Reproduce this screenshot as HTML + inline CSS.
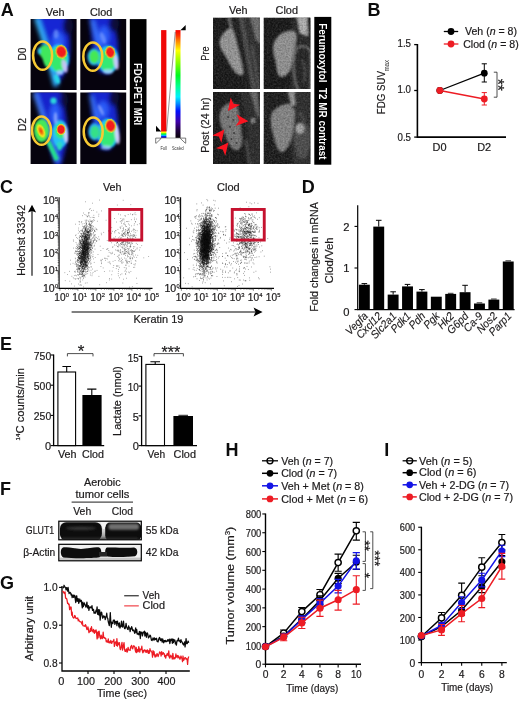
<!DOCTYPE html>
<html><head><meta charset="utf-8"><title>Figure</title>
<style>
html,body{margin:0;padding:0;background:#fff;}
body{width:520px;height:701px;overflow:hidden;font-family:"Liberation Sans",sans-serif;}
svg{display:block;}
svg text{font-family:"Liberation Sans",sans-serif;}
svg text:not([fill]){fill:#1c1a1b;stroke:#1c1a1b;stroke-width:.2px;}
</style></head><body>
<svg width="520" height="701" viewBox="0 0 520 701">
<rect width="520" height="701" fill="#fff"/>
<defs>
<filter id="b05" x="-20%" y="-20%" width="140%" height="140%"><feGaussianBlur stdDeviation=".5"/></filter>
<filter id="b1" x="-30%" y="-30%" width="160%" height="160%"><feGaussianBlur stdDeviation="1"/></filter>
<filter id="b2" x="-40%" y="-40%" width="180%" height="180%"><feGaussianBlur stdDeviation="2"/></filter>
<filter id="b3" x="-50%" y="-50%" width="200%" height="200%"><feGaussianBlur stdDeviation="3.2"/></filter>
<filter id="nz" x="0" y="0" width="100%" height="100%"><feTurbulence type="fractalNoise" baseFrequency=".55" numOctaves="2" seed="7" result="t"/><feColorMatrix in="t" type="matrix" values="0 0 0 0 1  0 0 0 0 1  0 0 0 0 1  .9 .9 0 0 -.62"/></filter>
<filter id="nzd" x="0" y="0" width="100%" height="100%"><feTurbulence type="fractalNoise" baseFrequency=".6" numOctaves="2" seed="3" result="t"/><feColorMatrix in="t" type="matrix" values="0 0 0 0 0  0 0 0 0 0  0 0 0 0 0  .9 .9 0 0 -.62"/></filter>
<linearGradient id="gsc" x1="0" y1="0" x2="0" y2="1">
<stop offset="0" stop-color="#f80000"/><stop offset=".05" stop-color="#ff3000"/><stop offset=".11" stop-color="#ff9000"/><stop offset=".19" stop-color="#ffff00"/><stop offset=".3" stop-color="#88ff00"/><stop offset=".42" stop-color="#00f820"/><stop offset=".52" stop-color="#00ff90"/><stop offset=".62" stop-color="#00f0ff"/><stop offset=".68" stop-color="#0090ff"/><stop offset=".75" stop-color="#0010ff"/><stop offset=".85" stop-color="#4000a8"/><stop offset=".93" stop-color="#200040"/><stop offset="1" stop-color="#080008"/></linearGradient>
<linearGradient id="gfu" x1="0" y1="0" x2="0" y2="1">
<stop offset="0" stop-color="#ff6000"/><stop offset=".18" stop-color="#ffff00"/><stop offset=".42" stop-color="#00f030"/><stop offset=".62" stop-color="#00d0ff"/><stop offset=".8" stop-color="#0020f0"/><stop offset="1" stop-color="#2000a0"/></linearGradient>
<radialGradient id="rsp"><stop offset="0" stop-color="#f81818"/><stop offset=".62" stop-color="#f02020"/><stop offset=".8" stop-color="#f0a020"/><stop offset=".92" stop-color="#c0f040"/><stop offset="1" stop-color="#40e060" stop-opacity="0"/></radialGradient>
<radialGradient id="hot"><stop offset="0" stop-color="#f03010"/><stop offset=".35" stop-color="#f09010"/><stop offset=".6" stop-color="#f0e820"/><stop offset=".85" stop-color="#60e840"/><stop offset="1" stop-color="#30e060" stop-opacity="0"/></radialGradient>
<clipPath id="cp1"><rect x="30.6" y="19.1" width="46" height="70.8"/></clipPath>
<clipPath id="cp2"><rect x="80.3" y="19.1" width="45.9" height="70.8"/></clipPath>
<clipPath id="cp3"><rect x="30.6" y="92.6" width="46" height="71.5"/></clipPath>
<clipPath id="cp4"><rect x="80.3" y="92.6" width="45.9" height="71.5"/></clipPath>
<clipPath id="cm1"><rect x="213" y="17.5" width="47" height="71.5"/></clipPath>
<clipPath id="cm2"><rect x="263.5" y="17.5" width="47" height="71.5"/></clipPath>
<clipPath id="cm3"><rect x="213" y="92" width="47" height="72"/></clipPath>
<clipPath id="cm4"><rect x="263.5" y="92" width="47" height="72"/></clipPath>
</defs>
<g opacity=".999">
<text x=".8" y="16.2" font-size="18" font-weight="bold" fill="#0c0c0c">A</text>
<text x="55.2" y="16.2" font-size="10.6" text-anchor="middle" textLength="18.8" lengthAdjust="spacingAndGlyphs">Veh</text>
<text x="101.2" y="16.2" font-size="10.6" text-anchor="middle" textLength="22.3" lengthAdjust="spacingAndGlyphs">Clod</text>
<text transform="translate(26.4 54.1) rotate(-90)" font-size="11" text-anchor="middle" textLength="13" lengthAdjust="spacingAndGlyphs">D0</text>
<text transform="translate(26.4 124.6) rotate(-90)" font-size="11" text-anchor="middle" textLength="13" lengthAdjust="spacingAndGlyphs">D2</text>
<g clip-path="url(#cp1)">
<rect x="30" y="19" width="47" height="71" fill="#06030e" />
<g filter="url(#b2)"><path d="M35 16L65 16C71 34 72 54 66 70L57 87L54 87Z" fill="#1626d4"/><path d="M36.5 18L46 46L56 86" stroke="#34b4ff" stroke-width="5" fill="none"/><ellipse cx="58" cy="42" rx="6" ry="10" fill="#2c5cf8" /><ellipse cx="68" cy="26" rx="5" ry="9" fill="#070a3c" /></g>
<g filter="url(#b1)"><ellipse cx="58.5" cy="59" rx="10.5" ry="14.5" fill="#24ccf0" /><path d="M39 50C40 45 46 44 50 47C53 52 53 62 50 67C46 69 44 64 43 60C42 56 38 55 39 50Z" fill="#3fe85c"/><ellipse cx="39.2" cy="51" rx="1.6" ry="3.2" fill="#30c0f0" /><ellipse cx="58.5" cy="59.5" rx="8.2" ry="12" fill="#36ea6c" /><ellipse cx="57" cy="79" rx="2.5" ry="5" fill="#28d8e8" transform="rotate(-20 57 79)"/><ellipse cx="64.6" cy="66" rx="2.6" ry="7" fill="#d2c2ff" opacity=".9" transform="rotate(-14 64.6 66)"/><ellipse cx="60" cy="72.5" rx="3.6" ry="2.6" fill="#a8ccff" opacity=".85"/><ellipse cx="56" cy="34" rx="2.5" ry="4.5" fill="#7aa0ff" opacity=".6"/></g>
<ellipse cx="61.3" cy="51.8" rx="6.2" ry="7.4" fill="url(#rsp)" filter="url(#b05)" transform="rotate(-15 61.3 51.8)"/>
<ellipse cx="42.6" cy="55.6" rx="9.5" ry="14.2" fill="none" stroke="#f7c934" stroke-width="2.5" />
</g>
<g clip-path="url(#cp2)">
<rect x="80" y="19" width="47" height="71" fill="#06030e" />
<g filter="url(#b2)"><path d="M89 16L111 16C117 30 120 48 117 62L109 74L99 72L93 50Z" fill="#1626d0"/><path d="M92 20L100 48" stroke="#3a78ff" stroke-width="4" fill="none"/><ellipse cx="104" cy="36" rx="5.5" ry="10" fill="#2c5cf8" /><ellipse cx="114" cy="24" rx="5" ry="8" fill="#070a3c" /></g>
<g filter="url(#b1)"><ellipse cx="108" cy="59.5" rx="10.5" ry="14" fill="#24c8f0" /><ellipse cx="94" cy="56.8" rx="6.6" ry="8.6" fill="#28a8f0" /><ellipse cx="94.2" cy="56.8" rx="5" ry="6.8" fill="#44e854" /><ellipse cx="107.5" cy="60.5" rx="8" ry="11" fill="#36ea74" /><ellipse cx="116" cy="62" rx="2.4" ry="8" fill="#d6c8ff" opacity=".9" transform="rotate(-10 116 62)"/><ellipse cx="108" cy="71.5" rx="5" ry="2.4" fill="#a8d4ff" opacity=".8"/><ellipse cx="103" cy="38" rx="2.5" ry="6" fill="#88a8ff" opacity=".55" transform="rotate(-20 103 38)"/></g>
<ellipse cx="110.2" cy="52.3" rx="5.3" ry="6.6" fill="url(#rsp)" filter="url(#b05)" transform="rotate(-12 110.2 52.3)"/>
<ellipse cx="92.8" cy="56.6" rx="9.5" ry="14.2" fill="none" stroke="#f7c934" stroke-width="2.5" />
</g>
<g clip-path="url(#cp3)">
<rect x="30" y="92" width="47" height="73" fill="#06030e" />
<g filter="url(#b2)"><path d="M34 90L60 90C66 108 69 128 66 146L61 166L55 166Z" fill="#1524cc"/><path d="M35 93L58 162" stroke="#3f7cff" stroke-width="4.5" fill="none"/><ellipse cx="55" cy="114" rx="5" ry="11" fill="#2c5cf8" /><ellipse cx="64" cy="100" rx="4" ry="8" fill="#070a3c" /></g>
<g filter="url(#b1)"><ellipse cx="53.5" cy="100.8" rx="3.2" ry="3.2" fill="#2cd4dc" /><ellipse cx="60" cy="134" rx="8.2" ry="14" fill="#26c0f4" /><path d="M48 141L57 160" stroke="#24e08c" stroke-width="4.4" fill="none"/><ellipse cx="41.5" cy="130.6" rx="7.6" ry="11.6" fill="#46e85a" /><ellipse cx="60.5" cy="131" rx="5.5" ry="7.5" fill="#36ea74" /><ellipse cx="59.5" cy="146" rx="2.6" ry="4.6" fill="#2cdcc0" /><ellipse cx="65.6" cy="134" rx="2.2" ry="9" fill="#dcd0ff" opacity=".9" transform="rotate(-8 65.6 134)"/><ellipse cx="55.5" cy="118" rx="1.8" ry="6" fill="#a4b8ff" opacity=".7"/></g>
<ellipse cx="41" cy="131" rx="4.8" ry="9.2" fill="url(#hot)" filter="url(#b05)" transform="rotate(-22 41 131)"/>
<ellipse cx="61" cy="129.5" rx="4.8" ry="5.8" fill="url(#rsp)" filter="url(#b05)" transform="rotate(0 61 129.5)"/>
<ellipse cx="41.5" cy="130.6" rx="9.5" ry="14.2" fill="none" stroke="#f7c934" stroke-width="2.5" />
</g>
<g clip-path="url(#cp4)">
<rect x="80" y="92" width="47" height="73" fill="#06030e" />
<g filter="url(#b2)"><path d="M89 90L111 90C117 104 120 124 117 140L109 150L99 148L93 124Z" fill="#1626d0"/><path d="M91 96L98 122" stroke="#3a78ff" stroke-width="3.6" fill="none"/><ellipse cx="103" cy="110" rx="5.5" ry="9" fill="#2c5cf8" /><ellipse cx="114" cy="98" rx="5" ry="8" fill="#070a3c" /></g>
<g filter="url(#b1)"><ellipse cx="108" cy="133.5" rx="10.5" ry="15" fill="#24c8f0" /><ellipse cx="94.6" cy="131.6" rx="6.4" ry="8.8" fill="#2c9cf4" /><ellipse cx="94.8" cy="132" rx="4.6" ry="6.6" fill="#34e088" /><ellipse cx="107.5" cy="135.5" rx="8" ry="12" fill="#36ea74" /><ellipse cx="117" cy="134" rx="2.4" ry="10.5" fill="#e0d4ff" opacity=".9" transform="rotate(-8 117 134)"/><ellipse cx="106" cy="147.5" rx="5" ry="2.2" fill="#a4d0ff" opacity=".75"/><ellipse cx="101" cy="110" rx="1.6" ry="6" fill="#a4b8ff" opacity=".6" transform="rotate(-25 101 110)"/></g>
<ellipse cx="110.5" cy="125.8" rx="5.8" ry="7.3" fill="url(#rsp)" filter="url(#b05)" transform="rotate(-8 110.5 125.8)"/>
<ellipse cx="93.2" cy="131.7" rx="9.5" ry="14.2" fill="none" stroke="#f7c934" stroke-width="2.5" />
</g>
<rect x="129.8" y="19.1" width="16.7" height="145" fill="#000" />
<text transform="translate(134.4 94.1) rotate(90)" font-size="11.3" text-anchor="middle" textLength="62.2" lengthAdjust="spacingAndGlyphs" font-weight="bold" fill="#fff">FDG-PET MRI</text>
<rect x="161.1" y="30.1" width="5.3" height="101.5" fill="#f00808" />
<rect x="161.1" y="131.2" width="5.3" height="6.7" fill="url(#gfu)" />
<rect x="175.5" y="30.1" width="5" height="107.8" fill="url(#gsc)" />
<line x1="175.2" y1="32" x2="166.6" y2="131" stroke="#333" stroke-width=".5" />
<line x1="161" y1="138" x2="180.6" y2="138" stroke="#444" stroke-width=".5" />
<path d="M180.4 30.2H185.7V25Z" fill="#000"/>
<path d="M156 125.8V131.4H161.2Z" fill="#000"/>
<path d="M155.7 138.1H161V138.6L156.2 143.2H155.7Z" fill="#fff" stroke="#222" stroke-width=".6"/>
<path d="M180.5 138.1H185.7V143.2H185.3L180.5 138.6Z" fill="#fff" stroke="#222" stroke-width=".6"/>
<text x="163.6" y="149.5" font-size="4.8" text-anchor="middle" textLength="6.4" lengthAdjust="spacingAndGlyphs" fill="#333">Full</text>
<text x="177.9" y="149.5" font-size="4.8" text-anchor="middle" textLength="11.6" lengthAdjust="spacingAndGlyphs" fill="#333">Scaled</text>
<text x="238.3" y="14" font-size="10.6" text-anchor="middle" textLength="18.6" lengthAdjust="spacingAndGlyphs">Veh</text>
<text x="286.8" y="14" font-size="10.6" text-anchor="middle" textLength="22.4" lengthAdjust="spacingAndGlyphs">Clod</text>
<text transform="translate(209.3 53.6) rotate(-90)" font-size="11" text-anchor="middle" textLength="14.2" lengthAdjust="spacingAndGlyphs">Pre</text>
<text transform="translate(209.3 125.2) rotate(-90)" font-size="11" text-anchor="middle" textLength="55.3" lengthAdjust="spacingAndGlyphs">Post (24 hr)</text>
<g clip-path="url(#cm1)">
<rect x="213" y="17.5" width="47" height="71.5" fill="#161616" />
<g filter="url(#b1)">
<path d="M238 17L261 17L261 90L250 90Z" fill="#2e2e2e"/>
<path d="M231 17L238 17L252 90L245 90Z" fill="#1e1e1e"/>
<path d="M239 17L243 17L256 90L252 90Z" fill="#4e4e4e"/>
<path d="M250 17L261 17L261 44L256 40Z" fill="#707070"/>
<path d="M252 46L256 70L258 90" stroke="#5c5c5c" stroke-width="1.6" fill="none"/>
<path d="M228.5 17L231 28" stroke="#8a8a8a" stroke-width="2.2" fill="none"/>
<path d="M230 28C233 27 234 33 236 40C238 50 242 62 243 72C243 76 239 76 236 73C231 68 228 60 224 54C220 48 218 42 221 37C223 33 227 29 230 28Z" fill="#9c9c9c"/>
</g>
<rect x="213" y="17.5" width="47" height="71.5" fill="#fff" filter="url(#nz)" opacity=".2"/>
<rect x="213" y="17.5" width="47" height="71.5" fill="#000" filter="url(#nzd)" opacity=".34"/>
</g>
<g clip-path="url(#cm2)">
<rect x="263.5" y="17.5" width="47" height="71.5" fill="#151515" />
<g filter="url(#b1)">
<path d="M292 17L311 17L311 90L290 90Z" fill="#282828"/>
<path d="M297 17L307 17L308 36L300 33Z" fill="#b8b8b8"/>
<path d="M308 17L311 17L311 40L308 38Z" fill="#141414"/>
<path d="M296 50C300 44 308 46 311 52L311 92L299 92C293 80 292 60 296 50Z" fill="#242424" stroke="#7e7e7e" stroke-width="1.5"/>
<path d="M302 60C305 64 306 74 304 82" stroke="#4a4a4a" stroke-width="2" fill="none"/>
<path d="M273 48C273 40 280 32 288 31C294 30 297 32 296 40C295 48 293 56 292 62C291 70 288 76 282 77C277 77 277 70 276 64C275 58 273 54 273 48Z" fill="#989898"/>
</g>
<rect x="263.5" y="17.5" width="47" height="71.5" fill="#fff" filter="url(#nz)" opacity=".2"/>
<rect x="263.5" y="17.5" width="47" height="71.5" fill="#000" filter="url(#nzd)" opacity=".34"/>
</g>
<g clip-path="url(#cm3)">
<rect x="213" y="92" width="47" height="72" fill="#171717" />
<g filter="url(#b1)">
<path d="M240 91L261 91L261 165L250 165Z" fill="#2a2a2a"/>
<path d="M236 91L241 91L252 165L246 165Z" fill="#1a1a1a"/>
<path d="M250 91L257 91L260 120L256 112Z" fill="#6a6a6a"/>
<path d="M246 140L250 165" stroke="#585858" stroke-width="1.6" fill="none"/>
<path d="M227 104C231 102 235 103 237 106C239 114 241 128 242 140C242 148 239 151 235 150C230 148 228 142 225 135C222 128 219 122 219.5 116C220 110 223 106 227 104Z" fill="#7c7c7c"/>
<ellipse cx="253" cy="120.6" rx="1.8" ry="2.6" fill="#9a9a9a" />
</g>
<ellipse cx="228" cy="117" rx="1.1" ry="1" fill="#3e3e3e" filter="url(#b05)"/>
<ellipse cx="233.5" cy="120" rx="1.1" ry="1" fill="#3e3e3e" filter="url(#b05)"/>
<ellipse cx="230" cy="127" rx="1.1" ry="1" fill="#3e3e3e" filter="url(#b05)"/>
<ellipse cx="234" cy="133" rx="1.1" ry="1" fill="#3e3e3e" filter="url(#b05)"/>
<ellipse cx="231.5" cy="139" rx="1.1" ry="1" fill="#3e3e3e" filter="url(#b05)"/>
<ellipse cx="236.5" cy="143" rx="1.1" ry="1" fill="#3e3e3e" filter="url(#b05)"/>
<rect x="213" y="92" width="47" height="72" fill="#fff" filter="url(#nz)" opacity=".2"/>
<rect x="213" y="92" width="47" height="72" fill="#000" filter="url(#nzd)" opacity=".34"/>
<path d="M0 0L-12.4 -6L-9 0L-12.4 6Z" fill="#fa1420" transform="translate(228 111) rotate(127)"/>
<path d="M0 0L-12.4 -6L-9 0L-12.4 6Z" fill="#fa1420" transform="translate(248.4 121.2) rotate(5)"/>
<path d="M0 0L-12.4 -6L-9 0L-12.4 6Z" fill="#fa1420" transform="translate(224.3 129.4) rotate(-52)"/>
<path d="M0 0L-12.4 -6L-9 0L-12.4 6Z" fill="#fa1420" transform="translate(228.4 142.4) rotate(-51)"/>
</g>
<g clip-path="url(#cm4)">
<rect x="263.5" y="92" width="47" height="72" fill="#171717" />
<g filter="url(#b1)">
<path d="M290 91L311 91L311 165L292 165Z" fill="#2a2a2a"/>
<path d="M287.5 91L294 91L295.5 106L291 105Z" fill="#9a9a9a"/>
<path d="M295 128C298 121 306 122 309 128C311 136 310 150 306 158L298 158C294 148 293 136 295 128Z" fill="#4c4c4c"/>
<ellipse cx="300" cy="128.5" rx="4.2" ry="5.2" fill="#aaaaaa" />
<path d="M300 112L304 122" stroke="#5a5a5a" stroke-width="1.6" fill="none"/>
<path d="M287 104C291 103 295 106 294.8 112C294.5 120 294 128 292 136C290 144 287 151 282.5 152C278 152 276 146 274 138C272 131 270.5 124 270.7 118C271 110 279 105 287 104Z" fill="#888"/>
<ellipse cx="293.6" cy="107.4" rx="1.6" ry="1.9" fill="#141414" />
</g>
<rect x="263.5" y="92" width="47" height="72" fill="#fff" filter="url(#nz)" opacity=".24"/>
<rect x="263.5" y="92" width="47" height="72" fill="#000" filter="url(#nzd)" opacity=".34"/>
</g>
<rect x="314.3" y="16.9" width="17" height="147.8" fill="#000" />
<text transform="translate(319 91.3) rotate(90)" font-size="11.3" text-anchor="middle" textLength="136.3" lengthAdjust="spacingAndGlyphs" font-weight="bold" fill="#fff" xml:space="preserve">Ferumoxytol  T2 MR contrast</text>
<text x="367.5" y="16.2" font-size="18" font-weight="bold" fill="#0c0c0c">B</text>
<path d="M417.4 44V137.1H506" stroke="#000" stroke-width="1.6" fill="none" />
<line x1="414.2" y1="44.6" x2="417.4" y2="44.6" stroke="#000" stroke-width="1.3" />
<line x1="414.2" y1="90.5" x2="417.4" y2="90.5" stroke="#000" stroke-width="1.3" />
<line x1="414.2" y1="137.1" x2="417.4" y2="137.1" stroke="#000" stroke-width="1.3" />
<text x="411" y="46.5" font-size="10.3" text-anchor="end" textLength="13.5" lengthAdjust="spacingAndGlyphs">1.5</text>
<text x="411" y="93.4" font-size="10.3" text-anchor="end" textLength="13.5" lengthAdjust="spacingAndGlyphs">1.0</text>
<text x="411" y="140.8" font-size="10.3" text-anchor="end" textLength="13.5" lengthAdjust="spacingAndGlyphs">0.5</text>
<text x="432.6" y="150.6" font-size="10.5" textLength="14" lengthAdjust="spacingAndGlyphs">D0</text>
<text x="477.2" y="150.6" font-size="10.5" textLength="14" lengthAdjust="spacingAndGlyphs">D2</text>
<text transform="translate(385 114.2) rotate(-90)" font-size="11.2" textLength="43.1" lengthAdjust="spacingAndGlyphs">FDG SUV</text>
<text transform="translate(389.1 71.6) rotate(-90)" font-size="6.8" textLength="11.8" lengthAdjust="spacingAndGlyphs" fill="#333">max</text>
<line x1="439.8" y1="90.5" x2="484.3" y2="73.2" stroke="#000" stroke-width="1.3" />
<line x1="439.8" y1="90.5" x2="484.3" y2="99" stroke="#ed1c24" stroke-width="1.3" />
<path d="M484.3 63.8V82M481.7 63.8h5.2M481.7 82h5.2" stroke="#000" stroke-width="1" fill="none" />
<path d="M484.3 92.6V105M481.7 92.6h5.2M481.7 105h5.2" stroke="#ed1c24" stroke-width="1" fill="none" />
<circle cx="484.3" cy="73.2" r="3.4" fill="#000" />
<circle cx="439.8" cy="90.5" r="3.4" fill="#000" />
<circle cx="484.3" cy="99" r="3.4" fill="#ed1c24" />
<circle cx="439.8" cy="90.5" r="3.4" fill="#ed1c24" />
<path d="M493.8 72.2H497V97.2H493.8" stroke="#222" stroke-width=".8" fill="none" />
<text transform="translate(491.7 84.8) rotate(90)" font-size="16.5" text-anchor="middle" textLength="12.32" lengthAdjust="spacingAndGlyphs">**</text>
<line x1="443.8" y1="31.5" x2="458.2" y2="31.5" stroke="#000" stroke-width="1.3" />
<circle cx="451" cy="31.5" r="3.4" fill="#000" />
<line x1="443.8" y1="44" x2="458.4" y2="44" stroke="#ed1c24" stroke-width="1.3" />
<circle cx="451" cy="44" r="3.4" fill="#ed1c24" />
<text x="465" y="35.2" font-size="10.5" textLength="52" lengthAdjust="spacingAndGlyphs">Veh (<tspan font-style="italic">n</tspan> = 8)</text>
<text x="463.2" y="48.2" font-size="10.5" textLength="55.5" lengthAdjust="spacingAndGlyphs">Clod (<tspan font-style="italic">n</tspan> = 8)</text>
<text x=".05" y="193.2" font-size="18" font-weight="bold" fill="#0c0c0c">C</text>
<text x="112.3" y="190.5" font-size="10.4" text-anchor="middle" textLength="18.6" lengthAdjust="spacingAndGlyphs">Veh</text>
<text x="228.4" y="190.5" font-size="10.4" text-anchor="middle" textLength="22.6" lengthAdjust="spacingAndGlyphs">Clod</text>
<path d="M59.1 197.2V288.4H152.5" stroke="#000" stroke-width="1.1" fill="none" />
<path d="M59.1 288.4h-2.6M59.9 288.4v2.4M59.1 283.13h-1.4M65.32 288.4v1.3M59.1 280.05h-1.4M68.49 288.4v1.3M59.1 277.86h-1.4M70.74 288.4v1.3M59.1 276.17h-1.4M72.48 288.4v1.3M59.1 274.78h-1.4M73.91 288.4v1.3M59.1 273.61h-1.4M75.11 288.4v1.3M59.1 272.6h-1.4M76.16 288.4v1.3M59.1 271.7h-1.4M77.08 288.4v1.3M59.1 270.9h-2.6M77.9 288.4v2.4M59.1 265.63h-1.4M83.32 288.4v1.3M59.1 262.55h-1.4M86.49 288.4v1.3M59.1 260.36h-1.4M88.74 288.4v1.3M59.1 258.67h-1.4M90.48 288.4v1.3M59.1 257.28h-1.4M91.91 288.4v1.3M59.1 256.11h-1.4M93.11 288.4v1.3M59.1 255.1h-1.4M94.16 288.4v1.3M59.1 254.2h-1.4M95.08 288.4v1.3M59.1 253.4h-2.6M95.9 288.4v2.4M59.1 248.13h-1.4M101.32 288.4v1.3M59.1 245.05h-1.4M104.49 288.4v1.3M59.1 242.86h-1.4M106.74 288.4v1.3M59.1 241.17h-1.4M108.48 288.4v1.3M59.1 239.78h-1.4M109.91 288.4v1.3M59.1 238.61h-1.4M111.11 288.4v1.3M59.1 237.6h-1.4M112.16 288.4v1.3M59.1 236.7h-1.4M113.08 288.4v1.3M59.1 235.9h-2.6M113.9 288.4v2.4M59.1 230.63h-1.4M119.32 288.4v1.3M59.1 227.55h-1.4M122.49 288.4v1.3M59.1 225.36h-1.4M124.74 288.4v1.3M59.1 223.67h-1.4M126.48 288.4v1.3M59.1 222.28h-1.4M127.91 288.4v1.3M59.1 221.11h-1.4M129.11 288.4v1.3M59.1 220.1h-1.4M130.16 288.4v1.3M59.1 219.2h-1.4M131.08 288.4v1.3M59.1 218.4h-2.6M131.9 288.4v2.4M59.1 213.13h-1.4M137.32 288.4v1.3M59.1 210.05h-1.4M140.49 288.4v1.3M59.1 207.86h-1.4M142.74 288.4v1.3M59.1 206.17h-1.4M144.48 288.4v1.3M59.1 204.78h-1.4M145.91 288.4v1.3M59.1 203.61h-1.4M147.11 288.4v1.3M59.1 202.6h-1.4M148.16 288.4v1.3M59.1 201.7h-1.4M149.08 288.4v1.3M59.1 200.9h-2.6M149.9 288.4v2.4" stroke="#222" stroke-width=".55" fill="none" />
<text x="54.7" y="291.9" font-size="10" text-anchor="end" textLength="11.8" lengthAdjust="spacingAndGlyphs">10</text><text x="54.9" y="288" font-size="5.8">0</text>
<text x="54.3" y="301.1" font-size="10" textLength="11.2" lengthAdjust="spacingAndGlyphs">10</text><text x="65.7" y="297.2" font-size="5.8">0</text>
<text x="54.7" y="274.4" font-size="10" text-anchor="end" textLength="11.8" lengthAdjust="spacingAndGlyphs">10</text><text x="54.9" y="270.5" font-size="5.8">1</text>
<text x="72.3" y="301.1" font-size="10" textLength="11.2" lengthAdjust="spacingAndGlyphs">10</text><text x="83.7" y="297.2" font-size="5.8">1</text>
<text x="54.7" y="256.9" font-size="10" text-anchor="end" textLength="11.8" lengthAdjust="spacingAndGlyphs">10</text><text x="54.9" y="253" font-size="5.8">2</text>
<text x="90.3" y="301.1" font-size="10" textLength="11.2" lengthAdjust="spacingAndGlyphs">10</text><text x="101.7" y="297.2" font-size="5.8">2</text>
<text x="54.7" y="239.4" font-size="10" text-anchor="end" textLength="11.8" lengthAdjust="spacingAndGlyphs">10</text><text x="54.9" y="235.5" font-size="5.8">3</text>
<text x="108.3" y="301.1" font-size="10" textLength="11.2" lengthAdjust="spacingAndGlyphs">10</text><text x="119.7" y="297.2" font-size="5.8">3</text>
<text x="54.7" y="221.9" font-size="10" text-anchor="end" textLength="11.8" lengthAdjust="spacingAndGlyphs">10</text><text x="54.9" y="218" font-size="5.8">4</text>
<text x="126.3" y="301.1" font-size="10" textLength="11.2" lengthAdjust="spacingAndGlyphs">10</text><text x="137.7" y="297.2" font-size="5.8">4</text>
<text x="54.7" y="204.4" font-size="10" text-anchor="end" textLength="11.8" lengthAdjust="spacingAndGlyphs">10</text><text x="54.9" y="200.5" font-size="5.8">5</text>
<text x="144.3" y="301.1" font-size="10" textLength="11.2" lengthAdjust="spacingAndGlyphs">10</text><text x="155.7" y="297.2" font-size="5.8">5</text>
<path d="M89.64 243.83h.68M82.61 259.18h.68M82.73 252.64h.68M76.8 253.37h.68M83.44 258.36h.68M83.82 246.13h.68M82.47 253.83h.68M84.64 255.07h.68M85.93 245.03h.68M81.81 246.11h.68M80.77 261.36h.68M82.8 252.12h.68M83.36 278.01h.68M83.27 275.46h.68M81.42 243.58h.68M80.77 255.06h.68M88.38 229.08h.68M89.14 244.14h.68M85.08 241.35h.68M83.19 242.67h.68M89.52 227.34h.68M83.06 254.08h.68M85.99 252.69h.68M89.28 242.06h.68M85.99 250.16h.68M83.37 261.28h.68M84.39 268.85h.68M83.94 236.22h.68M81.95 268.65h.68M84.56 231.88h.68M84.57 241.8h.68M83.33 246.58h.68M81.99 268.12h.68M82.51 257.66h.68M83.8 257.45h.68M82.64 268.27h.68M84.76 253.45h.68M88.49 245.95h.68M78.4 267.24h.68M87.95 248.51h.68M84.98 236.83h.68M82.8 231.69h.68M83.56 252.7h.68M82.38 271.71h.68M86.26 259.21h.68M81.29 251.47h.68M83.44 264.42h.68M86.18 234.37h.68M79.18 255.73h.68M81.6 244.97h.68M84.3 266.25h.68M87.02 241.62h.68M86.25 259.86h.68M85.42 253.17h.68M85.25 251.13h.68M83.77 258.66h.68M87.61 249.5h.68M80.33 266.91h.68M84.05 248.64h.68M87.66 226.78h.68M78.34 267.01h.68M86.26 265.76h.68M81.5 256.58h.68M82.46 266.42h.68M89.26 258.63h.68M82.89 241.71h.68M85.05 228.19h.68M89.58 239.35h.68M81.61 247.76h.68M82.46 256.73h.68M87.18 235.14h.68M86.44 240.88h.68M84.13 267.77h.68M85.98 243.16h.68M88.65 242.78h.68M88.01 240.34h.68M84.01 268.95h.68M81.49 259.68h.68M81.29 260.82h.68M77.22 269.27h.68M84.99 261.61h.68M77.8 265.81h.68M86.17 255h.68M88.22 260.6h.68M80.64 257.91h.68M81.58 258.7h.68M84.22 237.95h.68M86.69 248.53h.68M82.28 246.87h.68M84.58 243.7h.68M82.84 250.43h.68M81.52 270.97h.68M86.65 261.36h.68M81.5 251.95h.68M84.03 254.61h.68M83.39 266.47h.68M87.88 237.41h.68M80.37 255.17h.68M85.39 269.24h.68M83.4 270.77h.68M85.58 260.81h.68M83.8 256.95h.68M81.8 230.77h.68M83.26 242.92h.68M86.48 250.32h.68M83.9 254.97h.68M83.64 255.33h.68M91.6 225.4h.68M90.76 244.81h.68M83.82 253.81h.68M90.29 242.24h.68M79.09 248.24h.68M78.13 256.38h.68M86.23 254.11h.68M83.33 252.66h.68M84.98 258.86h.68M84.38 263.19h.68M84.31 247.5h.68M87.23 239.09h.68M85.4 243.02h.68M80.63 245.28h.68M84.87 250.25h.68M86.39 234.08h.68M90.02 242.32h.68M81.46 247.96h.68M82.77 265.75h.68M82.5 256.54h.68M84.03 249.12h.68M87.73 260.54h.68M85.04 252.8h.68M82.71 253.4h.68M83.46 262.6h.68M85.91 254.56h.68M81.36 252.54h.68M82.7 258.81h.68M88.98 244.84h.68M86.47 251.39h.68M86.41 227.72h.68M83.38 246.29h.68M82.09 267.9h.68M80.42 246.96h.68M86.75 250.92h.68M85.59 246.28h.68M85.71 239.62h.68M80.16 256.33h.68M82.3 250.71h.68M84.39 262.99h.68M85.88 241.18h.68M82.82 251.39h.68M85.94 247.23h.68M87.39 244.49h.68M81.19 262.9h.68M83.57 242.92h.68M82.65 243.04h.68M78.3 278.85h.68M86.43 250.21h.68M85.8 248.74h.68M84.6 256.11h.68M82.14 239.94h.68M80.99 254.9h.68M85.31 238.04h.68M83.6 245.8h.68M85.15 244.72h.68M80.82 265.88h.68M85.27 258.01h.68M87.02 271.37h.68M86.53 269.5h.68M89.3 243.5h.68M83.81 256.86h.68M87.16 246.28h.68M83.87 244.08h.68M85.36 264.25h.68M81.59 266.87h.68M82.73 252.47h.68M82.08 254.77h.68M85.76 254.28h.68M84.58 254.62h.68M84.31 254.94h.68M82.23 239.93h.68M83.9 257.82h.68M81.06 243.49h.68M89.49 237.95h.68M83.99 249.5h.68M84.42 254.02h.68M82.98 260.31h.68M79.5 255.23h.68M80.17 254.28h.68M84.85 243.71h.68M87.79 255.42h.68M80.95 253.36h.68M81.97 254.23h.68M84.89 242.81h.68M77.77 269.74h.68M78.78 259.34h.68M82.34 258.5h.68M83.97 252.05h.68M83.46 247.88h.68M87.32 261.25h.68M85.22 236.41h.68M85.68 245.91h.68M88.84 247.76h.68M88.17 257.26h.68M80.25 247.55h.68M81.62 266.61h.68M89.28 231.59h.68M78.76 268.2h.68M81.36 254.44h.68M79.67 261.3h.68M81.09 245.28h.68M80 262.35h.68M85.04 247.33h.68M87.35 253.75h.68M89.97 234.59h.68M83.64 256.93h.68M78.75 252.28h.68M86.13 230.14h.68M83.4 249.8h.68M85.51 247.4h.68M82.96 259.96h.68M80.11 243.44h.68M85.11 253.03h.68M77.2 265.12h.68M83.31 241.27h.68M82.98 271.62h.68M84.89 253.6h.68M88.7 248.38h.68M79.34 235.82h.68M87.09 231.28h.68M85.02 261.44h.68M83.84 245.78h.68M86.62 244.01h.68M80.06 262.63h.68M85.24 258.36h.68M85.53 252.24h.68M83.18 234.67h.68M84.57 229.32h.68M82.66 261.32h.68M82.49 250.39h.68M87.32 248h.68M82.57 272.05h.68M88.22 246.27h.68M86.98 254.9h.68M81.99 274.71h.68M83.01 257.71h.68M82.26 244.86h.68M82.96 241.64h.68M80.7 264.4h.68M86.51 237.31h.68M80.89 260.21h.68M82.62 268.89h.68M84.83 249.94h.68M81.94 260.16h.68M83.61 251.84h.68M86.53 266.73h.68M88.24 254.12h.68M82.85 243.35h.68M83.27 255.06h.68M83.02 252.74h.68M84.12 244.31h.68M88.6 248.49h.68M87.38 237.78h.68M88.52 241.83h.68M88.28 258.21h.68M85.04 230.69h.68M83.38 254.17h.68M84.28 251.25h.68M87.61 244.59h.68M82.39 266.65h.68M85.17 258.75h.68M88 244.54h.68M87.11 253.35h.68M84.38 261.24h.68M83.8 233.71h.68M79.76 253.49h.68M87.49 248.37h.68M84.99 255.47h.68M79.33 274.41h.68M83.55 243.91h.68M83.36 247.33h.68M80.99 237.85h.68M84.63 253.52h.68M81.38 257.96h.68M86.12 223.9h.68M84.56 267.35h.68M82.17 268.76h.68M88.61 221.58h.68M87 234.37h.68M83.75 256.36h.68M84.21 252.18h.68M87.91 264.14h.68M84.03 248.06h.68M87.14 265.51h.68M83.22 236.13h.68M85.69 255.84h.68M85.11 246.49h.68M82.72 246.11h.68M78.98 231.73h.68M88.92 246.82h.68M79.53 266.53h.68M82.28 244.18h.68M84.77 248.81h.68M84.17 252.84h.68M85.98 240.68h.68M83.18 254.34h.68M79.49 257.62h.68M86.76 248.78h.68M83.77 230.87h.68M83.06 268.38h.68M85.65 252.03h.68M87.37 251.24h.68M83.8 249.15h.68M83.98 244.95h.68M85.36 233.09h.68M79.21 250.96h.68M81.95 253.16h.68M80.34 262.43h.68M79.24 269.59h.68M85.41 243.47h.68M81.53 269.33h.68M88.36 252.49h.68M87.52 258.01h.68M80.19 240.29h.68M84.09 255.37h.68M82.48 241.15h.68M84.9 259.02h.68M85.95 237.72h.68M86.61 252.01h.68M85.45 246.93h.68M85.8 255.52h.68M83.05 254.39h.68M77.19 253.38h.68M81.5 246.05h.68M80.87 261.2h.68M82.18 257.98h.68M82.26 243.03h.68M87.71 259.95h.68M84.39 244.58h.68M87.53 252.69h.68M83.32 250.66h.68M88.69 250.72h.68M80 260.56h.68M87.74 231.84h.68M79.12 265.88h.68M87.27 232.23h.68M87.03 265.58h.68M79.08 258.11h.68M83.4 235.43h.68M84.37 255.89h.68M83.95 248.45h.68M81.71 238.9h.68M85.88 265.42h.68M83 264.44h.68M87.16 256.31h.68M83.09 270.73h.68M80.8 253.82h.68M83.09 249.12h.68M86.35 266.78h.68M81.16 244.02h.68M81.93 261.12h.68M84.46 264.65h.68M86.56 254.77h.68M86.18 253.5h.68M79.55 257.72h.68M89.42 255.09h.68M84.39 244.64h.68M88.07 212.64h.68M84.62 246.69h.68M85.06 236.11h.68M80.36 263.25h.68M83.68 247.34h.68M87.36 255.07h.68M79.54 260.79h.68M76.35 263.83h.68M86.54 242.09h.68M82.56 276.48h.68M85 262.68h.68M88 259.61h.68M83.11 242.31h.68M82.29 274.92h.68M84.68 259.8h.68M86.13 264.92h.68M87.16 249.15h.68M79.66 273.64h.68M78.69 268.9h.68M83.43 251.33h.68M77.48 274.68h.68M88.23 240.67h.68M82.02 262.15h.68M82.38 259.62h.68M80.89 260.06h.68M88.97 244.46h.68M85.26 248.19h.68M81.9 262.89h.68M84.55 264h.68M83.92 251.46h.68M85.99 249.09h.68M88.24 246.16h.68M81.91 266.78h.68M85.67 250.16h.68M86.02 245.66h.68M89.31 230.51h.68M87.73 231.73h.68M85.49 238.99h.68M84.69 228.73h.68M85.42 246.77h.68M81.69 247.87h.68M87.06 240.04h.68M84.82 246.41h.68M85.78 250.07h.68M84.76 231.39h.68M81.24 258.92h.68M84.81 220.26h.68M85.01 272.75h.68M85.25 234.56h.68M83.55 251.31h.68M79.77 246.97h.68M83.63 255.16h.68M75.7 242.56h.68M87.28 256.95h.68M85.3 233.46h.68M83.41 259.43h.68M80.67 247.78h.68M80.83 255.15h.68M84.7 262.34h.68M84.97 237.67h.68M86.03 244.32h.68M88.48 242.55h.68M86.11 249.84h.68M78.9 252.78h.68M80.74 259.01h.68M80.9 253.36h.68M81.93 249.18h.68M77.98 257h.68M77.52 262.42h.68M81.12 261.73h.68M80.25 274.32h.68M86.3 243.94h.68M83.07 253.56h.68M89.54 236.02h.68M80.04 243.29h.68M79.75 257.88h.68M83.47 264.98h.68M84.01 245.5h.68M81.01 256.2h.68M86.18 251.9h.68M86.57 256.68h.68M87.49 253.46h.68M83.65 245.72h.68M86.67 226.04h.68M86.47 234.35h.68M83.92 255.29h.68M87.04 250.06h.68M80.55 274.17h.68M85.14 251.55h.68M77.21 261.19h.68M87.54 237.9h.68M90.17 235.53h.68M83.9 253.27h.68M85.13 269.61h.68M79.25 255.54h.68M83.64 247.52h.68M79.58 255.54h.68M84.37 257.9h.68M85.1 256.04h.68M80.46 251.3h.68M83.08 239.33h.68M83.87 238.39h.68M91.3 245.32h.68M84.14 249.59h.68M85.97 236.46h.68M83.4 268.72h.68M84.33 257.66h.68M84.13 245.19h.68M79.75 259.51h.68M79.66 278h.68M88.33 253.76h.68M84.63 253.53h.68M82.04 262.46h.68M82.04 236.03h.68M84.66 244.8h.68M85.13 242.56h.68M81.58 259.58h.68M88.46 232.43h.68M82.24 254.65h.68M84.27 245.73h.68M86.78 247.91h.68M85.41 244.9h.68M85.6 267.32h.68M84.52 241.53h.68M84.34 237.86h.68M85.11 254.48h.68M85.41 244.65h.68M86.83 256.69h.68M85.35 250.4h.68M84.08 251.43h.68M85.35 251.63h.68M87.84 232.3h.68M83.4 228.7h.68M81.59 273.24h.68M84.59 238.03h.68M86.87 256.73h.68M84.13 238.57h.68M87.17 249.98h.68M81.08 248.04h.68M82.45 267h.68M87.31 248.69h.68M85.2 233.99h.68M88.89 235.25h.68M78.4 254.29h.68M83.32 260.58h.68M82.42 273.16h.68M81.52 274.46h.68M81.7 235.28h.68M86.13 249.66h.68M79.26 237.48h.68M86.46 254.04h.68M84.1 259.83h.68M88.89 230.75h.68M82.57 260.41h.68M80.41 258.93h.68M83.09 248.15h.68M83.61 244.33h.68M83.99 269.3h.68M83.53 249.31h.68M86.53 238.93h.68M85.39 252.19h.68M86.9 262.42h.68M78.08 258.57h.68M85.28 229.34h.68M87.58 235.94h.68M86.54 246.41h.68M82.55 252.59h.68M83.35 252.57h.68M85.37 237.06h.68M83.58 261.07h.68M82.2 256.15h.68M84.25 233.55h.68M82.29 240.33h.68M83.34 249.7h.68M89.67 234.14h.68M81.66 251.26h.68M86.66 252.83h.68M89.97 246.12h.68M84.17 257.33h.68M88.63 270.95h.68M84.62 243.7h.68M88.25 256.23h.68M84.65 246.01h.68M79.31 267.94h.68M83.84 264.83h.68M89.38 251h.68M83.38 244.21h.68M84.73 259.65h.68M81.68 250.32h.68M83.27 237.47h.68M86.64 239.93h.68M83.99 249.22h.68M83.44 274.99h.68M86.54 263.08h.68M79.6 266.31h.68M81.42 261.44h.68M82.91 266.28h.68M88.91 267.65h.68M84.67 238.82h.68M82.36 257.77h.68M84.82 257.98h.68M89.48 256.51h.68M82.32 255.66h.68M86.31 223.22h.68M84.27 253.05h.68M87.9 236.06h.68M89.2 261.58h.68M81.58 245.31h.68M80.2 247.98h.68M84.88 250.39h.68M88.1 228.44h.68M78.57 249.08h.68M84.15 236.99h.68M85.95 261.52h.68M83.59 245.11h.68M86.99 238.42h.68M83.53 264.63h.68M86.52 247.67h.68M86.68 240.23h.68M85.27 249.78h.68M88.03 248.78h.68M82.68 253.52h.68M85.9 239.87h.68M86.33 262.73h.68M82.6 254.5h.68M81.68 268.87h.68M81.82 257.15h.68M83.02 240.17h.68M88.77 262.66h.68M86.03 248.14h.68M89.43 252.13h.68M89.17 223.89h.68M86.07 237.19h.68M82.21 266.12h.68M83.98 263.16h.68M86.3 231.64h.68M86.58 254.69h.68M81.75 254.83h.68M83.56 264.79h.68M86.93 239.03h.68M85.78 231.87h.68M83.51 254.47h.68M86.69 243.76h.68M86.64 244.56h.68M85.19 241.18h.68M83.07 264.76h.68M83.92 241.57h.68M84.91 261.73h.68M83.46 257.91h.68M80.96 243.88h.68M82.54 261.9h.68M84.71 265.1h.68M84.81 255.1h.68M82.3 248.61h.68M85.57 259.52h.68M86.88 242.95h.68M85.51 256.63h.68M86.83 268.09h.68M84.99 236.36h.68M88.01 231.28h.68M82.89 259.21h.68M88.02 241.44h.68M88.01 246.14h.68M85.53 252.82h.68M87.06 244.34h.68M82.04 252.53h.68M87.12 240.32h.68M81.73 245.29h.68M90.27 250.19h.68M86.84 257.24h.68M80.66 246.55h.68M76.76 254.9h.68M87.15 257.83h.68M81.43 256.72h.68M85.88 249.91h.68M79.34 265.55h.68M85.31 242.64h.68M81.36 262.73h.68M84.77 262.14h.68M82.36 261.01h.68M88.82 245.55h.68M81.13 261.82h.68M87.16 256.5h.68M85.42 238.88h.68M85.97 247.83h.68M81.37 236.77h.68M79.07 255.42h.68M85.52 266.62h.68M79.88 261.44h.68M84.39 240.28h.68M84.45 240.22h.68M81.98 249.18h.68M84.91 249.6h.68M79.58 259.44h.68M81.34 247.74h.68M85.45 263.66h.68M82.61 245.48h.68M85.05 262.71h.68M87.57 235.38h.68M88.89 245.26h.68M85.37 251.77h.68M78.32 260.46h.68M81.85 257.14h.68M84.02 241.84h.68M88.92 237.05h.68M85.13 251.12h.68M82.95 250.42h.68M85.77 247.08h.68M83.23 251.14h.68M87.11 236.78h.68M84.02 257h.68M86.06 262.3h.68M86.04 241.62h.68M87.79 242.01h.68M82.78 264.9h.68M84.91 263.16h.68M84.62 242.66h.68M86.65 243.91h.68M86.69 232.18h.68M83.29 256.79h.68M82.81 253.58h.68M83.39 251.7h.68M82.96 276.17h.68M78.17 249.4h.68M87.64 250.1h.68M77.49 254.2h.68M83.86 249.32h.68M82.05 263.57h.68M86.34 249.59h.68M84.65 252.82h.68M81.57 276.17h.68M85.02 245.1h.68M88.02 238.31h.68M90.3 253.21h.68M85.85 244.7h.68M79.29 244.5h.68M82.78 253.89h.68M84.35 260.81h.68M94.79 234.61h.68M82.31 249.25h.68M85.45 228.44h.68M84.66 261.48h.68M86.17 239.98h.68M79.89 258.39h.68M84.75 271.03h.68M79.15 266.02h.68M83 255.83h.68M89.94 229.34h.68M78.54 271.95h.68M83.71 246.58h.68M87.82 259.9h.68M84.04 245.58h.68M81.62 248.47h.68M80.84 268.84h.68M88.27 232.85h.68M81.31 237.51h.68M82.8 247.85h.68M79.09 262.7h.68M83.82 223.55h.68M86.28 264.91h.68M84.42 246.51h.68M82.24 258.71h.68M82.45 279.97h.68M81.7 256.69h.68M79.73 263.16h.68M85.77 266.24h.68M86.89 247.8h.68M81.74 252.67h.68M86.28 249.24h.68M87.89 253.48h.68M85.85 247.79h.68M86.11 245.37h.68M81.5 244.44h.68M82.99 259.5h.68M80.6 236.42h.68M87.09 252.23h.68M82.21 266.18h.68M89.3 235.78h.68M84.03 231.71h.68M85.82 258.5h.68M80.77 242.24h.68M83.9 242.99h.68M84.97 258.07h.68M84.82 254.44h.68M84.78 243.54h.68M80.08 247.39h.68M89.41 234.73h.68M86.63 244.58h.68M87.38 250.15h.68M86.65 257.08h.68M82.52 257.52h.68M83.34 270.18h.68M91.46 250.26h.68M80.81 262.02h.68M85 254.03h.68M83.75 240.21h.68M88.6 254.56h.68M84.28 254.91h.68M80.61 258.49h.68M82 256.51h.68M80.21 252.52h.68M78.96 241.22h.68M77.13 247.68h.68M81.89 254.22h.68M80.39 258.2h.68M83.7 260.01h.68M81.53 255.03h.68M84.1 258.06h.68M87.45 266.82h.68M80.75 253.31h.68M81.47 245.14h.68M88.43 235.41h.68M90.56 251.41h.68M81.12 257.85h.68M79.98 246.89h.68M81.77 267.28h.68M84.04 241.45h.68M86.54 246.88h.68M81.34 250.51h.68M84.84 237.29h.68M82.24 262.01h.68M80.71 242.62h.68M81.21 237.84h.68M87.44 230.69h.68M84.69 260.92h.68M80.63 264.82h.68M89.61 239.58h.68M88.34 235.02h.68M85.99 245.71h.68M85.91 250.52h.68M85.77 244.73h.68M85.67 255.93h.68M87.76 238.94h.68M82.14 273.36h.68M78.2 254.62h.68M82.66 261.84h.68M82.37 246.26h.68M79.89 261.32h.68M84.01 269.06h.68M80.11 242.83h.68M86.33 252.28h.68M81.34 261.86h.68M80.36 255.43h.68M82.73 241.6h.68M91.12 245.75h.68M87.59 257.33h.68M83.04 254.56h.68M87.84 243.65h.68M88.71 254.57h.68M84.23 226.47h.68M83.31 251.74h.68M85.66 261.48h.68M84.26 261.2h.68M83.63 246.19h.68M88.38 253.69h.68M85.34 253.41h.68M86.5 249.58h.68M91.68 241.89h.68M87.13 234.93h.68M92.18 243.86h.68M86.44 236.78h.68M86.15 226.83h.68M83.33 263.09h.68M88.34 233.47h.68M86.88 242.1h.68M86.11 241.92h.68M82.23 229.55h.68M81.06 252.19h.68M85.59 229.53h.68M84.51 267.7h.68M89.99 232.69h.68M78.73 239.21h.68M84.25 246.07h.68M83.36 246.41h.68M84.17 247.88h.68M83.81 260.36h.68M80.57 263.37h.68M78.09 275.17h.68M88.31 237.46h.68M85.06 262.75h.68M82.22 258.85h.68M84.1 248.17h.68M83.64 237.06h.68M77.53 278.37h.68M84.53 265.16h.68M84.21 232.03h.68M79.29 268.68h.68M81.88 257.06h.68M88.32 254.52h.68M84.4 260.7h.68M85.39 245.13h.68M84.47 250.36h.68M85.39 262.44h.68M87.38 238.94h.68M81.99 236.55h.68M85.29 232.97h.68M81.44 260.08h.68M85.85 239.88h.68M84.3 247.66h.68M79.13 245.95h.68M86.6 258.04h.68M84.41 255.43h.68M80.2 242.39h.68M85.68 267.01h.68M83.95 256.17h.68M85 255.24h.68M84.64 246.55h.68M84.9 247.59h.68M82.96 248.5h.68M79.46 251.54h.68M81.88 256.05h.68M84.08 256.09h.68M84.45 248.45h.68M85.98 249.89h.68M83 259.09h.68M76.53 264.56h.68M84.67 265.15h.68M81.83 250.99h.68M81.73 237.2h.68M82.96 253.05h.68M80.07 253.11h.68M84.91 252.17h.68M80.89 256.97h.68M89.89 245.72h.68M83.18 252.54h.68M85.03 225.57h.68M80.22 270.95h.68M78.01 251.58h.68M81.94 247.68h.68M81.32 256.97h.68M83.35 248.44h.68M78.68 243.09h.68M83.17 260.42h.68M87.46 251.83h.68M83.57 243.61h.68M83.09 258.79h.68M84.69 256.06h.68M81.39 255.33h.68M83.14 247.79h.68M85.45 263.04h.68M85.55 241.12h.68M79.73 260.41h.68M77.46 267.94h.68M91.35 240.98h.68M85.03 253.62h.68M81.7 231.19h.68M84.47 251.41h.68M87.85 232.09h.68M85.9 236.21h.68M78.72 253.21h.68M87.9 262.97h.68M85.21 256.57h.68M83.83 248.55h.68M86.88 242.28h.68M83.5 251.15h.68M80.55 277.71h.68M85.03 266.68h.68M80.19 236.16h.68M87.71 243.04h.68M86.86 235.02h.68M85.64 257.14h.68M87.02 247.7h.68M90.18 233.85h.68M88.36 248.96h.68M87.18 245.51h.68M84.33 239.11h.68M86.51 246.95h.68M81.95 260.53h.68M82.64 240.56h.68M85.9 246.9h.68M86.82 235.07h.68M87.99 246.32h.68M76.86 266.09h.68M85.3 256.98h.68M86.9 243.03h.68M85.25 244.26h.68M86.96 264.89h.68M82.02 249.54h.68M85.78 245.34h.68M81.98 263.78h.68M84.68 246.66h.68M82.41 243.21h.68M83.43 255.82h.68M87.55 236.93h.68M85.07 246.61h.68M86.07 242.8h.68M81.99 253.1h.68M88.73 250.32h.68M80.3 271.93h.68M83.53 259.32h.68M85.82 252.02h.68M83.1 258.11h.68M86.55 249.38h.68M84.47 254.73h.68M88.25 258.38h.68M85.22 257.05h.68M83.75 267.54h.68M81.38 258.14h.68M86.27 244.13h.68M86.67 254.92h.68M86.6 239.46h.68M79.42 274.34h.68M84.79 231.2h.68M83.71 250.51h.68M83.7 257.49h.68M81.45 241.53h.68M89.81 247.11h.68M82.8 263.17h.68M85.87 238.3h.68M81.98 261.96h.68M84.35 249.17h.68M89.85 247.73h.68M79.42 273.61h.68M81.92 260.32h.68M80.94 256.03h.68M82.97 248.91h.68M88.17 253.7h.68M82.66 249.85h.68M80.92 271.94h.68M79.02 253.95h.68M84.01 243.63h.68M85.35 246.18h.68M82.39 256.26h.68M84.31 239.56h.68M87.19 243.38h.68M87.39 233.96h.68M86.45 226.2h.68M79.53 276.92h.68M80.31 249.44h.68M86.78 271.49h.68M79.33 258.17h.68M85.6 255.14h.68M84.85 239.71h.68M82.21 251.5h.68M86.38 253.83h.68M83.14 241.98h.68M86.8 259.88h.68M80 265.65h.68M84.98 257.26h.68M87.39 254.41h.68M83.42 233.1h.68M86.78 282.83h.68M85.65 260.41h.68M79.45 239.01h.68M89.21 239.28h.68M90.09 244.59h.68M84.55 241.01h.68M83.59 252.47h.68M86.13 242.48h.68M78.86 253.42h.68M85.08 247h.68M87 249.03h.68M83.98 238.85h.68M86.99 253.96h.68M89.86 254.92h.68M79.74 242.94h.68M81.09 233.6h.68M82.18 252.57h.68M87.88 231.94h.68M86.09 243.04h.68M81.17 256.95h.68M79.7 265.72h.68M82.5 248.61h.68M88.42 255.44h.68M80.16 266.02h.68M83.78 240.01h.68M87.26 246.86h.68M83.14 254.84h.68M80.02 266.34h.68M89.4 238.45h.68M86.45 238.14h.68M81.26 262.31h.68M81.83 264.93h.68M87.44 244.56h.68M83.16 252.19h.68M83.86 262.21h.68M86.89 249.05h.68M89.07 230.25h.68M79.02 253.73h.68M81.87 261.91h.68M84.76 237.27h.68M83.1 265.79h.68M86.72 247.75h.68M89.45 231.27h.68M82.82 253.59h.68M82.99 234.26h.68M83.3 266.42h.68M82.14 256.6h.68M87.02 271.02h.68M87.15 232.53h.68M84.33 252.61h.68M85.41 267.31h.68M81.21 264.53h.68M82.69 258.27h.68M83.44 255.34h.68M85.38 258.38h.68M86.73 262.47h.68M84.46 271.27h.68M88.35 231.58h.68M84.86 239.86h.68M86 244.7h.68M83.48 253.43h.68M87.04 255.49h.68M83.03 247.21h.68M84.23 250.32h.68M84.14 259.69h.68M85.13 264.52h.68M83.26 242.26h.68M84.01 248.19h.68M82.05 251.77h.68M77.92 278.9h.68M88.03 243.72h.68M85.24 254.54h.68M80.22 251.64h.68M82.17 246.36h.68M84.8 261.5h.68M82.78 250.16h.68M82.03 245.57h.68M87.65 251.77h.68M82.72 253.98h.68M84.04 243.88h.68M86.69 242.72h.68M81.16 263.41h.68M85.05 244.35h.68M83.75 261.09h.68M86.54 248.99h.68M83.28 241.33h.68M88.55 238.05h.68M87.17 231.69h.68M88.46 258.17h.68M84.24 257.69h.68M83.39 245.77h.68M84.12 238.34h.68M81.92 244.18h.68M84.2 251.83h.68M82.8 264.14h.68M87.52 242.85h.68M86.48 231.33h.68M81.85 252.48h.68M87.56 245.93h.68M84.14 240.6h.68M87.18 229.09h.68M87.7 256.2h.68M86.26 265.51h.68M83.54 238.36h.68M85.74 233.03h.68M88.64 243.49h.68M87.4 246.19h.68M85.28 255.35h.68M86.7 250.51h.68M80.44 230.44h.68M83.29 252.39h.68M80.16 252.58h.68M83.25 243.35h.68M83.01 252.55h.68M87.18 234.06h.68M87.94 245.3h.68M88.01 233.99h.68M85.11 249.07h.68M82.53 257.65h.68M89.99 227.3h.68M85.01 249.5h.68M78.7 257.32h.68M83.85 251.95h.68M83.85 267.18h.68M81.73 248.57h.68M82.46 273.42h.68M88.26 250.47h.68M84.9 235.92h.68M84.24 247.89h.68M84.86 241.98h.68M80.22 262.96h.68M81.09 267.73h.68M79.53 268.7h.68M82.5 258.39h.68M82.1 248.38h.68M87.39 243.44h.68M85.07 237.36h.68M85.67 257.47h.68M82.08 235.98h.68M84.34 247.1h.68M85.42 252.49h.68M85.5 254.92h.68M83.96 234.49h.68M85.2 236.11h.68M85.7 236.9h.68M82.21 259.5h.68M84.23 237.33h.68M86.54 239.86h.68M80.19 256.71h.68M78.12 260.42h.68M80.65 271.1h.68M84.87 250.05h.68M76.81 260.64h.68M89.74 230.52h.68M83.63 257.35h.68M84.69 260.03h.68M80.7 261.28h.68M84.47 245.27h.68M87.44 266.48h.68M87.32 268.82h.68M85.74 250.94h.68M83.23 251.48h.68M84.13 247.12h.68M87.98 247.54h.68M82.11 250.84h.68M82.93 236.61h.68M85.19 235.61h.68M86.83 247.72h.68M81.7 244.92h.68M83.94 261.39h.68M85.29 248.32h.68M85.46 240.01h.68M85.59 230.86h.68M86.93 246.94h.68M86.78 238.75h.68M82.03 230.68h.68M86.26 271.94h.68M87.39 229.29h.68M82.99 269.25h.68M79.57 285.11h.68M83.03 252.17h.68M77.55 246.03h.68M82.54 258.53h.68M86.53 241.02h.68M85.36 253.21h.68M81.19 259.6h.68M78.84 237.08h.68M79.07 268.32h.68M82.94 251.98h.68M87.04 254.41h.68M77.98 265.88h.68M85.47 235.56h.68M86.88 237.18h.68M85.24 254.44h.68M83.2 255.38h.68M76.54 248.51h.68M85.64 249.96h.68M84.5 248.41h.68M86.42 240.44h.68M82.76 236.5h.68M83.41 242.84h.68M87.87 252.43h.68M83.18 255.9h.68M85.3 237.06h.68M80.05 270.29h.68M84.77 277.08h.68M79.23 253.3h.68M83.42 242.06h.68M85.34 248.99h.68M82.98 259.78h.68M86.49 249.9h.68M83.05 271.95h.68M88.25 247.8h.68M82.34 261.46h.68M83.13 256.19h.68M82.28 276.01h.68M78.7 255.61h.68M87.37 256.33h.68M82.5 241.57h.68M87.43 248.19h.68M89.47 236.35h.68M83.25 286.9h.68M84.55 251.71h.68M82.57 248.87h.68M78.21 251.49h.68M85.18 255.57h.68M82.81 257.35h.68M90.76 231.41h.68M81.86 265.38h.68M85.73 251.94h.68M83.05 250.58h.68M83.27 271.23h.68M82.84 254.21h.68M84.51 242.42h.68M79.9 241.61h.68M81.27 259.91h.68M83.61 251.9h.68M87.43 252.77h.68M86.27 236.9h.68M80.56 253.06h.68M89.19 243.77h.68M85.96 242.27h.68M85.72 265.54h.68M81.3 254.39h.68M75.42 248.05h.68M80.89 262.26h.68M79.2 272.14h.68M86.51 234.33h.68M78.82 261.7h.68M81.37 254.05h.68M80.44 250.33h.68M82.91 266.88h.68M80.62 260.67h.68M88.39 246.18h.68M84.87 265.29h.68M86.64 249.11h.68M83.55 251.1h.68M86.25 236.55h.68M86.46 251.67h.68M81.15 257.88h.68M87.92 247.56h.68M83.9 251.55h.68M86.19 265.43h.68M90.5 249.55h.68M89.15 244.16h.68M79.3 270.18h.68M88.29 243.25h.68M85.96 224.52h.68M84.44 236.79h.68M83.81 248.25h.68M82.29 237.6h.68M86.11 238.32h.68M82.77 245.57h.68M87.44 249.06h.68M85.34 248.25h.68M77.08 250.97h.68M80.31 263.27h.68M80.94 264.4h.68M81.59 258.63h.68M85.47 243.61h.68M83.6 252.24h.68M82.33 239.4h.68M85.36 250.96h.68M87.85 239.01h.68M82.96 263.25h.68M85.03 274.66h.68M84.25 261.95h.68M79.64 281h.68M84.31 238.78h.68M83.17 261.05h.68M85.72 249.98h.68M84.42 253.21h.68M88.01 239.3h.68M87.36 250.64h.68M81.49 250.15h.68M81.76 243.42h.68M82.59 263.95h.68M84.54 259.68h.68M85.3 264.55h.68M86.5 245.37h.68M86.56 243.91h.68M82.91 238.23h.68M84.24 260.53h.68M81.31 262.07h.68M85.31 250.91h.68M87.4 243.27h.68M82.22 252.27h.68M82.95 256.7h.68M90.26 257.13h.68M82.37 248.41h.68M81.52 263.75h.68M79.73 265.7h.68M81.22 241.36h.68M86.51 254.79h.68M82.21 252.16h.68M83.89 236.89h.68M82.59 245.02h.68M76.19 254.2h.68M84.85 264.59h.68M83.42 243.37h.68M84.42 247.03h.68M88.1 248.95h.68M84.21 246.59h.68M86.09 235.28h.68M83.68 260.62h.68M87.88 248.76h.68M79.96 256.29h.68M81.84 258.89h.68M78.69 246.43h.68M85.31 240.38h.68M86.68 243.5h.68M83.57 245.56h.68M90.54 242h.68M87.2 247.8h.68M91.11 235.35h.68M85.16 246.15h.68M89.82 244.51h.68M82.54 253.96h.68M84.81 256.75h.68M82.58 271.32h.68M81.77 264.54h.68M88 259h.68M87.85 251.51h.68M84.79 251.49h.68M88.84 232.72h.68M84.47 244.36h.68M85.58 245.24h.68M79.56 258.74h.68M88.68 234.44h.68M79.31 258.84h.68M83.46 243.63h.68M82.56 247.67h.68M98.41 236.82h.68M86.02 245.16h.68M89.52 248.35h.68M73.96 286.07h.68M85.75 262.19h.68M82.96 253.37h.68M89.19 249.33h.68M85.03 235.38h.68M77.48 264.34h.68M91.25 229.13h.68M86.96 235.97h.68M77.22 260.66h.68M85.99 238.22h.68M82.85 232.56h.68M87.76 231.64h.68M87.61 241.85h.68M83.7 226.5h.68M91.06 249.65h.68M80.26 263.4h.68M81.24 267.67h.68M84.3 256.31h.68M79.52 247.51h.68M82.95 265.97h.68M87.1 246.9h.68M77.86 257.57h.68M92.92 226.37h.68M79.27 256.91h.68M85.44 227.24h.68M82.89 242.89h.68M94.36 220.32h.68M85.42 228.73h.68M79.83 271.43h.68M85.98 252.57h.68M87.92 232.82h.68M87.77 266.87h.68M87.62 216.13h.68M82.5 246.53h.68M84.21 228.14h.68M80.17 256.89h.68M86.54 261.08h.68M88.14 242.88h.68M84.39 241.62h.68M85.95 237.17h.68M72.69 263.3h.68M88.43 251.39h.68M82.93 278.18h.68M74.6 252.84h.68M82.12 250.49h.68M86.84 232.14h.68M94.02 231.57h.68M84.79 258.52h.68M91.5 243.3h.68M90.13 264.02h.68M87.12 257.46h.68M81.97 238.86h.68M79.82 241.57h.68M81.4 264.69h.68M86.68 262.18h.68M85.16 261.86h.68M80.94 234.76h.68M88 251.27h.68M82.61 236.13h.68M78.27 284.03h.68M90.42 243.58h.68M85.64 248.46h.68M83.2 244.23h.68M83.4 235.04h.68M84.2 256.82h.68M87.57 239.56h.68M84.16 249.93h.68M80.38 256.29h.68M87.17 248.82h.68M89.81 242.43h.68M78.45 258.65h.68M88.05 248.48h.68M84.95 229.14h.68M88.89 212.76h.68M92.35 228.13h.68M79.4 248.33h.68M81.98 266.46h.68M94.61 236.36h.68M91.85 248.32h.68M85.14 229.55h.68M78.7 258.47h.68M87.44 273.65h.68M88.46 232.5h.68M86.62 246.81h.68M73.76 278.69h.68M86.85 239.37h.68M80.12 233.46h.68M84.1 246.8h.68M93.14 251.91h.68M91.61 243.17h.68M92.78 246.09h.68M83.17 264.16h.68M89.12 232.65h.68M81.03 264.79h.68M95.99 237.42h.68M80.89 261.59h.68M76.04 266.44h.68M82.94 248.64h.68M91.21 239.8h.68M85.31 229.52h.68M89.23 225.27h.68M77.14 257.78h.68M85.96 220.16h.68M79.21 246.46h.68M80.91 240.25h.68M81.9 261.86h.68M89.08 238.15h.68M91.27 266.94h.68M88.11 244.45h.68M75.64 278.71h.68M80.82 241.14h.68M78.94 240.45h.68M86.74 231.25h.68M78.01 265.05h.68M84.96 240.01h.68M77.69 261.9h.68M93.22 240.33h.68M86.65 225.38h.68M85.53 268.12h.68M81.17 265.18h.68M96.5 240.64h.68M76.47 261.29h.68M91.82 217.33h.68M90.06 258.51h.68M85.88 241.92h.68M89.3 250.84h.68M85.77 242.9h.68M90.38 249.37h.68M85.88 243.26h.68M94.78 238.99h.68M78.58 244.92h.68M88.79 249.89h.68M81.44 260.21h.68M83.23 250.02h.68M89.67 237.09h.68M83.09 244.03h.68M83.26 241.5h.68M84.28 275.64h.68M83.12 227.4h.68M84.02 249.76h.68M92.88 229.2h.68M80.6 254.99h.68M92.47 238.01h.68M80.49 247.09h.68M87.97 237.63h.68M84.06 259.92h.68M76.31 265.73h.68M87.76 256.32h.68M76.99 259.76h.68M91.06 252.89h.68M99.09 200.07h.68M84.71 230.38h.68M85.11 251.14h.68M85.47 239.89h.68M81.82 223.93h.68M85.81 215.31h.68M86.61 235.35h.68M81.82 271.53h.68M93.13 232.54h.68M80.61 264.68h.68M84.44 234.57h.68M86.78 258.88h.68M87.98 253.76h.68M86.28 232.13h.68M88.03 234.84h.68M84.18 235.85h.68M83.43 255.23h.68M78.91 222.06h.68M77.34 245.1h.68M90.86 236.08h.68M78.76 272.4h.68M83.01 226.84h.68M87.02 251.63h.68M94.67 249.11h.68M87.19 268.27h.68M85.26 261.94h.68M88.89 222.31h.68M90.36 272.86h.68M94.55 240.25h.68M85.73 253.74h.68M89.27 209.34h.68M83.01 269.33h.68M88.02 247.81h.68M84.78 248.04h.68M84.26 239.77h.68M80.23 265.08h.68M85.06 201.77h.68M84.79 243.23h.68M88.97 231.42h.68M79.74 243.58h.68M78.31 268.52h.68M92.15 230.65h.68M82.1 242.6h.68M89.96 226.07h.68M78.62 257.36h.68M76.51 244.14h.68M84.47 263.74h.68M84.18 274.06h.68M91.23 210.55h.68M89.13 216.04h.68M93.45 235h.68M83.54 247.38h.68M83.27 232.82h.68M84.94 255.56h.68M90.14 244.78h.68M89.71 224.15h.68M89.98 245.27h.68M94.42 230.43h.68M84.29 225.81h.68M85 242.3h.68M84.6 240.77h.68M86.3 256.55h.68M80.92 222.35h.68M93.18 219.78h.68M77.27 255.63h.68M87.44 241.35h.68M83.86 243.45h.68M83.47 242.1h.68M91.02 221.23h.68M82.04 226.26h.68M87.06 250.57h.68M83.21 247.73h.68M79.16 242.43h.68M87.79 258.53h.68M76.05 269.27h.68M88.06 243.88h.68M81.62 256.55h.68M80.95 262.35h.68M91.43 244.96h.68M86.64 243.71h.68M86.3 228.9h.68M86.6 263.23h.68M81.83 253.08h.68M91.91 248.43h.68M83.47 236.38h.68M85.04 262.8h.68M85.75 221.57h.68M86.58 257.43h.68M78.36 264.2h.68M84.61 245.26h.68M90.38 230.5h.68M81.14 230.24h.68M82.15 259.29h.68M87.01 244.15h.68M80.91 258.01h.68M84.73 235.27h.68M90.54 227.73h.68M79.56 231.87h.68M78.92 258.71h.68M70.17 264.14h.68M84.31 247.13h.68M86.67 251.72h.68M79.56 253.55h.68M74.96 275.26h.68M86.38 247.57h.68M80.64 256.85h.68M89.95 275.06h.68M93.14 233.19h.68M78.26 230.14h.68M87.01 251.02h.68M87.59 246.17h.68M85.24 264.63h.68M82.06 262.92h.68M77.34 249.74h.68M82.95 261.08h.68M81.99 246.79h.68M84.06 268.69h.68M89.97 248.96h.68M83.46 253.77h.68M80.85 264.72h.68M81.52 238.09h.68M84.03 233.87h.68M72.86 277.71h.68M85.07 244.91h.68M81.54 236.19h.68M85.82 239.25h.68M83.52 263.86h.68M83.4 243.42h.68M82.31 235.97h.68M92.93 210.36h.68M89.01 237.57h.68M80.87 253.43h.68M89.5 242.02h.68M72.94 239.94h.68M79.79 282.38h.68M84.53 259.16h.68M84.65 241.86h.68M74.88 258.11h.68M85.77 234.79h.68M86.74 259.31h.68M81.69 274.21h.68M78.23 246.28h.68M81.3 269.8h.68M92.82 242.89h.68M92.62 229.1h.68M91.51 244.85h.68M84.23 246.15h.68M85.74 262.6h.68M83.8 251.11h.68M85.32 238.37h.68M80.26 242.39h.68M84.44 248.55h.68M87.96 256.54h.68M87.22 232.59h.68M77.35 238.38h.68M87.29 247.05h.68M81.42 233.66h.68M84.5 265.19h.68M80.75 248.49h.68M94.09 230.86h.68M85.38 235.21h.68M86.9 265.35h.68M79.07 240.39h.68M85.8 232.88h.68M83.71 258.13h.68M75.72 264.64h.68M85.48 222.28h.68M81.6 250.95h.68M81.22 274.51h.68M80.13 281.23h.68M74.61 264.12h.68M88.46 257.98h.68M89.99 229.27h.68M80.16 259.02h.68M90.08 239.82h.68M84.18 242.56h.68M80.34 258.59h.68M79.96 236.43h.68M73.37 241.17h.68M81.82 276.63h.68M88.21 258.52h.68M91.01 222.05h.68M89.09 235.74h.68M96.14 228.96h.68M77.27 251.5h.68M90.33 230.31h.68M94.22 245.19h.68M84.07 247.89h.68M92.65 254.76h.68M83.17 249.08h.68M81.8 250.55h.68M76.23 246.45h.68M89.49 233.75h.68M86.86 261.09h.68M87.62 247.88h.68M87.75 235.36h.68M91.33 226.84h.68M84.03 248.87h.68M75.1 262.53h.68M86.03 250.22h.68M90.46 227.41h.68M98.74 239.82h.68M85.43 230.58h.68M86.58 241.3h.68M75.4 258.8h.68M76.68 248.79h.68M80.07 244.93h.68M93.14 237.72h.68M86.75 239.43h.68M85.26 247.93h.68M86.89 216.75h.68M87.26 239.01h.68M93.5 215.31h.68M85.81 261h.68M87.24 228.86h.68M84.19 259.03h.68M90.41 221.46h.68M84.86 271.22h.68M85.35 257.14h.68M83.48 248.95h.68M79.45 240.91h.68M86.36 241.39h.68M85.92 240.85h.68M82.71 259.82h.68M81.89 254.78h.68M77.8 260.13h.68M90.89 238.84h.68M82.53 241.84h.68M88.14 221.05h.68M86.86 216.65h.68M78.67 248.32h.68M89.43 236.05h.68M77.53 247.41h.68M85.15 243.16h.68M83.59 240.83h.68M85.07 244.55h.68M84.56 214.51h.68M90.17 240.9h.68M90.26 249.45h.68M88.25 244.26h.68M82.03 249.58h.68M83.26 213h.68M92.66 256.53h.68M74.69 253.55h.68M78.16 253.41h.68M86 248.69h.68M86.2 252.68h.68M77.5 259.42h.68M87.89 239.24h.68M78.62 243.94h.68M87.07 253.32h.68M89.63 225.06h.68M83.67 254.19h.68M91.49 234.21h.68M87.57 237.8h.68M75.71 234.88h.68M88.17 248.97h.68M88.89 227.05h.68M86.82 264.61h.68M85.24 236.89h.68M90.3 233.49h.68M80.39 268.25h.68M87.22 245.14h.68M92.72 221.29h.68M82.51 246.69h.68M80.53 258.2h.68M82.42 267.24h.68M86.79 260.51h.68M86.97 245.4h.68M80.54 284.73h.68M88.55 244.62h.68M90.44 221.01h.68M76.33 275.8h.68M88.33 267.83h.68M88.97 261.13h.68M84.92 283.1h.68M75.3 261.24h.68M90.7 247.46h.68M79.17 253.57h.68M86.73 235.18h.68M83.18 254.4h.68M94.2 235.48h.68M91.37 233.89h.68M88.22 224.21h.68M87.29 246.76h.68M81 256.24h.68M81.16 239.78h.68M91.79 220.5h.68M90.76 231.71h.68M85.71 243.97h.68M93.09 241.38h.68M94.74 237.46h.68M85.86 227.8h.68M83.02 271.38h.68M87.51 247.17h.68M75.93 251.47h.68M90.46 247.99h.68M92.38 228.98h.68M84.49 265.99h.68M86.54 237.91h.68M84.27 242.79h.68M93.22 236.31h.68M85.36 227.08h.68M87.25 247.19h.68M87.09 232.37h.68M91.54 245.73h.68M91.64 250.9h.68M82.69 271.05h.68M88.67 224.24h.68M76.76 269.17h.68M77.09 271.98h.68M88.1 239.05h.68M86.95 249.71h.68M83.11 263.67h.68M81.98 231.26h.68M77.42 271.57h.68M75.13 224.2h.68M83.11 255.35h.68M73.14 248.1h.68M77.86 233.23h.68M81.79 235.04h.68M89.18 245.83h.68M79.93 240.4h.68M87.92 242.28h.68M94.21 239.9h.68M86.14 257.42h.68M86.54 250.09h.68M78.62 248.39h.68M82.1 251.56h.68M75.94 251.79h.68M84.42 266.2h.68M86.65 247.86h.68M90.39 249.77h.68M85.91 237.37h.68M88.64 226.98h.68M81.98 235.68h.68M86.81 243.29h.68M92.78 226.88h.68M84.43 263.17h.68M90.32 231.66h.68M84.73 248.58h.68M88.28 236.16h.68M84.82 249.52h.68M79.13 258.13h.68M81.54 266.76h.68M90.69 228.47h.68M84.18 261.98h.68M85.59 236.96h.68M77.76 268.34h.68M90.13 225.54h.68M83.8 236.56h.68M84.05 245.26h.68M85.14 265.14h.68M89.59 247.57h.68M79.98 262.78h.68M82.26 251.96h.68M86.59 258.57h.68M83.84 244.43h.68M93.32 242.04h.68M89.2 247.46h.68M85.31 246.28h.68M80.85 239.84h.68M89.5 240.57h.68M89.8 217.61h.68M81.49 221.56h.68M82.66 232.94h.68M85.26 237.59h.68M90.64 226.72h.68M71.56 276.27h.68M86.44 230.22h.68M84.63 251.43h.68M93.13 258.89h.68M87.75 233.01h.68M84.61 253.84h.68M84.81 244.18h.68M88.28 231.46h.68M85.67 258.75h.68M81.42 262.18h.68M90.81 263.66h.68M85.74 230.49h.68M85.11 263.64h.68M96.96 221.24h.68M81.99 240.93h.68M89.88 208.64h.68M80.16 257.82h.68M88.52 247.01h.68M85.95 273.99h.68M84.79 260.63h.68M85.41 240.75h.68M83.14 255.31h.68M83.84 259.04h.68M91.64 234.03h.68M87.99 236.23h.68M91.61 247.28h.68M98.53 214.22h.68M87.95 215.27h.68M92.42 247.8h.68M91.5 242.83h.68M85.87 238.16h.68M69.48 281.19h.68M80.01 249.68h.68M85.74 264.86h.68M75.77 250.95h.68M90.96 246.42h.68M81.89 239.56h.68M89.19 223.72h.68M81.75 246.62h.68M83.95 238.72h.68M84.17 257.85h.68M80.84 235.04h.68M85.16 234.83h.68M82.06 247.52h.68M91.57 221.69h.68M81.86 233.76h.68M94.23 246.04h.68M93.21 241.95h.68M79.78 241.66h.68M78.6 248.36h.68M81.78 250.14h.68M80.82 285.34h.68M87.63 245.14h.68M89.42 234.48h.68M86.34 262.64h.68M83.52 253.08h.68M79.73 244.07h.68M77.08 270.72h.68M86.64 220.28h.68M80.31 252.39h.68M96.42 241.18h.68M82 252.19h.68M89.67 252.01h.68M87.47 252.23h.68M79.35 258.41h.68M80.12 236.37h.68M84.48 238.56h.68M84.14 261.75h.68M83.2 247.22h.68M90.53 241.47h.68M83.97 232.15h.68M81.85 246.93h.68M88.55 229.23h.68M90.68 270.28h.68M91.87 256.97h.68M84.44 236.13h.68M87.67 263.48h.68M90.35 224.4h.68M94.85 257.48h.68M83.59 245.63h.68M84.09 262.43h.68M82.43 239.55h.68M79.44 251.1h.68M86.34 264.38h.68M88.13 244.76h.68M77.77 269.86h.68M90.39 243.22h.68M85.09 246.49h.68M82.2 271.63h.68M94.76 243.01h.68M89.09 248.28h.68M92.13 238.09h.68M94.56 235.04h.68M84.45 267.95h.68M83.67 253.49h.68M94.85 231.61h.68M94.81 239.94h.68M79.03 248.06h.68M79.93 262.04h.68M80.79 257.84h.68M81.12 254.91h.68M94.3 230.25h.68M80.15 279h.68M85.95 239.92h.68M86.81 249.32h.68M89.44 242.65h.68M83.34 266.48h.68M87.22 251.24h.68M78.29 257.26h.68M86.68 245.71h.68M82.97 242.28h.68M85.35 250.57h.68M90.7 255.71h.68M85.95 259.5h.68M83.94 258.96h.68M89.98 260.54h.68M98.41 216.16h.68M88.28 249.46h.68M81.61 254.23h.68M90.5 262.17h.68M87.31 238.65h.68M84.39 227.46h.68M91.32 223.49h.68M84.41 233.7h.68M86.11 223.19h.68M80.23 245.13h.68M78.39 262.43h.68M90.31 230.97h.68M75.04 235.63h.68M88.97 237.03h.68M91.05 229.9h.68M85.73 263.57h.68M86.86 230.41h.68M77.5 259.71h.68M85.42 240.72h.68M90.7 225.13h.68M91.79 240.26h.68M86.24 239.29h.68M78.92 224.35h.68M83.11 233.45h.68M78.16 256.93h.68M87.59 245.72h.68M92.3 203.19h.68M83.54 257.46h.68M82.39 253.66h.68M75.37 251.62h.68M93.16 217.43h.68M79.33 248.93h.68M78.63 257.98h.68M82.23 215.68h.68M80.68 257.38h.68M86.4 241.22h.68M78.37 228.06h.68M82.56 270.3h.68M78.18 256.54h.68M96.71 229.8h.68M82.73 245.63h.68M89 224.77h.68M71.03 283.88h.68M91.62 225.77h.68M84.39 249.17h.68M83.34 240.84h.68M87.91 269.69h.68M83.25 251.39h.68M81.87 252.19h.68M89.37 259.13h.68M82.56 245.48h.68M85.41 260.86h.68M77.7 274.75h.68M75.02 279.14h.68M96.54 212.04h.68M85.91 249.79h.68M87.33 261.4h.68M88.14 252.95h.68M82.03 268.68h.68M86.86 247.4h.68M80.19 263.58h.68M84.79 230.25h.68M88.9 229.25h.68M78.78 221.49h.68M82.92 257.2h.68M78.92 255.09h.68M81.21 270.74h.68M79.03 251.11h.68M89.3 255.7h.68M88.91 237.87h.68M78.45 269.02h.68M86.93 252.51h.68M75.09 250.99h.68M73.91 275.62h.68M89.93 228.19h.68M91.54 252.91h.68M84.29 248.5h.68M87.16 254.8h.68M84.75 253.97h.68M90.58 259.36h.68M85.61 223.98h.68M77.44 247.45h.68M83.1 233.5h.68M85.15 247.31h.68M90.49 225.09h.68M80.54 255.8h.68M89.14 252.84h.68M74.33 271.59h.68M89.59 219.91h.68M82.65 228.57h.68M83.4 242.91h.68M82.52 244.11h.68M93.86 217.64h.68M94.76 228.02h.68M75.99 237.48h.68M82.03 254.66h.68M128.06 223.94h.68M125.12 241.38h.68M135.93 239.9h.68M133.73 214.11h.68M129.7 258.78h.68M127.28 221.58h.68M131.01 225.85h.68M127.01 252.53h.68M136.92 224.71h.68M118.12 243.99h.68M124.58 234.23h.68M125.22 233.95h.68M127.68 228.28h.68M121.72 235.16h.68M114.9 241.08h.68M124.51 245.99h.68M135.25 230.37h.68M122.8 254.01h.68M129.64 240.28h.68M130.29 250.27h.68M127.11 232.74h.68M123.43 223.85h.68M125.41 274.52h.68M135.42 232.72h.68M128.78 261.49h.68M127.46 250.93h.68M124.8 241.04h.68M126.93 235.28h.68M134.29 235.69h.68M133.86 257.28h.68M127.96 232.61h.68M127.95 249.46h.68M134.88 237.26h.68M135.45 237.36h.68M129.86 235.38h.68M121.68 226.04h.68M111.87 252.34h.68M118.43 255.25h.68M125.07 249.97h.68M128.19 230.1h.68M124.38 233.11h.68M121.74 231.22h.68M132.42 252.41h.68M125.25 235.65h.68M121.31 234.09h.68M119.2 244.93h.68M130.32 245.25h.68M123.11 242.58h.68M128.72 251.03h.68M127.91 229.36h.68M127.12 262.32h.68M126.14 234.2h.68M128.72 228.83h.68M118.7 258.17h.68M129.12 227.77h.68M123.43 241.64h.68M122.74 228.49h.68M125.78 260.88h.68M123.71 248.04h.68M126.63 260.25h.68M122.39 240.46h.68M139.2 223.72h.68M116.47 266.28h.68M126.7 262.05h.68M122.1 241.1h.68M117.51 246.41h.68M127.48 237.22h.68M134.23 219.66h.68M122.54 234.65h.68M133.96 223.71h.68M116.84 242.37h.68M126.36 240.6h.68M119.54 252.09h.68M117.25 266h.68M120.56 252.79h.68M120.32 238.03h.68M127.31 232.4h.68M135.63 261.12h.68M130.5 204.67h.68M135.54 214.67h.68M124.56 215.67h.68M121.85 263.1h.68M134.75 212.76h.68M134.92 240.46h.68M120.91 260.49h.68M125.23 240.33h.68M130.19 213.99h.68M126.08 242.2h.68M119.16 239.43h.68M128.9 246.82h.68M115.45 230.84h.68M140.75 235.02h.68M128.96 254.4h.68M119.21 241.2h.68M132.72 230.42h.68M134.48 246.75h.68M133.93 251.26h.68M127.28 256.87h.68M118.22 260.74h.68M120.81 221.94h.68M137.26 244.46h.68M124.47 222.13h.68M120.99 242.21h.68M123.34 279.21h.68M115.83 245.25h.68M123.02 244.57h.68M127.28 230.51h.68M122.03 236.2h.68M136.64 248.97h.68M119.91 252.79h.68M133.1 246.59h.68M128.91 272.77h.68M136.07 219.09h.68M128.08 253.26h.68M114.2 218.53h.68M118.19 257.18h.68M126.99 242.64h.68M120.38 228.55h.68M133.33 239.51h.68M115.54 230.54h.68M130.51 246.37h.68M123.5 218.82h.68M128.72 252.88h.68M131.3 250.96h.68M113.38 238.06h.68M121.92 242.65h.68M128.43 256.54h.68M126.38 263.04h.68M117.29 246.63h.68M122.44 247.88h.68M125.07 216.09h.68M123.14 229.25h.68M129.36 242.76h.68M135.72 235.3h.68M129.2 225.05h.68M117.8 241.07h.68M119.79 261.47h.68M129.99 258.74h.68M132.01 214.83h.68M121.5 244.36h.68M122.36 230.82h.68M111.86 253.47h.68M133.5 236.7h.68M125.45 242.92h.68M122.63 246.02h.68M130.2 233.67h.68M128.56 221.42h.68M134.24 218.02h.68M120.29 249.59h.68M127.03 231.95h.68M119.42 236.95h.68M125.86 251.53h.68M122.68 244.17h.68M116.95 256.41h.68M119.68 227.23h.68M129.23 261.91h.68M121.11 247.08h.68M125.46 251.72h.68M111.44 274.72h.68M127.93 251.23h.68M110.38 241.46h.68M122.72 248.89h.68M126.72 246.59h.68M139.35 250.04h.68M127.45 238.38h.68M120.2 251.91h.68M122.75 262.2h.68M127.83 229.74h.68M128.28 252.98h.68M123.73 240.42h.68M131.37 252.83h.68M129.96 238.45h.68M121.03 262.82h.68M127.05 248.35h.68M129.19 236.77h.68M117.96 237.82h.68M120.31 243.58h.68M127.2 255.64h.68M124.29 250.79h.68M130.78 263.18h.68M129.65 239.22h.68M122.89 241.84h.68M132.25 250.53h.68M126.3 278.26h.68M130.53 244.48h.68M143.49 257.83h.68M121.53 261.23h.68M116.03 222.06h.68M131.71 238.33h.68M122.04 247.21h.68M121.81 242.45h.68M132.6 253.47h.68M123.56 251.84h.68M111.42 227.59h.68M134.05 229.68h.68M124.04 232.27h.68M127.83 214.54h.68M126.51 241.08h.68M120.82 235.48h.68M130.95 219.67h.68M118.21 232.8h.68M127.28 237.47h.68M123.49 233.57h.68M129.59 257.52h.68M129.02 240.62h.68M120.42 208.87h.68M122.31 251.82h.68M136.37 257.37h.68M131.01 263.25h.68M131.12 249.61h.68M131.97 243.3h.68M127.77 261.44h.68M116.67 250.32h.68M123.26 239.93h.68M124.55 250.25h.68M126.53 230.87h.68M112.63 246.81h.68M135.15 221.86h.68M121.85 242.58h.68M130.55 271.44h.68M112.08 231.32h.68M128.12 235.03h.68M120.62 238.45h.68M133.09 248.27h.68M121.1 223.29h.68M133.52 229.05h.68M133.43 235.21h.68M119.09 233.22h.68M119.83 221.39h.68M121.33 254.19h.68M125.64 253.58h.68M127.53 263.62h.68M119.86 245.94h.68M122.99 227.78h.68M125.02 225.21h.68M129.27 231.37h.68M120.47 218.52h.68M127.61 232.65h.68M128.88 248.74h.68M131.84 241.06h.68M121.42 237.37h.68M133.65 231.97h.68M134.95 260.62h.68M128.16 243.17h.68M126.19 251.55h.68M129.34 287.18h.68M123.51 233.66h.68M125.72 258.82h.68M131.87 253.84h.68M124.31 234.66h.68M124.65 244.06h.68M125.26 235.95h.68M127.11 233.61h.68M132.39 258.87h.68M132.17 236.96h.68M118.03 214.04h.68M126.33 261.74h.68M125.58 247.51h.68M131.29 231.27h.68M132.96 236.36h.68M123.99 249.54h.68M123.51 236.48h.68M114.02 245h.68M129.74 258.56h.68M128.95 243.25h.68M125.91 249.31h.68M118.22 246.88h.68M125.49 244.33h.68M123.42 230.32h.68M121.25 258.11h.68M124.77 232.38h.68M116.25 243.32h.68M121.09 220.47h.68M108.78 240.64h.68M127.19 246.01h.68M136.77 230.76h.68M114.52 232.83h.68M128.69 266.17h.68M125.33 255.56h.68M122.65 232.93h.68M130.79 254.8h.68M117.18 242.73h.68M127.59 254.02h.68M122.47 234.67h.68M124.4 248.51h.68M115.04 249.91h.68M124.31 241.1h.68M128.53 235.64h.68M125.73 267.81h.68M114.11 238.23h.68M132.12 258.03h.68M127.75 238.74h.68M127.43 233.02h.68M130.08 247.02h.68M122.14 219.26h.68M131.92 235.36h.68M127.87 248.66h.68M123.59 219.85h.68M125.21 231.41h.68M131.02 240.82h.68M139.7 247.63h.68M122.22 259.48h.68M108.54 256.19h.68M127.56 243.19h.68M120.25 214.86h.68M123.88 245.73h.68M122.48 243.75h.68M128.78 238.91h.68M126.25 245.33h.68M120.42 227.16h.68M123.39 254.08h.68M120.7 243.46h.68M123.77 223.78h.68M124.47 241h.68M130.76 250.89h.68M116.84 242.12h.68M133.29 239.38h.68M118.99 255.01h.68M128.71 242.96h.68M141.24 239.16h.68M124.92 243.03h.68M134.01 239.52h.68M127.64 234.19h.68M122.93 236.12h.68M134.13 251.08h.68M116.94 250.9h.68M129.83 243.03h.68M124.57 224.67h.68M131.13 242.78h.68M131.61 251.86h.68M129.16 254h.68M125.77 226.5h.68M132.84 251.24h.68M118.4 250.85h.68M132.16 250.96h.68M133.57 264.34h.68M122.82 200.29h.68M127.56 232.62h.68M129.33 230.1h.68M134.59 265h.68M127.51 242.97h.68M125 260.27h.68M124.1 240.35h.68M120.52 244.1h.68M115.22 236.81h.68M134.99 255h.68M133.74 234.41h.68M131.65 243.68h.68M124.02 253.51h.68M132.8 238.92h.68M134.96 221.67h.68M126.18 221.53h.68M129.21 231.91h.68M118.54 266h.68M128.22 233.24h.68M136.8 247.91h.68M133.36 256.15h.68M132.78 234.78h.68M130.25 246.68h.68M123.24 233.56h.68M119.88 250.53h.68M121.85 251.74h.68M125.73 226.59h.68M124.41 244.71h.68M130.9 235.8h.68M117.96 251.13h.68M130.42 256.87h.68M117.25 242.33h.68M125.46 229.62h.68M125.09 229.89h.68M131.79 257.95h.68M124.09 252.83h.68M125.09 249.33h.68M127.85 241.01h.68M122.24 235.44h.68M133.38 251.23h.68M124.04 254.12h.68M126.05 271.9h.68M132.62 255h.68M127.35 244.37h.68M125.03 273.54h.68M132.36 214.44h.68M130.3 237.04h.68M124.38 258.06h.68M135.89 243.35h.68M122.99 241.38h.68M135.23 249.94h.68M133.08 267.36h.68M127.01 241.69h.68M124.62 271.34h.68M130.65 235.12h.68M114.17 231.67h.68M117.62 229.41h.68M134.31 235.76h.68M122.17 220.85h.68M129.85 246.1h.68M131.38 254.31h.68M120.94 239.86h.68M132.91 229.3h.68M103.42 232.4h.68M111.11 242.77h.68M89.71 257.02h.68M108.48 250.51h.68M107.06 249.1h.68M100.8 260.13h.68M93.99 238.62h.68M128.77 232.45h.68M101.27 262.84h.68M109.48 262.98h.68M141.64 221.91h.68M104.79 258.28h.68M119.41 259.81h.68M117.96 275.78h.68M100.53 250.47h.68M93.57 240.34h.68M141.43 245.62h.68M130.76 260.9h.68M108.53 231.45h.68M148.38 256.53h.68M102.72 248.56h.68M106.85 240.57h.68M91.89 230.83h.68M112.3 247.3h.68M116.45 265.79h.68M102.18 259.36h.68M102.81 267.92h.68M92.04 222.26h.68M90.26 257.3h.68M96.17 241.25h.68M125.18 265.22h.68M108.81 252.32h.68M111.41 279.07h.68M132.09 238.84h.68M125.55 252.7h.68M116.92 205.05h.68M122.53 283.03h.68M100.86 233.27h.68M101.3 234.72h.68M137.46 255.33h.68M136.04 278.2h.68M122.54 241.05h.68M134.43 267.28h.68M111.1 233.26h.68M111.86 271.12h.68M107.58 256.21h.68M85.09 265.99h.68M85.27 261.35h.68M107.61 248.56h.68M90.01 245.17h.68M101 263.64h.68M134.9 263.77h.68M109.48 270.97h.68M100.85 261.1h.68M117.75 249.92h.68M110.88 253.82h.68M99.84 246.21h.68M85.94 246.98h.68M119.55 258.99h.68M107.78 262.22h.68M97.65 254.47h.68M85.72 245.31h.68M106.99 258.98h.68M95.75 229.53h.68M93.84 262.4h.68M114.73 260.51h.68M98.79 239.14h.68M118.37 245.18h.68M123.86 267.58h.68M100.6 266.5h.68M106.03 249.39h.68M105.79 258.61h.68M101.32 210.92h.68M113.43 265.48h.68M98.6 276.38h.68M96.98 238.59h.68M88.37 213.72h.68M110 252.95h.68M115.86 268.61h.68M121.4 244.37h.68M103.96 271.5h.68M100.58 260.23h.68M83.04 251.39h.68M109.46 261.79h.68M118.11 269.44h.68M114 254.4h.68M108.32 230.53h.68M133.77 225.22h.68M105.74 220.22h.68M67.27 274.54h.68M128.48 272.06h.68M118.99 277.77h.68M75.78 263.38h.68M124.94 270.16h.68M76.75 266.91h.68M108.94 279.98h.68M105.1 260.33h.68M85.66 266.08h.68M94.63 271.51h.68M84.17 275.79h.68M96.68 270.42h.68M119.99 274.72h.68M79.04 269.21h.68M112.69 261.34h.68M74.84 272.29h.68M136.62 283.49h.68M74.86 271.19h.68M69.31 271.37h.68M91.85 273.92h.68M91.66 275.72h.68M92.71 272.42h.68M104.36 258.22h.68M64.86 280.65h.68M83.55 264.54h.68M90.57 266.8h.68M83.22 274.94h.68M92.08 269.05h.68M124.91 253.64h.68M110.31 263.85h.68M126.23 268.9h.68M112.82 267.43h.68M70.06 260.18h.68M117.98 271.35h.68M121.59 273.9h.68M99.44 284.72h.68M64.52 272.68h.68M94.71 270.96h.68M80.94 272.77h.68M125.86 265.18h.68M109.31 278.51h.68M106.2 282.66h.68M81.75 272.62h.68M84.11 275.87h.68M117.85 273.62h.68M118.93 267.61h.68M131.93 286.63h.68" stroke="#111" stroke-width=".68" fill="none" opacity=".7"/>
<rect x="109.75" y="209.45" width="32" height="30.6" fill="none" stroke="#c5122f" stroke-width="2.9" />
<path d="M180.6 197.2V288.4H274" stroke="#000" stroke-width="1.1" fill="none" />
<path d="M180.6 288.4h-2.6M181.4 288.4v2.4M180.6 283.13h-1.4M186.82 288.4v1.3M180.6 280.05h-1.4M189.99 288.4v1.3M180.6 277.86h-1.4M192.24 288.4v1.3M180.6 276.17h-1.4M193.98 288.4v1.3M180.6 274.78h-1.4M195.41 288.4v1.3M180.6 273.61h-1.4M196.61 288.4v1.3M180.6 272.6h-1.4M197.66 288.4v1.3M180.6 271.7h-1.4M198.58 288.4v1.3M180.6 270.9h-2.6M199.4 288.4v2.4M180.6 265.63h-1.4M204.82 288.4v1.3M180.6 262.55h-1.4M207.99 288.4v1.3M180.6 260.36h-1.4M210.24 288.4v1.3M180.6 258.67h-1.4M211.98 288.4v1.3M180.6 257.28h-1.4M213.41 288.4v1.3M180.6 256.11h-1.4M214.61 288.4v1.3M180.6 255.1h-1.4M215.66 288.4v1.3M180.6 254.2h-1.4M216.58 288.4v1.3M180.6 253.4h-2.6M217.4 288.4v2.4M180.6 248.13h-1.4M222.82 288.4v1.3M180.6 245.05h-1.4M225.99 288.4v1.3M180.6 242.86h-1.4M228.24 288.4v1.3M180.6 241.17h-1.4M229.98 288.4v1.3M180.6 239.78h-1.4M231.41 288.4v1.3M180.6 238.61h-1.4M232.61 288.4v1.3M180.6 237.6h-1.4M233.66 288.4v1.3M180.6 236.7h-1.4M234.58 288.4v1.3M180.6 235.9h-2.6M235.4 288.4v2.4M180.6 230.63h-1.4M240.82 288.4v1.3M180.6 227.55h-1.4M243.99 288.4v1.3M180.6 225.36h-1.4M246.24 288.4v1.3M180.6 223.67h-1.4M247.98 288.4v1.3M180.6 222.28h-1.4M249.41 288.4v1.3M180.6 221.11h-1.4M250.61 288.4v1.3M180.6 220.1h-1.4M251.66 288.4v1.3M180.6 219.2h-1.4M252.58 288.4v1.3M180.6 218.4h-2.6M253.4 288.4v2.4M180.6 213.13h-1.4M258.82 288.4v1.3M180.6 210.05h-1.4M261.99 288.4v1.3M180.6 207.86h-1.4M264.24 288.4v1.3M180.6 206.17h-1.4M265.98 288.4v1.3M180.6 204.78h-1.4M267.41 288.4v1.3M180.6 203.61h-1.4M268.61 288.4v1.3M180.6 202.6h-1.4M269.66 288.4v1.3M180.6 201.7h-1.4M270.58 288.4v1.3M180.6 200.9h-2.6M271.4 288.4v2.4" stroke="#222" stroke-width=".55" fill="none" />
<text x="176.2" y="291.9" font-size="10" text-anchor="end" textLength="11.8" lengthAdjust="spacingAndGlyphs">10</text><text x="176.4" y="288" font-size="5.8">0</text>
<text x="175.8" y="301.1" font-size="10" textLength="11.2" lengthAdjust="spacingAndGlyphs">10</text><text x="187.2" y="297.2" font-size="5.8">0</text>
<text x="176.2" y="274.4" font-size="10" text-anchor="end" textLength="11.8" lengthAdjust="spacingAndGlyphs">10</text><text x="176.4" y="270.5" font-size="5.8">1</text>
<text x="193.8" y="301.1" font-size="10" textLength="11.2" lengthAdjust="spacingAndGlyphs">10</text><text x="205.2" y="297.2" font-size="5.8">1</text>
<text x="176.2" y="256.9" font-size="10" text-anchor="end" textLength="11.8" lengthAdjust="spacingAndGlyphs">10</text><text x="176.4" y="253" font-size="5.8">2</text>
<text x="211.8" y="301.1" font-size="10" textLength="11.2" lengthAdjust="spacingAndGlyphs">10</text><text x="223.2" y="297.2" font-size="5.8">2</text>
<text x="176.2" y="239.4" font-size="10" text-anchor="end" textLength="11.8" lengthAdjust="spacingAndGlyphs">10</text><text x="176.4" y="235.5" font-size="5.8">3</text>
<text x="229.8" y="301.1" font-size="10" textLength="11.2" lengthAdjust="spacingAndGlyphs">10</text><text x="241.2" y="297.2" font-size="5.8">3</text>
<text x="176.2" y="221.9" font-size="10" text-anchor="end" textLength="11.8" lengthAdjust="spacingAndGlyphs">10</text><text x="176.4" y="218" font-size="5.8">4</text>
<text x="247.8" y="301.1" font-size="10" textLength="11.2" lengthAdjust="spacingAndGlyphs">10</text><text x="259.2" y="297.2" font-size="5.8">4</text>
<text x="176.2" y="204.4" font-size="10" text-anchor="end" textLength="11.8" lengthAdjust="spacingAndGlyphs">10</text><text x="176.4" y="200.5" font-size="5.8">5</text>
<text x="265.8" y="301.1" font-size="10" textLength="11.2" lengthAdjust="spacingAndGlyphs">10</text><text x="277.2" y="297.2" font-size="5.8">5</text>
<path d="M202.97 243.46h.68M207.67 247.88h.68M208.14 245.29h.68M202.98 238.69h.68M208.43 233.54h.68M201.95 227.84h.68M208.36 241.88h.68M201.89 225.74h.68M208.92 250.01h.68M206.65 233.49h.68M200.6 237.12h.68M201.08 258.4h.68M203.31 239.2h.68M203.99 235.33h.68M203.53 243.96h.68M203.64 253.28h.68M205.18 251.14h.68M202.4 237.81h.68M204.46 244.31h.68M204.8 253.44h.68M213.48 248.51h.68M205.98 247.49h.68M203.56 230.2h.68M207.17 226.55h.68M209.78 242.23h.68M207.58 258.65h.68M205.48 227.02h.68M207.72 255.77h.68M201.16 240.07h.68M206.64 239.99h.68M207.52 255.74h.68M204.45 236.38h.68M210.13 242.67h.68M206.44 221.21h.68M206.62 227.39h.68M203.51 223.34h.68M205.04 253.46h.68M206.38 239h.68M205.61 263.15h.68M203.5 234.01h.68M205.78 236.65h.68M204.45 259.34h.68M206.6 253.41h.68M204.32 249.26h.68M203.81 253.14h.68M212.99 255.24h.68M210.15 246.84h.68M202.99 236.93h.68M209.22 240.91h.68M203.26 242.94h.68M206.02 242.63h.68M205.28 253h.68M205.71 234.56h.68M205.62 237.98h.68M204.86 240.2h.68M207.52 237.35h.68M208.09 266.36h.68M210.47 239.16h.68M197.07 252.15h.68M210.51 244.53h.68M202.85 275.85h.68M200.51 248.66h.68M205.86 230.64h.68M212.94 233.92h.68M210.23 240.88h.68M209.29 251.51h.68M204.05 232.59h.68M211.05 237.3h.68M211.18 238.47h.68M209.75 262.04h.68M208.74 250.27h.68M204.5 251.24h.68M204.85 216.94h.68M203.85 239.15h.68M205.26 253.47h.68M206.22 235.67h.68M205.67 230.78h.68M203.48 251.27h.68M199.94 250.05h.68M203.96 250.12h.68M202.8 250.48h.68M206.65 259.33h.68M210.08 227.27h.68M206.91 242.37h.68M208.26 235.02h.68M206.12 255.74h.68M205.59 244.36h.68M203.35 230.44h.68M202.54 258.16h.68M205.36 246.49h.68M201.24 255.44h.68M208.96 231.02h.68M204.89 247.87h.68M205.74 247.79h.68M205.37 231.6h.68M203.66 236.02h.68M205.41 222.07h.68M207.54 240.55h.68M208.07 230.77h.68M205 245.01h.68M204.39 243.42h.68M205.96 241.82h.68M201.84 250.2h.68M204.6 247.66h.68M201.43 251.15h.68M203.8 238.89h.68M208.08 244.52h.68M206.21 241.85h.68M202.89 230.28h.68M202.28 263.2h.68M206.46 232.95h.68M202.74 228.52h.68M205.68 240.55h.68M210.93 222.24h.68M206.33 239.71h.68M209.32 233.2h.68M204.57 263.48h.68M209.88 242.94h.68M206.28 233.12h.68M205.7 240.59h.68M209.31 235.82h.68M204.12 240.77h.68M204.25 249.51h.68M203.37 259.14h.68M206.09 240.97h.68M205.4 228.19h.68M211.16 243.44h.68M201.47 243.38h.68M207 246.19h.68M203.36 236.14h.68M205.07 255.42h.68M208.67 248.52h.68M202.55 264.71h.68M198.61 245.24h.68M207.37 237.48h.68M209.06 248.33h.68M206.08 229.32h.68M203.38 249.57h.68M203.96 240.2h.68M207.01 229.63h.68M202.76 264.02h.68M200.24 242.59h.68M204.12 229.96h.68M205.28 241.46h.68M203.84 270.35h.68M206.42 234.81h.68M207.33 249.2h.68M210.28 246.61h.68M201.2 256h.68M206.73 256.21h.68M205.32 235.05h.68M205.25 240.3h.68M200.19 251.71h.68M208.55 231.08h.68M199.75 234.96h.68M203.38 259.56h.68M210.78 259.58h.68M204.4 240.22h.68M207.79 242.59h.68M203.6 233.79h.68M202.21 256.02h.68M207.33 238.3h.68M207.57 239.28h.68M204.39 238.37h.68M202.55 247.31h.68M204.34 236.74h.68M205.8 231.15h.68M203.52 230.57h.68M208.79 243.3h.68M204.46 226.75h.68M205.35 221.18h.68M203.45 237.24h.68M201.83 239.71h.68M207.06 239.41h.68M203.88 234.63h.68M206.79 239.39h.68M204.52 260.62h.68M213.69 240.26h.68M207.37 251.76h.68M211.86 244h.68M199.4 246.33h.68M205.78 247.07h.68M208.44 227.58h.68M202.61 240.03h.68M206.37 248.24h.68M203.39 248.61h.68M210.66 232.35h.68M203.7 266.61h.68M204.1 262.67h.68M212.16 242.56h.68M205.91 224.06h.68M202.44 237.69h.68M206.22 254.17h.68M203.27 241.01h.68M201.95 234.39h.68M205.68 257.9h.68M206.75 253.19h.68M201.14 245.16h.68M208.97 231.99h.68M200.27 252.06h.68M204.99 240.51h.68M209.31 232.18h.68M206.75 250.77h.68M201.34 250.66h.68M203.35 259.78h.68M202.02 254.98h.68M199.54 249.55h.68M206.91 255.6h.68M212.82 236.49h.68M201.78 260.18h.68M200.09 250.94h.68M203.71 244.03h.68M207.2 233.66h.68M208.27 225.95h.68M204.27 229.6h.68M209.52 236.61h.68M203.33 245.54h.68M206.07 251.19h.68M213.11 240.91h.68M206.35 252.81h.68M206.74 232.28h.68M207.42 245.2h.68M205.25 238.98h.68M205.13 257.59h.68M203.1 239.62h.68M201.89 247.29h.68M200.53 262.9h.68M206.28 264.73h.68M201.71 240.95h.68M206.46 247.33h.68M212.16 252.19h.68M207.28 257.78h.68M203.14 258.58h.68M206.84 240.76h.68M209.17 257.38h.68M203.08 254.28h.68M208.44 256.17h.68M200.65 241.74h.68M202.67 232.9h.68M210.15 213.09h.68M201.65 245.67h.68M210.2 236.64h.68M203.61 254.05h.68M207.07 234.27h.68M205 248.19h.68M202.13 249.96h.68M207.3 256.13h.68M205.42 243.63h.68M207.96 251.19h.68M200.59 255.43h.68M198.43 235.36h.68M204.29 264.14h.68M205.59 238.35h.68M205.35 230.97h.68M206.88 250.54h.68M207.22 226.85h.68M200.56 240.08h.68M201.08 247.84h.68M203.79 232.86h.68M204.17 262.99h.68M204.75 243.65h.68M205.55 255.13h.68M198.63 237.18h.68M207.46 253.42h.68M205.43 231.68h.68M205.4 255.3h.68M209.72 240.65h.68M206.71 248.51h.68M203.99 236.47h.68M203.12 264.77h.68M210.67 215.72h.68M205.8 244.71h.68M207.56 245.15h.68M206.18 227.69h.68M210.9 246.45h.68M213.57 249.14h.68M204.75 241.85h.68M205.63 238.07h.68M204.39 247.1h.68M203.21 240.52h.68M212.35 245.18h.68M210.82 244.17h.68M201.03 250.76h.68M202.62 251.82h.68M208.55 243.69h.68M205.71 251.82h.68M210.21 224.16h.68M204.06 241.51h.68M210.61 239.87h.68M201.3 243.36h.68M207.13 239.38h.68M204.21 244.57h.68M206.09 236.59h.68M208.73 226.08h.68M204.71 240.15h.68M203.7 262.21h.68M204.21 241.5h.68M211.26 236.04h.68M201.86 230.15h.68M204.78 244.67h.68M207.7 255.6h.68M202.67 232.26h.68M200.94 250.15h.68M206.4 248.33h.68M201.3 219.07h.68M198.8 239.39h.68M206.24 235.99h.68M204.69 240.24h.68M207.56 252.78h.68M202.74 249.16h.68M207.78 248.28h.68M204.03 242.79h.68M202.04 249.71h.68M208.62 250.25h.68M209.42 240.57h.68M203.32 232.82h.68M204.51 240.05h.68M205.42 248.23h.68M207.85 226.96h.68M205.33 241.52h.68M204.64 235.63h.68M210.51 234.4h.68M206 254.66h.68M201.49 241.76h.68M202.72 238.47h.68M203.98 237.95h.68M209.15 231.33h.68M208.25 254.4h.68M201.87 261.89h.68M208.41 264.91h.68M208.6 219.03h.68M208.58 239.32h.68M207.35 246.08h.68M203.06 243.98h.68M203.59 224.19h.68M209.46 248.09h.68M203.01 251.78h.68M207.5 240.44h.68M208.28 247.04h.68M205 245.9h.68M208.28 252.86h.68M207.53 266.45h.68M210.37 269.55h.68M206.33 248.71h.68M206.09 237.2h.68M205.5 255.92h.68M202.41 245.08h.68M207.04 240.1h.68M203.57 243.03h.68M205.81 245h.68M207.37 245.24h.68M206.14 245.56h.68M202.39 236.56h.68M208.71 243.66h.68M207.45 224.87h.68M204.45 222.75h.68M205.39 249.38h.68M210 253.53h.68M205.35 240.99h.68M204.97 249.85h.68M207.18 255.44h.68M207.22 266.71h.68M205.62 238.66h.68M201.67 247.57h.68M204.74 239.9h.68M202.51 244.22h.68M210.09 246.42h.68M206.8 256.9h.68M205.44 236.07h.68M199.93 232.18h.68M203.56 249.81h.68M209.49 239.5h.68M205.9 266.79h.68M204.62 247.05h.68M196.04 248.03h.68M205.56 236.78h.68M204.61 227.65h.68M208.75 242.64h.68M204.81 246.86h.68M206.63 246.71h.68M208.6 250.83h.68M204.27 232.64h.68M201.56 252.59h.68M203.12 246.65h.68M206.4 256.63h.68M211.14 249.67h.68M208.14 240.79h.68M204.43 229.52h.68M211.78 247.82h.68M203.44 266h.68M206.98 245.24h.68M205.65 232.31h.68M208.25 254.3h.68M203.86 237.7h.68M206.47 232.22h.68M207.73 257.27h.68M205.05 250.35h.68M206.52 236.61h.68M206.76 239.17h.68M201.59 238.12h.68M206 255.48h.68M202.1 253.24h.68M204.39 240.7h.68M203.81 249.27h.68M204.8 238.41h.68M207.1 259.47h.68M203.14 258.08h.68M207.48 251.41h.68M203.82 275.26h.68M204.11 245.39h.68M203.24 259.97h.68M205.25 256.61h.68M206.53 238.79h.68M203.54 236.87h.68M205.47 258.41h.68M205.16 233.81h.68M205.38 246.49h.68M206.14 222.9h.68M205.82 227.87h.68M202.62 247.16h.68M211.48 231.39h.68M209.09 228.5h.68M203.95 242.11h.68M204.69 231.27h.68M204.88 231.4h.68M209.72 239.75h.68M202.9 229.92h.68M208.99 232.21h.68M203.9 250.01h.68M204.21 246.37h.68M202.57 230.97h.68M207.53 243.37h.68M210.5 230.21h.68M206.79 258.16h.68M204.8 224.13h.68M199.55 251.33h.68M204.44 247.01h.68M206.99 243.85h.68M201.71 241.92h.68M205.7 255.84h.68M202.81 247.96h.68M201.77 240.91h.68M201.85 238.93h.68M210.04 234.76h.68M204.02 254.9h.68M201.76 232.02h.68M204.45 228.82h.68M198.87 244.75h.68M201.85 221.73h.68M200.4 245.38h.68M205.99 255.51h.68M208.23 255h.68M202.98 248.72h.68M209 245.93h.68M202.34 252.18h.68M209.61 241.99h.68M207.65 241.75h.68M207.08 237.66h.68M203.81 255.28h.68M198.68 215.63h.68M205.31 246.45h.68M203.29 251.44h.68M205.36 252.99h.68M207.33 245.31h.68M206.15 247.66h.68M204.75 239.59h.68M206.13 264.85h.68M204.49 258.59h.68M203.97 227.23h.68M207.1 247.17h.68M203.31 255.66h.68M202.74 251.81h.68M208.44 243.91h.68M204.71 240.01h.68M206.42 228.64h.68M201.13 252.11h.68M206.29 246.38h.68M211.3 254.91h.68M206.45 246.53h.68M207.23 231.68h.68M203.19 234.37h.68M207.66 244.9h.68M201.22 228.91h.68M201.81 245.91h.68M204.63 259.97h.68M210.2 263.17h.68M206.55 263.79h.68M204.41 228.69h.68M200.01 244.04h.68M206.23 252.27h.68M200.54 222.51h.68M199.7 246.08h.68M204.29 252.07h.68M205.19 234.15h.68M200.61 235.38h.68M202.81 235.85h.68M206.36 227.35h.68M203.74 241.39h.68M205.48 250.09h.68M206.55 258.28h.68M211.14 207.99h.68M211.55 219.79h.68M207.79 237.6h.68M205.72 236.36h.68M205.05 236.05h.68M213.39 228.57h.68M205.31 239.01h.68M203.77 261.03h.68M203.06 236.31h.68M210.07 247.15h.68M206.81 245.87h.68M202.09 259.17h.68M199.34 239.04h.68M202.83 241.3h.68M203.78 252.75h.68M204.81 250.49h.68M201.47 251.22h.68M202.66 268.77h.68M206.43 251.29h.68M208.87 254.61h.68M208.79 220.7h.68M206.85 241.68h.68M211.77 249.47h.68M205.14 246.5h.68M207.52 251.42h.68M200.71 254.24h.68M201.57 255.31h.68M204.45 232.99h.68M202.41 256.74h.68M200.71 241.82h.68M203.45 234.85h.68M204.71 242.26h.68M201.53 240.69h.68M208.2 241.11h.68M203.62 264.04h.68M207.2 254.14h.68M205.2 236.88h.68M203.65 246.99h.68M204.47 250.75h.68M205.61 234.61h.68M202.7 258.95h.68M206.96 237.53h.68M205.93 216.32h.68M210.13 259.86h.68M209.92 242.79h.68M203.87 240.51h.68M208.27 256.18h.68M206.8 234.51h.68M205.38 240.52h.68M209.82 238.67h.68M201.5 244.5h.68M203.93 260.78h.68M205.8 242.72h.68M209.23 218.45h.68M204.39 220.63h.68M205.2 250.54h.68M205.52 255.43h.68M204.11 233.5h.68M207.99 243.31h.68M207.43 263.56h.68M204.02 239.19h.68M209.99 224.95h.68M204.08 237.74h.68M204.78 271.48h.68M207.43 234.98h.68M205.56 241.93h.68M208.43 248.78h.68M201.94 254.92h.68M205.33 244.54h.68M203.32 242.25h.68M211.19 255.6h.68M211.34 230.03h.68M205.41 231h.68M207.44 233.14h.68M208.43 240.18h.68M205.06 234.74h.68M199.38 239.65h.68M203.5 240.2h.68M204.58 243.51h.68M202.55 248.87h.68M204.38 236.09h.68M204.76 246.13h.68M204.86 228.12h.68M206.46 262.95h.68M209.66 210.44h.68M203.08 221.29h.68M201.62 246.82h.68M207.97 238.71h.68M207.43 236.26h.68M208.54 247.22h.68M204.09 235.15h.68M207.66 245.2h.68M207.81 252.31h.68M206.09 241.44h.68M205.86 240.66h.68M207.93 247.96h.68M199.47 237.65h.68M206.75 241.14h.68M207.11 227.55h.68M207.52 250.21h.68M209.24 230.97h.68M204.66 256.63h.68M204.97 218.28h.68M203.32 238.6h.68M207.85 254.48h.68M202.8 220.9h.68M203.34 241.61h.68M203.88 243.3h.68M207.32 242.66h.68M203.32 221.56h.68M204.69 226.79h.68M203.64 272.7h.68M205.92 264.71h.68M204.9 244.19h.68M209.3 240.78h.68M203.6 258.88h.68M206.46 243.12h.68M207.93 236.93h.68M203.53 238.16h.68M205.68 255.67h.68M205.73 224.17h.68M203.3 259.37h.68M205.04 236.88h.68M208.5 242.71h.68M201.91 233.82h.68M206.38 225.25h.68M211.51 238.03h.68M199.94 256.56h.68M206.4 243.66h.68M211.13 248.22h.68M205.9 244.83h.68M213.46 236.53h.68M205.74 231.41h.68M206.78 258.63h.68M204.65 251.71h.68M203.88 232.99h.68M207.78 247.26h.68M206.63 247.4h.68M201.23 244.79h.68M206.42 243.04h.68M207.52 250.22h.68M208.35 246.56h.68M208.89 237.43h.68M207.52 248.3h.68M210.07 248.35h.68M202.62 236.06h.68M201.48 269.65h.68M206.43 241.09h.68M208.83 230.39h.68M207.05 253.14h.68M203.36 244.75h.68M206.39 243.55h.68M208.27 238.77h.68M204.75 245.52h.68M206.65 237.13h.68M207.43 227.9h.68M205.4 235.9h.68M211.96 229.06h.68M205.01 250.43h.68M203.21 251.43h.68M209.2 241.41h.68M204.34 232.33h.68M208.28 260.37h.68M203.95 237.3h.68M209.29 214.88h.68M205.72 233.64h.68M204.34 243.7h.68M204.75 249.03h.68M199.56 250.08h.68M200.22 239.97h.68M207.63 254.9h.68M212.12 238.15h.68M202.13 234.26h.68M203.23 248.57h.68M208.19 240.61h.68M204.48 253.54h.68M206.68 255.91h.68M199.73 257.57h.68M206.49 250.35h.68M203.08 240.76h.68M208.29 244.22h.68M205.44 232.94h.68M207.02 247.14h.68M205.58 249.03h.68M202.68 248.47h.68M210.23 238.33h.68M205.73 245.98h.68M206.88 254.59h.68M212.24 248.32h.68M206.75 244.69h.68M202.18 239.44h.68M199.54 239.26h.68M201.59 236.66h.68M205.81 268.49h.68M201.51 246.56h.68M203.89 246.1h.68M203.93 245.89h.68M206.86 252.55h.68M205.84 233.6h.68M204.84 249.16h.68M203.13 242.86h.68M202.89 250.33h.68M200.6 243.73h.68M203.61 247.93h.68M208.05 252.52h.68M203.47 243.13h.68M204.69 228.4h.68M201.9 226.36h.68M207.33 228.94h.68M202.44 240.43h.68M207.01 221.53h.68M209.36 238.85h.68M202.61 243.18h.68M208.88 248.1h.68M205.45 239.48h.68M203.55 213.63h.68M209.67 230.26h.68M200.33 234.2h.68M206.63 246.46h.68M204.96 236.22h.68M205.49 222.09h.68M206.06 230.99h.68M202.23 226.43h.68M204.5 244.41h.68M203.6 223.64h.68M207.77 247.97h.68M209.06 225.98h.68M202.88 248.59h.68M206.7 252.25h.68M202.38 240.34h.68M204.75 220.24h.68M206.34 240.61h.68M208.72 232.51h.68M204.68 234.99h.68M203.86 240.69h.68M200.09 242.87h.68M207.21 233.28h.68M204.54 257.77h.68M204.77 235.49h.68M201.87 273.28h.68M204.3 251.85h.68M206.28 251.92h.68M206.62 239.2h.68M203.53 260.04h.68M204 243.79h.68M205.84 249.84h.68M203.3 238.49h.68M202.43 228.92h.68M201.23 254.03h.68M202.85 255.18h.68M210.12 236.54h.68M207.17 249.58h.68M203.89 226.32h.68M206.95 254.78h.68M208.8 248.49h.68M208.42 251.83h.68M201.8 273.4h.68M207.14 235.96h.68M199.16 243h.68M204.37 232.66h.68M206.88 243.01h.68M207.87 252.37h.68M203.98 265.48h.68M203.22 246.54h.68M207.63 224.33h.68M197.66 242.28h.68M201.73 253.92h.68M207.19 224.76h.68M206.52 221.22h.68M199.51 234.37h.68M203.09 251.88h.68M207.77 259.82h.68M199.85 240.09h.68M202.99 251.85h.68M207.44 234.06h.68M199.45 263.23h.68M209.37 238.37h.68M205.09 237.77h.68M204.28 242.39h.68M207.56 246.83h.68M208.61 233.79h.68M207.31 242.45h.68M204.11 234.1h.68M211.46 238.19h.68M204.17 232.08h.68M205.58 241.51h.68M203.5 254.68h.68M205.31 246.74h.68M203.99 264.03h.68M207.25 259.43h.68M205.32 227.79h.68M208.05 253.62h.68M202.82 227.31h.68M202.62 257.89h.68M207.83 262.02h.68M203.26 249.58h.68M201.39 250.38h.68M203.48 233.89h.68M203.7 253.49h.68M202.94 251.3h.68M203.69 245.99h.68M202.3 249.7h.68M202.18 255.99h.68M202.48 246.63h.68M207.69 247.24h.68M209.41 234.02h.68M205.54 256.07h.68M208.4 230.91h.68M205.23 245.88h.68M207.34 256.61h.68M205.44 236.99h.68M203.91 233.11h.68M208.92 224.8h.68M206.42 230.41h.68M208.08 258.2h.68M203.75 228.78h.68M206.97 240.65h.68M204.76 238.04h.68M201.08 232.54h.68M197.24 258.91h.68M205.12 233.21h.68M202.81 260.43h.68M203.02 258.46h.68M205.7 247.98h.68M206.67 238.78h.68M204.25 248.69h.68M209.57 243.13h.68M206.77 255.68h.68M206.34 248.72h.68M199.98 233.29h.68M206.68 239.47h.68M200.59 246.7h.68M203.58 240.09h.68M204.38 257.34h.68M212.24 233.74h.68M206.23 240.99h.68M204.24 224.16h.68M207.52 257.17h.68M205.44 233.95h.68M209.32 236.95h.68M206.3 249.06h.68M204.26 234.25h.68M204.56 224.96h.68M205.02 219.21h.68M206.38 255.17h.68M204.26 256.53h.68M207.39 228.51h.68M206.27 235.84h.68M205.84 226.65h.68M205.18 247.51h.68M202.15 258.22h.68M205.12 248.28h.68M209.72 224.79h.68M206.76 245.73h.68M207.65 234.01h.68M210.31 244.08h.68M202.53 244h.68M207.39 224.06h.68M204.69 269.54h.68M205.14 227.8h.68M200.63 254.07h.68M202.86 241.47h.68M204.69 246.71h.68M203.26 246.46h.68M201.09 252.51h.68M206.05 270.08h.68M203.35 257.29h.68M204.67 219.14h.68M209.26 248.92h.68M204.68 255.76h.68M204.31 256.44h.68M211.95 248.75h.68M207.23 254.67h.68M205.79 242.46h.68M200.31 255.99h.68M203.84 253.49h.68M206.96 238h.68M211.3 230.56h.68M204.79 247.89h.68M205.82 235.57h.68M207.13 245.21h.68M206.34 248.21h.68M205.59 251.85h.68M203.81 247.83h.68M207.17 255.68h.68M207.94 242.21h.68M205.59 251.49h.68M204.37 275.52h.68M210.32 242.04h.68M201.03 238.54h.68M200.01 256.56h.68M207.95 239.97h.68M204.06 234.8h.68M209.61 237.58h.68M202.87 238.14h.68M197.37 243.65h.68M204.03 250.37h.68M202.07 245.74h.68M211.73 230.34h.68M204.24 245.19h.68M205.54 246.18h.68M209.34 251.82h.68M206.45 245.11h.68M208.57 223.86h.68M202.24 241.27h.68M207.27 248.53h.68M206.82 247.34h.68M205.97 230.83h.68M204.35 237.48h.68M206.63 262.49h.68M202.48 236.51h.68M204.03 241.28h.68M205.25 232.64h.68M204.82 245.73h.68M208.14 245.64h.68M204.77 256.29h.68M206.95 242.99h.68M208.82 241.7h.68M203.6 240.89h.68M202.41 255.79h.68M206.04 250.29h.68M206.55 229.61h.68M212.5 223.12h.68M209.4 251.3h.68M204.97 240.51h.68M206.42 244.44h.68M200.36 251.12h.68M199.82 265.06h.68M206.61 257.76h.68M207.18 240.68h.68M206.89 225.88h.68M214.26 229.03h.68M208.95 247.14h.68M206.38 245.75h.68M202.93 253.43h.68M204.38 242.16h.68M205.4 246.47h.68M203.48 236.17h.68M202.48 235.93h.68M209.23 238.22h.68M204.83 261.53h.68M200.52 249.19h.68M202.43 251.18h.68M204.95 214.71h.68M205.75 246.7h.68M204.88 239.47h.68M202.42 257.93h.68M205.6 260.02h.68M196.91 256.92h.68M209.75 243.81h.68M208.93 233.94h.68M208.49 245.93h.68M201.79 267.73h.68M204.39 240.55h.68M205.86 242.56h.68M203.57 256.71h.68M204.69 244.58h.68M208.05 226.29h.68M202.43 260.66h.68M206.35 242.89h.68M203.08 236.06h.68M208.93 229.37h.68M206.44 255.61h.68M199.15 266.35h.68M202.65 254.53h.68M205.43 240.1h.68M203.1 251.62h.68M203.71 240.43h.68M212.87 240.22h.68M209.41 248.2h.68M204.39 241.05h.68M204.97 258.84h.68M204.92 234.66h.68M204.06 250.14h.68M201.99 231.09h.68M211.11 225.25h.68M206.44 258.49h.68M210.29 236.67h.68M205.67 242.25h.68M213.29 244.48h.68M210.22 247.74h.68M210.03 250.24h.68M200.99 239.18h.68M211.32 247.74h.68M203.74 255.27h.68M197.77 227.43h.68M208.65 248.88h.68M207.17 248.98h.68M203.92 244.06h.68M204.36 238.37h.68M204.83 260.1h.68M204.09 249.71h.68M206.03 244.1h.68M204.5 242.02h.68M207.44 248.05h.68M217.86 227.46h.68M204.38 223.62h.68M207.41 231.15h.68M207.62 241.41h.68M209.04 233.21h.68M207.43 244.64h.68M207.13 229.38h.68M206.46 260.63h.68M205.38 247.88h.68M201.59 244.37h.68M209.03 208.2h.68M205.53 256.66h.68M205.55 258.16h.68M204.66 272.37h.68M202.86 235.65h.68M207.51 233.55h.68M206.1 236.17h.68M208.84 257.82h.68M205.38 231.96h.68M201.3 238.64h.68M204.49 230.52h.68M205.75 268.84h.68M202.68 244.24h.68M208.14 235.13h.68M205.73 242.45h.68M206.55 239.24h.68M209.04 222.1h.68M204.46 250.83h.68M207.98 243.04h.68M211.07 234.65h.68M206.89 226.61h.68M203.4 236.11h.68M205.23 236.63h.68M209 247h.68M207.89 272.15h.68M203.07 251.56h.68M207.49 234.82h.68M210.2 225.18h.68M208.11 234.3h.68M207.67 237.23h.68M203.11 232.32h.68M206.15 252.82h.68M200.93 263.77h.68M211.41 227.1h.68M206.5 257.63h.68M205.66 242.97h.68M205.11 249.39h.68M207.55 219.23h.68M204.49 240.56h.68M206.84 238.29h.68M207.35 239.8h.68M203.11 236.87h.68M207.7 228.85h.68M201.27 245h.68M204.93 233.66h.68M207.02 241.48h.68M205.05 256.95h.68M203.59 264.07h.68M201.27 245.48h.68M210.37 248.21h.68M200.41 254.32h.68M208.77 230.75h.68M202.74 241.16h.68M201.1 245.91h.68M205.71 249.38h.68M206.46 259.15h.68M205.42 263.06h.68M208.74 239.75h.68M205.18 237.81h.68M206.15 214.41h.68M205.18 243.22h.68M204.12 239.14h.68M204.78 242.74h.68M203.67 226.92h.68M204.25 241.07h.68M203.97 259.48h.68M205.39 255.94h.68M201.08 240.87h.68M206.79 244.31h.68M210.21 222.94h.68M205.81 255.09h.68M200.82 225.68h.68M208.21 230.91h.68M207.83 229.89h.68M211.21 250.85h.68M203.16 237.74h.68M207.23 245.71h.68M206.57 263.53h.68M201.52 249.03h.68M204.1 228.07h.68M204.33 243.58h.68M206.53 235.05h.68M207.99 236.78h.68M208.08 227.43h.68M202.6 248.33h.68M203.73 238.1h.68M204.43 242.53h.68M210.62 231.46h.68M200.72 259.99h.68M201.23 227.74h.68M208.21 233.59h.68M203.74 220.8h.68M205.32 253.27h.68M201.19 254.29h.68M208.44 237.77h.68M210.19 244.87h.68M202.54 249.18h.68M200.01 234.74h.68M204.46 255.24h.68M206.86 250.8h.68M210.36 238.15h.68M209.72 226.49h.68M203.68 245.36h.68M207.2 251.28h.68M202.1 236.09h.68M206.26 252.04h.68M206.98 245.25h.68M209.3 242.84h.68M208.18 242.56h.68M207.27 242.99h.68M208.3 242.95h.68M204.38 261.94h.68M208.44 247.91h.68M205.44 246.16h.68M207.38 262.65h.68M200.31 236.5h.68M207.22 241.1h.68M207.26 254.3h.68M197.17 249.14h.68M208.83 221.66h.68M206.33 246.02h.68M208.26 240.15h.68M206.27 253.03h.68M203.96 252.43h.68M204.23 247.55h.68M201.86 222.65h.68M202.81 232.9h.68M207.91 248.7h.68M204.62 240.15h.68M202.71 259h.68M204.06 256.81h.68M202.62 239.46h.68M211.8 244.71h.68M203.9 245h.68M208.02 240.05h.68M205.07 235.91h.68M201.94 267.97h.68M202.16 231.67h.68M209.25 246.91h.68M207.06 235.47h.68M207.56 228.95h.68M206.9 254.22h.68M205.64 238.29h.68M202.26 274.73h.68M205.31 242.54h.68M203.09 264.87h.68M207.28 238.68h.68M199.11 239.65h.68M206.16 244.1h.68M201.64 260.7h.68M209.26 231.82h.68M207.3 235.17h.68M204.64 240.35h.68M209.72 234.35h.68M197.97 244.49h.68M205.22 239.21h.68M209.91 231.84h.68M204.33 240.57h.68M202.79 230.56h.68M205.56 254.1h.68M206.23 240h.68M208 242.51h.68M207.61 239.08h.68M202.26 261.81h.68M206.56 243.43h.68M206.74 237.07h.68M202.22 227.19h.68M204.5 257.53h.68M209.1 218.6h.68M208.63 249.56h.68M207.19 246.64h.68M208.85 233.83h.68M209.65 242.79h.68M199.93 252.02h.68M204.11 245.85h.68M207.12 254.74h.68M209.65 226.64h.68M207.85 235.14h.68M207.93 235.61h.68M204.29 235.95h.68M201.17 241.55h.68M201.54 266.44h.68M207.03 261.53h.68M208.71 248.23h.68M207.47 238.91h.68M205.03 239.63h.68M204.31 260.84h.68M205.7 256.87h.68M200.99 234.58h.68M202.73 250.23h.68M206.05 238.33h.68M205.17 232.5h.68M205.11 235.63h.68M208.43 250.29h.68M207.92 244.39h.68M211.28 230.04h.68M203.89 253.63h.68M205.3 240.74h.68M203.86 234.3h.68M210.34 243.2h.68M203.67 250.69h.68M202.41 231.19h.68M205.5 228.15h.68M206.5 241.78h.68M207.06 241.71h.68M204.39 258.61h.68M205.81 239.11h.68M208.94 252.97h.68M208.27 238.72h.68M203.7 247.65h.68M201.68 239.18h.68M201.15 237.93h.68M208.38 255.77h.68M209.11 237.18h.68M205.96 245.21h.68M207.92 250.56h.68M199.24 243.89h.68M210.74 234h.68M202.18 246.89h.68M207.48 232.47h.68M202.45 241.81h.68M201.97 255.84h.68M203.98 240.85h.68M208.54 213.43h.68M208.02 233.65h.68M206.49 242.24h.68M201.68 239.55h.68M205.94 236.35h.68M203.04 268.49h.68M206.33 255.35h.68M209.99 241.36h.68M202.92 232.96h.68M210.98 249.2h.68M206.86 222.72h.68M203.78 236.68h.68M206.91 235.6h.68M202.85 246.22h.68M205.17 252.07h.68M205.17 242.42h.68M205.83 261.69h.68M207.45 252.69h.68M210.12 233.96h.68M208.24 231.96h.68M206.03 251.26h.68M210.52 232.05h.68M206.53 237.76h.68M199.26 246.48h.68M201.34 240.83h.68M204.41 223.06h.68M207.74 247.65h.68M207.28 240.77h.68M201.54 227.97h.68M208.04 242.73h.68M205.93 233.72h.68M203.64 257.2h.68M207.34 215.75h.68M206.21 228.51h.68M202.64 246.25h.68M198.31 241.4h.68M203.57 248.62h.68M203.22 234.78h.68M207.18 241.78h.68M209 251.35h.68M200.35 257.59h.68M203.04 248.32h.68M206.35 242.29h.68M206.47 257.87h.68M206.49 239.91h.68M199.59 241.23h.68M209.05 243.59h.68M205.23 243.31h.68M202.66 240.63h.68M210.03 241.01h.68M208.71 250.73h.68M204.39 240.92h.68M206.56 250.41h.68M204.44 245.95h.68M204.33 256.26h.68M204 226.49h.68M206.59 239.84h.68M200.73 265.77h.68M201.23 250.23h.68M203 250.65h.68M204.45 231.23h.68M207.85 227.95h.68M205.45 223.11h.68M206.74 226.65h.68M207.45 230.24h.68M200.82 236.19h.68M208 231.95h.68M210.93 223.02h.68M210.22 267.24h.68M203.9 243.93h.68M203.61 260.39h.68M208.76 209.44h.68M212.74 242.35h.68M207.43 250.16h.68M203.19 255.88h.68M207.45 257.49h.68M201.64 241.2h.68M208.26 231.91h.68M206.34 253.17h.68M202.94 252.15h.68M213.14 249.34h.68M202.66 257.06h.68M207.35 243.03h.68M208 232.68h.68M204.94 236.02h.68M204 250.68h.68M204.08 241.24h.68M202.05 238.87h.68M205.83 254.57h.68M209.04 242.72h.68M210.1 218.75h.68M203.44 239h.68M201.06 254.31h.68M208.18 246.33h.68M199.38 265.34h.68M205.34 256.7h.68M207.27 225.3h.68M204.39 245.75h.68M210.05 251.45h.68M201.18 253.68h.68M204.72 247.91h.68M206.37 235.5h.68M204.09 232.68h.68M207.17 235.82h.68M204.51 262.99h.68M206.66 247.16h.68M201.47 251.56h.68M204.95 250.86h.68M203.94 231.42h.68M202.55 230.42h.68M206.42 233.04h.68M196.3 250.5h.68M205.96 247.94h.68M210.98 229.42h.68M203.67 253.14h.68M207.67 239.12h.68M201.19 241.74h.68M204.35 240.02h.68M206.48 234h.68M207.92 242.76h.68M198.31 250.8h.68M202.85 222.66h.68M198.93 236.36h.68M201.71 231.89h.68M209.8 234.12h.68M207.58 234.8h.68M207.19 258.45h.68M211.2 242.94h.68M210.44 252.99h.68M201.49 257.9h.68M209.19 239.42h.68M206.75 241.65h.68M207.6 257.09h.68M206.86 242.58h.68M202.38 258.78h.68M208.1 258.39h.68M201.35 251.04h.68M205.85 227.2h.68M208.05 222.83h.68M204.48 250.33h.68M204.89 249.91h.68M201.08 236.81h.68M205.89 247.84h.68M199.16 239.7h.68M202.85 248.66h.68M204.21 242.52h.68M206.52 238.04h.68M205.34 241.9h.68M208.44 248.55h.68M207.18 229.21h.68M205.89 255.21h.68M203.66 236.25h.68M204.09 256.48h.68M204.87 255.97h.68M204.51 249.97h.68M205.4 242.7h.68M201.81 254.08h.68M201.88 245.15h.68M205.34 247.52h.68M206.95 248.12h.68M207.38 243.65h.68M201.6 258.56h.68M204.99 248.63h.68M207.31 238.89h.68M201.98 258.76h.68M203.89 251.21h.68M206.4 249.35h.68M207.86 253.21h.68M208.36 227.95h.68M206.35 254.97h.68M210 250.61h.68M207.99 243.39h.68M205.85 241.18h.68M206.9 242.42h.68M200.78 246.48h.68M208.24 246.28h.68M201.98 231.74h.68M207.06 252.11h.68M205.4 256.71h.68M208.55 273.28h.68M204.47 227.74h.68M205 242.19h.68M209.26 225.63h.68M207.4 255.23h.68M200.84 252.61h.68M208.52 258.72h.68M204.89 220.07h.68M206.61 231.65h.68M203.55 245.47h.68M202.57 261.36h.68M203.04 250.04h.68M200.79 238.17h.68M203.35 237.61h.68M208.82 254.93h.68M201.75 244.5h.68M209.18 229.46h.68M206.7 260.47h.68M205.81 244.05h.68M204.32 252.79h.68M210.93 245.33h.68M204.17 245.14h.68M206.36 258.35h.68M204.47 244.64h.68M210.63 225.22h.68M198.06 265.65h.68M203.41 243.54h.68M201.86 252.63h.68M206.97 240.1h.68M202.21 266.76h.68M210.14 241.47h.68M208.85 247.76h.68M202.93 271.65h.68M201.41 248.95h.68M206.46 258.11h.68M202.34 242.16h.68M203.33 238.94h.68M209.47 239.97h.68M210.81 249.25h.68M212.71 227.72h.68M204.72 228.71h.68M205.37 249.13h.68M202.58 257.08h.68M203.24 241.32h.68M202.87 250.91h.68M209.46 267.63h.68M208.85 237.91h.68M206.79 233.9h.68M200.97 262.21h.68M205.06 240.13h.68M207.45 238.97h.68M204.37 260.33h.68M204.28 230.41h.68M203.86 243.85h.68M203.72 241.81h.68M202.74 251.96h.68M203.21 254.76h.68M201.39 244.58h.68M206.41 246.42h.68M203.37 228.27h.68M207.99 245.24h.68M208.93 256.05h.68M209.75 237.51h.68M204.79 246.74h.68M205.84 259.56h.68M209.21 259.89h.68M204.28 246.26h.68M203.54 243.2h.68M205.97 257.52h.68M203.42 236.41h.68M206.93 243.84h.68M201.25 245.36h.68M208.05 241.41h.68M201.92 232.06h.68M206.91 222.96h.68M209.27 231.73h.68M207.23 241.85h.68M204.31 234.62h.68M205.3 233.69h.68M207.73 241.06h.68M206.4 256.5h.68M200.96 249.16h.68M205.09 226.69h.68M204.46 249.79h.68M208.65 242.68h.68M202.6 257.3h.68M205.48 239.83h.68M206.88 258.98h.68M206.71 225.78h.68M205.47 241.86h.68M205.48 235.85h.68M209.56 226.63h.68M207.68 255.7h.68M203.96 228.79h.68M204 237.7h.68M206.42 251.83h.68M204.46 245.36h.68M205.04 252.39h.68M209.96 241.77h.68M205.59 257.28h.68M208.91 228.25h.68M209.88 240.53h.68M206.42 235.11h.68M207.24 248.99h.68M208.42 243.53h.68M210.29 233.99h.68M206.44 235.36h.68M200.29 230.01h.68M204.61 245.07h.68M204.85 249.63h.68M204.42 260.48h.68M204.81 233.64h.68M207.19 245.55h.68M206.27 252.63h.68M209.22 234.08h.68M205.58 242.54h.68M206.41 250.5h.68M207.7 229.91h.68M208.75 235.56h.68M204.09 221.39h.68M202.86 255.27h.68M207.86 248.16h.68M208.06 235.93h.68M203.87 253.01h.68M206.52 238.24h.68M205.6 249.51h.68M205.23 239.7h.68M205.86 244.71h.68M206.64 234.47h.68M203.07 233.9h.68M209.25 234.47h.68M202.82 248.83h.68M202.02 250.83h.68M206.54 227.06h.68M204.13 239.67h.68M206.47 228.18h.68M203.45 237.71h.68M207.93 242.33h.68M203.47 265.98h.68M204.37 247.04h.68M203.68 252.22h.68M202.91 243.55h.68M203.29 241.37h.68M208.51 257.21h.68M208.58 249.37h.68M203.35 227.98h.68M207.34 242.05h.68M206.98 240.04h.68M208.39 243.41h.68M203.51 235.48h.68M208.82 232.99h.68M206.39 246.98h.68M206.32 247.57h.68M205.92 221.13h.68M214.07 221.73h.68M202.4 251.79h.68M201.46 246.34h.68M207.32 229.61h.68M205.98 231.89h.68M205.95 233.27h.68M206.3 231.59h.68M200.93 246.28h.68M202.12 248.1h.68M205.65 248.83h.68M207.67 263.48h.68M204.71 242.35h.68M203.91 260.49h.68M211.01 224.48h.68M204.74 241.73h.68M198.18 243.11h.68M206.04 233.01h.68M205.79 236.19h.68M204.35 239.11h.68M209.02 244.44h.68M206.15 263.27h.68M198.75 252.32h.68M203.53 225.5h.68M202.95 231.24h.68M208.01 223.88h.68M206.66 249.33h.68M204.34 245.4h.68M205.67 239.92h.68M200.48 257.8h.68M205.01 241.13h.68M204.28 232.37h.68M201.51 241.1h.68M205.08 252.13h.68M204.05 232.92h.68M206.32 244.32h.68M204.78 249.14h.68M204.25 257.63h.68M205.27 251.89h.68M203.21 260.16h.68M207.87 249.65h.68M203.94 245.21h.68M207.69 236.49h.68M204.78 258.36h.68M202.39 245.78h.68M204.41 249.19h.68M203.82 222.19h.68M205.43 255.51h.68M202.61 246.02h.68M203.22 243.85h.68M202.06 242.54h.68M206.73 233.78h.68M203.61 241.59h.68M202.21 261.58h.68M199.79 249.88h.68M209.79 235.99h.68M207.71 240.99h.68M208.18 252.67h.68M206.52 261.35h.68M208.84 235.03h.68M204.9 236.96h.68M205.94 238.16h.68M207.27 237.64h.68M207.37 250.15h.68M206.54 231.03h.68M204.63 237.07h.68M197.32 243.79h.68M205.08 254.51h.68M202.99 249.49h.68M202.78 239.04h.68M201.4 237.29h.68M202.86 259.28h.68M206.17 246.16h.68M205.05 260.22h.68M202.87 230.64h.68M201.92 267.51h.68M207.18 245.76h.68M203.63 252.28h.68M204.53 254.53h.68M209.27 239.84h.68M208.01 246.4h.68M203.9 221.8h.68M199.25 242.52h.68M204.33 248.1h.68M206.87 230.51h.68M208.45 260.33h.68M207.37 257.55h.68M207.32 233.56h.68M206.01 229.56h.68M204.67 248.66h.68M205.35 228.52h.68M202.49 249.29h.68M204.63 251.42h.68M213.31 225.18h.68M204.6 276.27h.68M206.45 233.46h.68M200.9 242.85h.68M200.2 229.77h.68M207.2 232.17h.68M205.19 254.79h.68M206.66 253.6h.68M206.87 250.74h.68M204.78 253.35h.68M206.21 248.52h.68M204.92 255.69h.68M206.21 252.26h.68M209.21 237.76h.68M202.63 238.61h.68M209.06 231.28h.68M206.22 239.36h.68M205.28 249.26h.68M210.2 245.45h.68M206.6 231.59h.68M209.64 236.39h.68M205.27 243.42h.68M204.5 242.13h.68M209.59 261.76h.68M207.9 239.49h.68M206.72 259.56h.68M202.88 240.26h.68M206.85 260.31h.68M205.97 256.49h.68M202.36 251.76h.68M200.53 234.6h.68M204.72 236.48h.68M208.11 239.89h.68M204.33 223.17h.68M197.43 244.83h.68M201.29 265.7h.68M201.21 249.47h.68M202.81 233.01h.68M205.26 235.38h.68M207.16 251.87h.68M201.72 257.38h.68M207.46 236.1h.68M205.26 232.01h.68M204.14 237.95h.68M209.28 235.8h.68M203.83 222.46h.68M206.89 234.37h.68M202.22 261.61h.68M202.49 258.22h.68M204.27 238.35h.68M202.73 262.36h.68M200.79 256.02h.68M202.9 244.95h.68M202.62 237.12h.68M206.7 239.32h.68M206.48 242.92h.68M212.07 250.8h.68M204.91 243.53h.68M205.17 257.75h.68M210.58 254.18h.68M203.96 270.56h.68M206.45 231.45h.68M210.43 250.37h.68M205.45 242.52h.68M206.07 240.53h.68M208.39 242.83h.68M208.58 253.79h.68M206.57 230.75h.68M208.19 233.51h.68M200.79 248.22h.68M201.87 253.09h.68M207.41 229.14h.68M202.62 238.51h.68M204.14 233.48h.68M208.61 234.68h.68M204.67 231.72h.68M209.07 249.34h.68M205.5 252.97h.68M212.04 246.52h.68M206.74 227.71h.68M201.38 235.05h.68M200.17 270.76h.68M207.32 245.38h.68M204.4 245.48h.68M206.54 261.63h.68M204.82 247.06h.68M208.12 243.32h.68M203.05 237.85h.68M204.75 255.87h.68M211.1 250.93h.68M206.67 242.49h.68M205.15 243.72h.68M207.79 236.56h.68M204.37 249.26h.68M201.89 236.22h.68M203.33 237.13h.68M200.18 260.1h.68M204.43 251.17h.68M205.67 235.41h.68M199.36 230.55h.68M205.01 235.87h.68M207.04 246.52h.68M202.1 234.11h.68M210.52 253.39h.68M204.51 248.56h.68M208.45 245.08h.68M201.28 263.07h.68M203.75 249.3h.68M206.26 243.06h.68M204.62 256.05h.68M202.02 271.2h.68M199.16 256.53h.68M208.72 245.73h.68M204.7 249.21h.68M210.32 215.9h.68M206.43 259.8h.68M204.53 246.68h.68M205.94 247.57h.68M206.2 236.85h.68M201.71 234.08h.68M208.63 243.47h.68M206.06 255.31h.68M206.68 229.98h.68M208.81 227.55h.68M204.17 251.3h.68M203.28 248.71h.68M204.99 243.34h.68M209.1 234.22h.68M200.59 258.99h.68M207.28 258.1h.68M207.34 233.16h.68M207.32 243.94h.68M205.96 234.03h.68M201.42 242.48h.68M206.53 252.36h.68M205.47 264.09h.68M213.3 239.12h.68M204.3 249.26h.68M208.19 246.93h.68M203.73 253.75h.68M206 249.16h.68M208.8 239.05h.68M205.95 257.24h.68M202.72 265.26h.68M207.22 265.69h.68M205.57 227.67h.68M207.77 246.03h.68M204.58 249.94h.68M208.76 229.52h.68M204.15 252.91h.68M205.09 252.2h.68M202.17 238.5h.68M204.07 234.85h.68M205.94 245.18h.68M205.8 236.89h.68M207.62 239.76h.68M207.98 233.77h.68M204.36 250.45h.68M209.36 238.74h.68M203.88 219.01h.68M202.88 225.79h.68M204.15 247.65h.68M204.55 228.8h.68M204.34 238.47h.68M205.26 254.3h.68M202.33 226.11h.68M209.38 253.8h.68M209.54 257.46h.68M205.49 240.91h.68M203.77 238.55h.68M205.66 237.13h.68M203.96 257.04h.68M207.68 251.07h.68M206.33 249.81h.68M204.78 241.01h.68M206.25 253.85h.68M206.56 240.88h.68M203.92 255.93h.68M206.43 232.13h.68M207.32 244.69h.68M207.66 247.38h.68M206.46 235.19h.68M202.59 245.37h.68M207.49 254.01h.68M202.48 247.9h.68M205.86 255.28h.68M204.61 239.5h.68M204.33 249.35h.68M210.13 238.62h.68M205.33 222.99h.68M204.41 233.2h.68M209.11 230.29h.68M204.28 237.88h.68M204.63 251.37h.68M205.93 248.18h.68M207.88 238.93h.68M209.61 259.37h.68M206.37 248.15h.68M201.29 251.75h.68M207.08 253h.68M208 236.6h.68M202.92 218.92h.68M203.98 250.35h.68M207.27 235.08h.68M203.23 280.03h.68M201.75 254.49h.68M201.88 251.47h.68M212.14 243.25h.68M201.85 245.58h.68M203.95 240.59h.68M206.8 241.86h.68M204.52 244.24h.68M210.64 254.91h.68M204.63 258.29h.68M208.66 262.54h.68M201.63 262.72h.68M200.31 238.14h.68M206.62 223.99h.68M205.85 253.8h.68M204.21 253.91h.68M203.85 240.47h.68M208.07 236.37h.68M205.29 241.93h.68M201.78 241.23h.68M206.34 252.48h.68M203.66 238.98h.68M202.53 245.7h.68M209.36 248.23h.68M211.16 236.01h.68M205.38 239.23h.68M203.27 252.51h.68M205.73 245.91h.68M210.1 221.63h.68M200 249.25h.68M202.61 248.04h.68M200.49 256.31h.68M209.8 238h.68M204.9 254.9h.68M203.37 238.04h.68M209.84 234.17h.68M208.75 231.59h.68M202.9 253.28h.68M206.9 240.38h.68M208.11 239.81h.68M202.78 250.84h.68M206.7 250.46h.68M203.84 252.39h.68M207.49 242.75h.68M203.15 265.97h.68M203.2 268.44h.68M208.39 219.59h.68M201.55 242.79h.68M203.39 250.83h.68M205.89 244.81h.68M210.72 237.73h.68M204.17 244.1h.68M207.55 230.01h.68M207.09 242.46h.68M203.37 269.58h.68M206.38 234.57h.68M208.52 224.51h.68M205.98 249.05h.68M212.97 238.7h.68M203.64 253.38h.68M201.82 242.69h.68M207.44 231.43h.68M201.66 234.6h.68M206.62 258.82h.68M204.52 240.33h.68M200.04 233.15h.68M204.61 255.83h.68M208.23 259.98h.68M202.36 250.09h.68M203.44 252.33h.68M204.28 247.81h.68M209.3 217.1h.68M201.89 260.14h.68M202.97 245.91h.68M201.58 237.62h.68M202.59 250.39h.68M204.45 234.12h.68M202.47 226.37h.68M206.63 257.46h.68M208.12 227.82h.68M206.92 246.44h.68M209.76 234.66h.68M206.39 245.42h.68M210.54 237.67h.68M206.19 242.52h.68M205.02 250.08h.68M202.74 234.07h.68M208.82 241.55h.68M202.98 242.66h.68M205.88 249.79h.68M202.45 252.33h.68M203.15 235.92h.68M209.09 239.73h.68M205.41 211.21h.68M208.41 251.54h.68M203.88 245.94h.68M207.14 236.51h.68M200.77 250.81h.68M199.9 264.28h.68M208.46 251.75h.68M207.03 227.81h.68M203.38 232.99h.68M201.92 258.14h.68M203.68 250.25h.68M209.22 222.32h.68M212.66 245.42h.68M205.75 255.37h.68M203.42 247.33h.68M205.29 255.84h.68M209.79 234.92h.68M204.04 246.96h.68M205.2 225.06h.68M205.64 250.86h.68M205.21 268.04h.68M212.17 238.15h.68M202.45 246.86h.68M204.49 249.13h.68M207.9 238.13h.68M207.41 241.39h.68M210.93 240.49h.68M202.04 235.68h.68M202.15 243.6h.68M207.57 234.66h.68M205.41 242.32h.68M202.48 231.73h.68M208.23 257.67h.68M204.86 234.96h.68M206.06 239.07h.68M204.1 244.36h.68M202.32 221.12h.68M206.31 250.32h.68M210.86 248.09h.68M203.59 255.43h.68M205.41 248.58h.68M206.98 244.18h.68M202.03 245.09h.68M205.36 236.78h.68M207.4 254.66h.68M201.44 238.41h.68M203.06 256.87h.68M208.87 236.46h.68M201.05 253.36h.68M200.53 253.53h.68M203.58 237.39h.68M205.41 252.31h.68M207.44 245.38h.68M203.18 248.65h.68M213.21 249.54h.68M203.44 235.67h.68M201.09 236.99h.68M204.94 245.99h.68M207.1 259.73h.68M203.37 252.78h.68M205.7 234.06h.68M204.04 243.98h.68M200.26 256.49h.68M206.15 220.54h.68M201.25 237.43h.68M204.02 263.3h.68M205.19 241.65h.68M208.78 234.26h.68M199.97 258.67h.68M203.49 262.83h.68M202.75 226.48h.68M209.07 222.6h.68M203.31 247.69h.68M203.66 252.58h.68M206.79 227.97h.68M206.83 237.61h.68M209.49 262.6h.68M206.22 230.57h.68M210.63 251.72h.68M207.92 243.84h.68M207.59 254.75h.68M206.28 239.36h.68M203.77 240.85h.68M211.26 234.52h.68M205.22 247.24h.68M212.55 232.33h.68M205.63 254.59h.68M204.59 240.07h.68M200.32 251.1h.68M200.36 225.76h.68M203.03 222.32h.68M201.87 237.24h.68M209.3 215.59h.68M201.93 257.53h.68M207.64 261.25h.68M196.9 230.44h.68M205.75 255.57h.68M206.15 207.88h.68M201.21 245.14h.68M204.43 238.3h.68M206.2 240.1h.68M203.02 244.71h.68M204.1 233.87h.68M208.19 262.05h.68M206.77 233.5h.68M205.24 243.97h.68M202.75 254.97h.68M204.09 248.41h.68M209.04 222.65h.68M205.91 237.8h.68M206.73 226.92h.68M205.53 246.2h.68M203.04 234.48h.68M208.07 257.14h.68M203.06 238.63h.68M206.48 220.01h.68M209.46 223.16h.68M202.15 241.85h.68M209.15 234.44h.68M206.41 239.88h.68M208.24 224.66h.68M201.93 246.13h.68M203.43 243.77h.68M211.96 237.8h.68M208.43 231.84h.68M201.91 240.04h.68M207.64 227.67h.68M204.36 247.94h.68M208.46 237.06h.68M205 245.62h.68M202.33 259.3h.68M202.21 252.05h.68M202.14 257.12h.68M205.08 235.59h.68M206.4 251.66h.68M206.55 233.75h.68M200.5 248.7h.68M208.28 237.26h.68M210.1 228.42h.68M202.41 239.17h.68M203.52 254.58h.68M206.62 244.21h.68M202.99 233.65h.68M209.96 222.11h.68M207.22 229.42h.68M203.83 238.09h.68M206.57 235.71h.68M205.18 248.8h.68M201.57 239.41h.68M199.46 233.47h.68M205.74 267.36h.68M212.39 252.57h.68M207.48 245.45h.68M209.37 255.78h.68M207.13 235.83h.68M205.99 238.76h.68M209.18 225.89h.68M202.45 256.78h.68M207.05 232.46h.68M204.44 261.24h.68M205.38 231.01h.68M201.5 255.29h.68M207.54 232.01h.68M197.42 236.61h.68M206.95 235.04h.68M204.09 239.62h.68M207.34 250.99h.68M203.2 254.65h.68M202.56 257.37h.68M204.91 242.9h.68M204.06 241.61h.68M206.75 253.85h.68M203.25 258.87h.68M205.24 239.6h.68M208.67 240.33h.68M205.57 249.19h.68M212.12 237.41h.68M205.4 239.27h.68M210.08 248.81h.68M203.64 271.85h.68M205.72 255.22h.68M204.98 244.05h.68M202.84 234.76h.68M207.72 231.58h.68M203 249.92h.68M204.1 225.71h.68M203.09 246.63h.68M209.61 223.94h.68M207.31 251.23h.68M200.35 260.68h.68M205.16 243.56h.68M202.82 258.05h.68M205.82 242.48h.68M202.99 243.79h.68M199.26 255.52h.68M203.73 259.1h.68M205.63 236.78h.68M208.78 233.11h.68M200.29 244.71h.68M211.81 228.33h.68M208.51 236.53h.68M205.42 221.67h.68M201.62 241.21h.68M208.53 240.54h.68M206.94 230.94h.68M207.63 233.7h.68M201.16 251.61h.68M204.92 222.69h.68M205.75 269.4h.68M203.74 239.14h.68M210.63 220.31h.68M196.41 229.76h.68M207.65 225.74h.68M205.63 226.82h.68M210.08 254.9h.68M208.86 259.19h.68M208.95 228.41h.68M209.58 233.09h.68M201.47 237.77h.68M205.36 243.17h.68M206.19 264.03h.68M207.75 223.82h.68M209.04 239.89h.68M202.47 242.43h.68M207.78 234.15h.68M208.84 231.15h.68M212.07 246.72h.68M211.61 215.86h.68M201.11 234.98h.68M206.47 254.44h.68M204.29 226.13h.68M205.49 230.28h.68M207.51 248.47h.68M202.57 244.7h.68M206.25 239.37h.68M208.58 217.49h.68M207.34 260.75h.68M207.51 234.58h.68M203.18 252.2h.68M205.57 253.28h.68M203.97 256.44h.68M211.38 257.49h.68M204.64 230.77h.68M203.34 231.06h.68M206.43 234.64h.68M208.29 240.03h.68M203.93 246.5h.68M209.02 241.14h.68M202.53 254.31h.68M207.37 243.01h.68M203.22 219.11h.68M203.99 229.54h.68M206.05 236.7h.68M202.28 238.49h.68M209.4 251.97h.68M208 250.29h.68M203.35 254.6h.68M205.18 269.73h.68M212.96 220.54h.68M206.48 223.93h.68M204.6 226.26h.68M203.27 247.5h.68M207.77 236.34h.68M204.29 231.31h.68M207.74 227.89h.68M202.26 241.69h.68M208.64 250.87h.68M207.35 240.33h.68M208.44 246.25h.68M206.99 243.98h.68M206.39 240.77h.68M205.75 251.16h.68M205.98 235.85h.68M203.31 249.66h.68M203.9 258.17h.68M212.01 236.9h.68M202.81 248.61h.68M203.65 262.71h.68M206.25 231.93h.68M204.02 242.12h.68M203.43 242.82h.68M204.42 249.19h.68M205.23 237.28h.68M202.16 260.27h.68M201.52 265.92h.68M204.24 234.45h.68M204.96 237.64h.68M210.44 241.56h.68M210.13 255.5h.68M202.56 253h.68M205.82 236.82h.68M208.95 233.64h.68M202.45 240.86h.68M201.36 225.3h.68M210.31 217.29h.68M201.7 254.73h.68M207.77 250.49h.68M208.01 252.08h.68M207.39 244.39h.68M208.35 237.41h.68M203.43 243.4h.68M210.7 251.74h.68M208.85 243.78h.68M207.28 247.92h.68M203.75 229.65h.68M211.46 243.15h.68M202.64 244.63h.68M206.54 243.1h.68M207.2 253.42h.68M202.77 229.25h.68M206.03 253.94h.68M203.01 260.46h.68M200.53 251.17h.68M204.65 235.9h.68M202.77 250.85h.68M203.68 238.84h.68M204.19 252.9h.68M207.82 238.32h.68M205.19 253.87h.68M203.87 243.37h.68M203.81 250.52h.68M204.74 257.71h.68M201.84 237.8h.68M204.46 239.83h.68M201.35 252.7h.68M202.43 247.68h.68M208.6 246.35h.68M205.26 264.15h.68M208.93 237.87h.68M206.35 240.01h.68M202.97 266.96h.68M205.62 253.53h.68M201.03 240.5h.68M207.15 237.58h.68M211.37 243.04h.68M203.66 263.06h.68M209.48 238.09h.68M207.19 232.37h.68M206.2 240.83h.68M207.52 248.46h.68M208.9 251.54h.68M199.86 243.68h.68M206.25 253.73h.68M203.18 233.64h.68M206.1 248.17h.68M204.38 233.92h.68M204.86 236.06h.68M204.03 249.1h.68M205.59 248.91h.68M205.63 240.99h.68M203.55 246.66h.68M202.96 242.58h.68M210.67 237.17h.68M199.18 230.65h.68M206.4 242.55h.68M200.14 244.81h.68M200.93 259.17h.68M201.85 258.33h.68M202.5 228.44h.68M202.91 238.21h.68M200.49 240.83h.68M207.4 246.58h.68M204.68 255.67h.68M206.77 250.87h.68M206.87 247.8h.68M201.52 230.38h.68M205.45 239.88h.68M204.81 243.02h.68M202.46 244.95h.68M210.49 233.87h.68M205.87 245.45h.68M205.77 255.12h.68M203.39 225.32h.68M202.83 247h.68M204.95 248.47h.68M203.92 255.53h.68M203.58 269.85h.68M205.49 221.53h.68M209.06 249.34h.68M205.53 253.76h.68M204.99 237.1h.68M204.97 246.48h.68M206.76 236.93h.68M206.03 238.54h.68M203.08 256.99h.68M202.8 244.07h.68M202.43 247.85h.68M206.56 226.61h.68M206.95 249.76h.68M206.35 217.03h.68M208.52 237.71h.68M204.18 247.55h.68M206.12 226.71h.68M205.84 243.66h.68M201.78 245h.68M205.9 254.41h.68M210.93 230.48h.68M208.42 243.54h.68M204.62 230.92h.68M209.73 247.19h.68M201.87 245.21h.68M205.62 216.86h.68M205.28 231.34h.68M204.08 271.42h.68M202.16 257.09h.68M210.36 245.66h.68M212.54 242.02h.68M205.4 263.95h.68M210.27 223.36h.68M196.63 248.83h.68M208.81 230.5h.68M203.67 241.09h.68M210.22 240.28h.68M203.89 245.13h.68M201.34 242.05h.68M202.78 251.23h.68M203.71 231.4h.68M204.44 257.2h.68M201.44 236.53h.68M210.49 248.98h.68M208.45 241.05h.68M205.38 258.72h.68M205.42 238.18h.68M210.4 225.35h.68M207.79 244.33h.68M203.97 247.91h.68M204.98 247.07h.68M206.42 234.69h.68M210.18 247.22h.68M203.38 249.51h.68M207.1 242.25h.68M209.16 245.41h.68M203.13 218.41h.68M203.41 229.05h.68M204.81 282.7h.68M207.95 231.59h.68M206.11 242.1h.68M205.65 261.42h.68M206.83 245.21h.68M206.91 231.25h.68M202.35 245.15h.68M207.64 233.71h.68M209.6 231.99h.68M208.82 235.85h.68M206.19 244.81h.68M201.22 261.88h.68M206.64 244.59h.68M208.24 241.75h.68M203.74 257.39h.68M204.28 243.23h.68M212.6 246.72h.68M202.56 241.97h.68M207.08 262.14h.68M205.46 257.38h.68M207.46 255.16h.68M203.98 239.09h.68M202.15 241.41h.68M206.28 245.03h.68M198.32 229.82h.68M203.63 219.78h.68M200.03 243.84h.68M202.13 247.31h.68M205.4 234.21h.68M206.4 247.24h.68M204.49 255.62h.68M204.68 254.01h.68M204.51 238.28h.68M204.48 246.5h.68M208.76 212.88h.68M202.75 261.98h.68M209.91 229.77h.68M203.98 246.3h.68M206.59 253.3h.68M202.72 225.98h.68M204.28 220.09h.68M205.1 251.46h.68M205.69 277.94h.68M211.19 244.82h.68M207.34 235.2h.68M207.1 255.64h.68M210.72 221.74h.68M204.13 236.26h.68M205.64 239.24h.68M205.68 252.83h.68M208.22 232.61h.68M210.32 218.46h.68M205.05 229.54h.68M207.1 232.87h.68M209.9 240.22h.68M203.58 273.72h.68M204.37 261.07h.68M206.66 245.74h.68M197.95 241.23h.68M201.69 253.35h.68M211.07 249.6h.68M205.58 239.46h.68M202.24 262.28h.68M200.7 253.76h.68M205.13 253.9h.68M206.76 245.65h.68M209.44 240.29h.68M202.98 229.84h.68M203.69 235.25h.68M204.14 238.63h.68M202.57 252.38h.68M207.19 243.33h.68M203.56 246h.68M204.27 235.48h.68M205.49 230.85h.68M204.74 260.32h.68M209.15 249.53h.68M204.14 232.53h.68M204.7 233.29h.68M207.07 249.93h.68M203.95 252.03h.68M207.92 262.6h.68M208.52 241.66h.68M207.04 245.59h.68M203.59 257.15h.68M202.31 237.07h.68M205.99 232.76h.68M198.5 236.23h.68M204.08 242.55h.68M206.75 250.8h.68M202.74 236.17h.68M207.23 239.53h.68M198.3 242.36h.68M206.06 233.13h.68M208.35 235.71h.68M202.37 257.47h.68M201.08 247.5h.68M210.52 242.52h.68M207.95 251.15h.68M202.61 242.6h.68M211.43 245.39h.68M207.11 276.29h.68M205.05 255.18h.68M207.46 246.06h.68M203.78 257.54h.68M207.84 261.97h.68M207.37 232.48h.68M209.42 236.95h.68M202 247.75h.68M204.55 244.18h.68M205 247.02h.68M207.53 235.15h.68M211.32 255.27h.68M205.97 236.79h.68M205.3 234.48h.68M206.09 244.42h.68M207.46 269.98h.68M205.61 240.1h.68M204.8 251.39h.68M207.8 250h.68M200.54 239.87h.68M202.46 241.49h.68M206.04 228.83h.68M209.38 246.35h.68M209.1 226.68h.68M207.58 265.98h.68M208.27 245.69h.68M207.17 231.04h.68M206.02 244.62h.68M211.88 226.52h.68M199.23 254.34h.68M206.87 232.68h.68M207.88 237.41h.68M205.58 245.7h.68M207.07 250.4h.68M207.25 247.84h.68M204.57 238.86h.68M210.03 244.12h.68M204.05 227.3h.68M205.78 227.5h.68M201.95 250.2h.68M201.74 234.93h.68M202.72 239.37h.68M208.56 246.44h.68M202.07 224.47h.68M209.72 227.7h.68M205.33 241.51h.68M200.96 250.69h.68M203.43 240.88h.68M201.63 256.51h.68M204.26 239.79h.68M201.86 240.92h.68M205.97 251.85h.68M200.05 248h.68M201.46 248.26h.68M205.23 248.11h.68M210.99 250.5h.68M203.56 243.3h.68M204.49 233.9h.68M204.79 258.98h.68M203.82 228.37h.68M207.01 239.44h.68M208.7 241.1h.68M207.12 232.18h.68M203.63 266.92h.68M205.7 247.47h.68M207.88 257.04h.68M201.98 235.41h.68M210.95 251.93h.68M205.03 230.89h.68M202.49 251.53h.68M208.24 261.34h.68M205.75 231.59h.68M199.9 255.03h.68M209.95 246.38h.68M201.67 259.03h.68M206.38 242.42h.68M208.65 244.87h.68M203.64 245.17h.68M206.93 238.77h.68M201.2 247.66h.68M208.68 232.43h.68M202.38 238.41h.68M206.62 229.11h.68M205.87 250.82h.68M204.41 251.05h.68M208.27 237.93h.68M204.53 268.28h.68M207.48 233.85h.68M203.59 238.49h.68M208.56 249.69h.68M201.33 231.36h.68M206.02 215.58h.68M204.86 241.43h.68M202.01 262.79h.68M206.05 255.75h.68M202.63 239.8h.68M206.65 251.69h.68M206.67 244.04h.68M205.68 237.72h.68M215.74 220.42h.68M207.56 236.26h.68M209.71 227.2h.68M204.38 242.38h.68M202.48 234.23h.68M199.59 260.33h.68M206.14 243.19h.68M199.72 274.55h.68M205.39 238.97h.68M206.88 239.04h.68M209.36 239.21h.68M207.96 250.7h.68M206.1 220.22h.68M206.32 257.48h.68M202.09 250.04h.68M206.78 218.94h.68M205.06 275.26h.68M204.2 237.75h.68M204.87 236.39h.68M206.07 244.74h.68M204.57 250.23h.68M205.33 237.65h.68M204 243.6h.68M199.7 240.58h.68M208.1 232.28h.68M197.94 248.4h.68M200.37 253.57h.68M205.44 235.6h.68M208.04 235.24h.68M208 246.7h.68M211.07 257.46h.68M202.77 244.35h.68M210.18 238.41h.68M208.08 239.34h.68M206.81 238.68h.68M210.51 232.22h.68M205.09 256.99h.68M202.76 256.32h.68M206.9 221.47h.68M207.27 224.23h.68M206.47 233.5h.68M208.08 213.06h.68M209.68 238.65h.68M207.38 240.42h.68M204.12 235.85h.68M204.07 231.94h.68M207.19 238.57h.68M205.79 238.65h.68M202.89 222.76h.68M206.68 237.2h.68M205.81 251.91h.68M206.9 234.09h.68M204.92 255.02h.68M204.88 257.23h.68M208.7 239.83h.68M207.76 246.01h.68M206.47 251.16h.68M206.13 250.14h.68M206.21 242.49h.68M206.03 238.86h.68M209.22 240.34h.68M211.34 251.72h.68M209.5 210.19h.68M206.35 234.39h.68M203.9 256.37h.68M207.17 243.69h.68M208.23 254.56h.68M205.53 248.74h.68M205.21 252.56h.68M204.55 249.17h.68M199.83 249.47h.68M204.96 240.59h.68M207.94 247.9h.68M199.62 248.44h.68M207.55 238.23h.68M206.51 248.09h.68M202.09 240.95h.68M205.54 231.09h.68M207.19 244.21h.68M202.09 229.72h.68M204.69 255.67h.68M204.4 246.6h.68M212.07 241.16h.68M201.57 257.19h.68M205.35 248.68h.68M207.21 237.31h.68M202.56 227.65h.68M207.32 247.18h.68M199.25 252.52h.68M204.12 230.3h.68M202.78 233.48h.68M203.77 230.07h.68M207.84 243.35h.68M205.94 260.59h.68M204.79 235.75h.68M201.77 262.98h.68M204.17 241.35h.68M205.78 239.97h.68M204.66 235.82h.68M202.78 242.71h.68M206.67 233.62h.68M204.39 258.21h.68M205.48 243.86h.68M206.91 235.4h.68M208.14 247.02h.68M205.7 234.17h.68M206.98 238.8h.68M202.99 262.45h.68M205.92 235.84h.68M207.43 236.98h.68M203.13 241.99h.68M204.68 249h.68M205.5 231.85h.68M202.28 249.85h.68M203.46 266.28h.68M211.24 234.68h.68M202.54 250h.68M206.25 224.59h.68M205.03 253.19h.68M204.99 242.47h.68M204.95 245.38h.68M207.29 254.64h.68M209.57 225.04h.68M211.44 223.5h.68M202.61 244.43h.68M208.35 241.88h.68M205.27 249.81h.68M208.6 263.84h.68M203.43 245.21h.68M208.58 251.54h.68M200.39 242.25h.68M204.27 250.17h.68M205.54 238.35h.68M208.18 229.13h.68M202.01 251.14h.68M203.62 253.33h.68M206.4 240.3h.68M204.69 242.24h.68M207.71 257.06h.68M211.1 245.3h.68M203.23 237.34h.68M207.06 235.85h.68M202.14 222.95h.68M204.38 248h.68M207.5 239.28h.68M209.67 255.26h.68M200.94 249.81h.68M204.97 237.85h.68M204.37 245.71h.68M208.72 238.61h.68M204.48 247.71h.68M202.14 241.26h.68M207.76 263.09h.68M204.1 225.26h.68M205.61 239.73h.68M205.8 223.25h.68M207.23 263.01h.68M202.6 233.97h.68M206.94 234.99h.68M208.94 258.7h.68M205.01 240.46h.68M210.07 229.2h.68M211.67 232.19h.68M207.08 221.45h.68M204.24 252.75h.68M207.57 239.38h.68M208.37 245.28h.68M197.1 251.94h.68M209.49 229.96h.68M204.76 252.66h.68M206.65 231.92h.68M202.82 244.51h.68M204.84 234.02h.68M201.27 241h.68M205.04 219.28h.68M203.01 243.02h.68M205.59 245.61h.68M205.57 227.41h.68M205.27 223.53h.68M211.47 249.35h.68M206.71 262.26h.68M202.41 226.27h.68M207.54 259.34h.68M208.31 235.89h.68M200.44 254.42h.68M208.61 245.27h.68M209.89 246.02h.68M208.15 229.95h.68M204.14 246.85h.68M202.25 250.45h.68M206.42 254.05h.68M209.9 232.17h.68M206.82 256.43h.68M203.79 255.96h.68M208.13 243.38h.68M209.28 259.61h.68M206.32 263.41h.68M203.06 224.6h.68M206.67 244.58h.68M207.58 236.51h.68M204.57 249.65h.68M206.74 238.65h.68M207.52 242.39h.68M205.61 248.02h.68M205.74 237.92h.68M207.47 216.08h.68M201.01 250.09h.68M209.92 251.72h.68M207.02 261.37h.68M206.63 242.28h.68M208.55 256.71h.68M206.69 234.35h.68M201.8 239.03h.68M199.13 236.48h.68M204.98 226.15h.68M196.1 265.58h.68M209.99 260.82h.68M212.93 223.35h.68M208.97 226.13h.68M197.34 245.85h.68M204.84 265.83h.68M200.58 242.98h.68M203.9 239.17h.68M207.79 226.36h.68M204.73 229.68h.68M205.89 251.1h.68M203.99 240.61h.68M209.2 238.9h.68M206.27 237.52h.68M202.35 226.36h.68M199.92 263.03h.68M205.06 237.61h.68M205.35 254.86h.68M206.16 239.51h.68M209.08 231.56h.68M207.51 224.54h.68M202.11 243.18h.68M210.36 247.14h.68M206.37 248.3h.68M205.39 246.75h.68M204.84 246.43h.68M208 263.22h.68M207.18 257.26h.68M203.57 246.99h.68M204.87 221.75h.68M206.03 248.85h.68M204.77 257.48h.68M206.29 240.84h.68M204.01 239.27h.68M208.28 228.43h.68M202.08 262.98h.68M205.86 224.74h.68M207.33 241.7h.68M208.46 235.41h.68M204.86 249.28h.68M208.2 247.48h.68M203.67 234.96h.68M209.08 234.59h.68M205.76 247.53h.68M206.24 231.17h.68M204.9 241.79h.68M204.28 248.53h.68M204.53 239.64h.68M206.64 230.41h.68M205.06 261.38h.68M211.57 237.24h.68M200.76 257.85h.68M204.2 237.53h.68M211.86 260.98h.68M204.28 221.2h.68M208.92 211.15h.68M203.81 251.32h.68M207.69 224.61h.68M203.22 252.11h.68M204.83 250.34h.68M201.34 225.3h.68M202.22 252.17h.68M206.49 230.82h.68M205.07 247.21h.68M210.96 210.09h.68M202.23 247.59h.68M206.79 247.24h.68M204.36 244.08h.68M206.42 237.25h.68M208.21 235.09h.68M203.75 251.12h.68M203.05 251.46h.68M203.41 248.13h.68M205.29 231.29h.68M203.91 249.24h.68M204.28 231.64h.68M204.11 230.03h.68M205.72 226.45h.68M201.77 230.92h.68M205.7 230.87h.68M206.23 240.06h.68M205.53 241.27h.68M201.48 234.43h.68M200.16 241.62h.68M206.5 230.56h.68M203.56 250.08h.68M208.72 230.39h.68M204.69 236.39h.68M203.9 255.89h.68M203.51 262.44h.68M206.98 257.53h.68M201.69 271.21h.68M209.16 210.16h.68M204.98 235.7h.68M205.29 254.11h.68M207.44 236.3h.68M204.59 243.77h.68M206.53 252.06h.68M205.55 254.34h.68M199.63 250.65h.68M207.52 249.14h.68M212.12 229.72h.68M197.62 219.46h.68M208.02 246.5h.68M202.94 234.49h.68M209.83 235.52h.68M206.86 238.61h.68M208.82 242.43h.68M211.11 235.27h.68M208.63 215.61h.68M208.67 226.97h.68M207.84 222.66h.68M203.08 256.24h.68M193.3 276.8h.68M197.5 255.19h.68M208.32 234.34h.68M202.89 264.54h.68M217.69 224.86h.68M196.05 257.03h.68M205.16 241.29h.68M206.64 240.61h.68M208.51 254.74h.68M202.71 235.49h.68M207.45 200.76h.68M209.66 234.91h.68M203.74 234.36h.68M214.22 233.55h.68M200.49 235.27h.68M198.64 255.82h.68M206.82 246.47h.68M209.48 230.3h.68M211.06 275.69h.68M203.95 239.27h.68M200.09 261.21h.68M196.23 240.53h.68M211.74 222.07h.68M198.96 253.56h.68M201.02 218.94h.68M204.01 267.19h.68M205.94 263.42h.68M202.1 231.76h.68M207.33 213.68h.68M211.33 266.06h.68M203.65 238.16h.68M207.69 245.21h.68M206.49 270.82h.68M211.1 258.71h.68M203.47 243.02h.68M205.94 228.96h.68M200.6 226.4h.68M207.6 237.88h.68M207.65 226.48h.68M206.33 261.64h.68M209.82 232.17h.68M202.02 247.26h.68M208.91 236.63h.68M212.79 257.08h.68M205.36 243.62h.68M204.26 226.85h.68M200.03 247.02h.68M200.89 252.43h.68M200.76 242.89h.68M205.51 241.1h.68M209.15 220.54h.68M206.77 215.28h.68M211.88 229.19h.68M208.45 232.48h.68M204.1 260.52h.68M211.67 214.8h.68M201.77 234.44h.68M214.69 227.34h.68M198.92 269.5h.68M199.78 254.1h.68M205.72 253.27h.68M191.01 241.18h.68M198.88 217h.68M205.81 233.92h.68M211.05 266.32h.68M207.1 258.17h.68M202.57 239.97h.68M203.47 248.77h.68M202.57 243.46h.68M210.15 240.2h.68M199.8 266.63h.68M214.7 225.44h.68M207.19 235.09h.68M210.29 250.51h.68M212.95 249.46h.68M209.08 251.68h.68M204.56 230.81h.68M200.52 255.29h.68M201.85 234.87h.68M203.47 241.3h.68M202.39 251.3h.68M196.11 231.4h.68M205.3 268.77h.68M204.87 238.68h.68M205.72 258.18h.68M203.62 237.17h.68M203.49 238.64h.68M201.73 247.04h.68M209.18 247.57h.68M207.23 256.94h.68M200.72 228.79h.68M192.05 236.34h.68M208.2 243.93h.68M213.15 254.61h.68M208.19 255.5h.68M207.86 247.42h.68M194.41 259.32h.68M197.93 232.88h.68M208.57 251.26h.68M200.51 268.35h.68M217.24 226.17h.68M203.27 257.23h.68M214.28 227.01h.68M218.52 233.54h.68M202.76 264.05h.68M214.64 236.18h.68M213.7 229.31h.68M201.45 243.04h.68M213.21 230.61h.68M205.05 237.98h.68M202.92 249.98h.68M200.5 245.32h.68M200.99 247.8h.68M195.53 237.71h.68M202.75 239.81h.68M197.24 259.3h.68M212.28 232.33h.68M209.56 250.75h.68M208.17 252.4h.68M203.57 236.76h.68M201.35 250.81h.68M207.7 245.63h.68M201.62 261.27h.68M198.76 241.68h.68M207.87 240.74h.68M210.45 242.01h.68M208.23 259.3h.68M209.19 244.32h.68M205.84 250.75h.68M205.74 244.23h.68M209.93 231.62h.68M206.78 266.61h.68M201.26 202.91h.68M202.55 261.85h.68M200.38 224.94h.68M192 257.76h.68M210.25 231.02h.68M201.04 256.39h.68M205.26 258.79h.68M201.42 239.58h.68M207.72 245.54h.68M213.54 247.37h.68M200.07 223.53h.68M210.07 210.97h.68M207.45 225.93h.68M195.9 246.36h.68M202.54 259.93h.68M211.97 233.64h.68M202.71 228.56h.68M204.96 249.04h.68M212.73 230.74h.68M202.67 281.71h.68M204 225.07h.68M212.67 249.38h.68M207.93 256.42h.68M203.57 228.45h.68M211.53 235.29h.68M206.44 231.68h.68M209.72 230.72h.68M200.96 241.74h.68M207.29 263.39h.68M212.56 233.69h.68M209.22 237.72h.68M209.42 207.03h.68M204.14 246.22h.68M202.32 233.92h.68M214.29 230.15h.68M207.5 227.94h.68M215.2 217.56h.68M203.16 279.6h.68M197.47 223.8h.68M211.83 249h.68M210.09 237.98h.68M203.72 239.23h.68M203.56 249.9h.68M201.25 246.59h.68M207.6 231.5h.68M201.74 227.48h.68M202.68 242.15h.68M201.7 223.22h.68M214.42 238.35h.68M196.52 236.14h.68M214.9 243.55h.68M207.77 246.55h.68M213.18 233.68h.68M210.22 237.8h.68M210.79 248.38h.68M207.86 224.31h.68M204.02 248.67h.68M207.41 225.2h.68M200.42 250.37h.68M203.8 239.34h.68M204.68 259.16h.68M204 248.61h.68M210.07 241.91h.68M197.58 273.81h.68M209.18 258.42h.68M206.37 241.6h.68M198.23 241.22h.68M208.75 230.07h.68M203.29 225.9h.68M206.46 262.06h.68M202.04 251.61h.68M208.97 217.16h.68M202.1 245.73h.68M203 259.84h.68M203.18 250.69h.68M201.36 248.77h.68M208.65 235.93h.68M203.75 237.77h.68M199.94 252.86h.68M208.1 238.52h.68M200.16 256.23h.68M201.06 240.06h.68M198.69 259.01h.68M204.07 244.12h.68M212.46 248.19h.68M201.79 233.78h.68M214.81 208.16h.68M207.9 250.66h.68M201.11 243.72h.68M207.79 249.66h.68M208.9 258.18h.68M196.19 230.31h.68M211.53 209.65h.68M218.22 243.1h.68M207.33 246.34h.68M206.91 239.99h.68M204.53 245.86h.68M204.57 235.73h.68M203.01 249.14h.68M207.28 226.18h.68M208.87 244.27h.68M209.2 234.67h.68M213.84 253.04h.68M201.8 237.88h.68M204.49 252.23h.68M205.18 239.32h.68M207.89 219.06h.68M206.23 246.91h.68M198.91 238.75h.68M215.19 250.3h.68M206.56 219.41h.68M193.86 250.1h.68M205.84 235.37h.68M201.66 229.97h.68M213.67 241.63h.68M217.11 244.19h.68M207.67 225.64h.68M200.6 245.07h.68M202.8 261.65h.68M208.33 239.65h.68M202.49 254.56h.68M207.29 240.43h.68M202.51 243.88h.68M208.88 224.51h.68M203.66 229.98h.68M209.93 226.71h.68M200.99 215.87h.68M204.82 225.22h.68M211.49 228.84h.68M216.78 224.74h.68M205.4 242.14h.68M207.12 244.89h.68M203.8 239.33h.68M205.44 246.68h.68M205.66 238.42h.68M204.79 244.35h.68M196.97 242.31h.68M202.89 234.79h.68M203.83 242.1h.68M204.97 213.48h.68M198.57 241.81h.68M192.74 269.29h.68M210.84 250.46h.68M206.83 226.11h.68M207.37 248.65h.68M206.89 255.26h.68M194.52 240.08h.68M206.69 251.64h.68M205.56 261.62h.68M201.18 228.31h.68M198.28 248.17h.68M196.51 237.37h.68M212.49 237.33h.68M205.78 233.55h.68M196.94 245.81h.68M202.71 278.17h.68M204.06 241.86h.68M199.38 269.99h.68M199.91 218.89h.68M217.42 223.47h.68M207.65 207.53h.68M203.9 243.62h.68M206.16 228.95h.68M193.58 230.33h.68M198.79 260.77h.68M203.12 248.56h.68M209.66 247.45h.68M199.31 214.78h.68M211.35 234.54h.68M204.17 227.22h.68M195.37 256.44h.68M209.21 243.47h.68M200.34 263.29h.68M203.74 248.3h.68M199.76 257.04h.68M203.64 254.91h.68M202.86 277.67h.68M195.9 238.94h.68M202.66 242.95h.68M204.8 237.65h.68M198.3 226.04h.68M203.33 228.7h.68M203.49 234.59h.68M211.03 224.73h.68M202.13 244.71h.68M200.93 243.53h.68M202.18 263.13h.68M207.15 245.38h.68M208.36 240.84h.68M204.64 239.69h.68M208.22 255.12h.68M202.9 255.86h.68M204.66 241.49h.68M203.27 243.24h.68M207.87 244.62h.68M215.37 238.52h.68M206.2 248.35h.68M211.01 231.69h.68M206.22 238.01h.68M210.34 243.5h.68M208.22 243.29h.68M215.42 254.73h.68M203.96 231.6h.68M204.9 231.3h.68M215.5 254.89h.68M202.3 260.83h.68M204.13 239.26h.68M206.15 223.39h.68M209.79 228.27h.68M205.89 238.52h.68M205.29 247.94h.68M204.31 252.43h.68M206.39 229.49h.68M212.51 239.43h.68M201.32 241.79h.68M201.79 240.99h.68M204.88 217.23h.68M208.34 261.93h.68M206.93 235.77h.68M203.75 235.4h.68M212.66 229.27h.68M215.35 240.54h.68M212.72 219.36h.68M206.38 250.43h.68M204.79 236.66h.68M199.81 248.25h.68M206.06 210.03h.68M207.9 221.31h.68M211.21 254.95h.68M203.07 235.55h.68M207.6 243.79h.68M200.86 241.72h.68M200.25 224.89h.68M199.43 263.64h.68M199.09 250.85h.68M199.65 247.53h.68M202.71 244.28h.68M211.48 221.68h.68M205.28 242.9h.68M202.91 250.45h.68M204.8 237.44h.68M212.41 241.69h.68M197.07 244.25h.68M206.29 256.54h.68M200.58 233.03h.68M210.94 249.38h.68M202.73 255.03h.68M206.16 251.54h.68M196.15 215.78h.68M209.43 234.48h.68M203.44 236.72h.68M195.63 260.25h.68M206.13 251.8h.68M204.46 241.65h.68M202.18 243.95h.68M197.48 234.7h.68M200.21 265.03h.68M205.51 246.71h.68M202.13 240.66h.68M211.83 275.41h.68M203.58 244.59h.68M205 248.64h.68M204.8 242.26h.68M203.08 234.47h.68M202.48 249.55h.68M207.82 258.37h.68M202.32 244.83h.68M208.18 224.45h.68M203.85 223.4h.68M197.5 246.23h.68M208.67 228.94h.68M201.26 245.89h.68M206.27 251.66h.68M209.26 258.29h.68M199.78 253.21h.68M207.65 248.48h.68M205.73 250.18h.68M199.27 258.19h.68M211.59 222.76h.68M204.61 257.06h.68M205.46 246.19h.68M202.92 233.42h.68M196.58 233.45h.68M202.92 239.88h.68M211.36 273.32h.68M206.66 264.1h.68M203.84 241.83h.68M200.99 236.59h.68M201.27 232.67h.68M208.81 218.91h.68M211.19 258.63h.68M207.28 260.89h.68M207.76 248.14h.68M207.86 253.18h.68M201.19 234.43h.68M200.71 224.32h.68M211.6 271.29h.68M206.39 238.66h.68M205.56 223.14h.68M208.99 242.06h.68M209.39 235.02h.68M206.18 236.06h.68M209.12 239.02h.68M211.76 226.37h.68M215.29 236.19h.68M208.83 269.53h.68M207.83 249.34h.68M208.79 236.19h.68M210.29 227.73h.68M206.56 232.9h.68M200.86 242.56h.68M208.38 243.55h.68M205.49 240.65h.68M200.64 266.67h.68M204.01 239.52h.68M202.91 239.01h.68M210.85 257.43h.68M209.56 244.26h.68M202.4 235.39h.68M209.14 220.98h.68M204.91 250.07h.68M205.05 242.59h.68M209.02 247.17h.68M214.2 229.36h.68M198.16 231.01h.68M212.22 231.36h.68M202.63 263.05h.68M197.38 249.82h.68M208.53 244.52h.68M208.55 234.95h.68M200.23 241.56h.68M207.65 236.1h.68M210.08 239.97h.68M211.57 246.52h.68M208.65 213.55h.68M205.15 210.15h.68M199.37 225.84h.68M212.31 222.13h.68M204.22 235.09h.68M205.03 231.36h.68M204.74 244.56h.68M192.84 231.89h.68M213.46 200.29h.68M207.81 218.94h.68M199.42 252.96h.68M208.83 246.18h.68M206.96 219.71h.68M211.23 225.72h.68M197.24 240.84h.68M196.82 261.9h.68M208.54 234.08h.68M201.8 237.33h.68M207.99 221.7h.68M196.95 238.4h.68M211.8 244.28h.68M199.73 240.28h.68M215.81 218.15h.68M217.02 214.25h.68M201.73 257.11h.68M202.65 252.77h.68M205.59 219.7h.68M203.07 257.49h.68M208.76 235.64h.68M208.37 252.08h.68M205.63 231.84h.68M213.37 232.45h.68M200.93 251.77h.68M201.36 231.97h.68M209.65 246.4h.68M199.92 254.25h.68M205.52 212.94h.68M196.96 254.11h.68M205.29 254.61h.68M201.61 254.97h.68M208.72 229.84h.68M211.4 229.67h.68M207.47 242.87h.68M200.02 249.57h.68M195.88 246.3h.68M209.58 242.27h.68M200.14 242.13h.68M201.13 252.76h.68M205.92 255.82h.68M209 243.49h.68M201.77 261.12h.68M196.78 250.11h.68M208.13 251.16h.68M216.01 221.86h.68M206.37 209.36h.68M200.6 242.22h.68M217.2 243.22h.68M202.3 231.08h.68M198.05 245.72h.68M203.91 228.22h.68M214.32 231.01h.68M214.37 225.12h.68M189.19 238.26h.68M201.55 227.37h.68M205.57 211.01h.68M205.99 259.21h.68M197.8 238.21h.68M197.44 235.68h.68M213.49 244.61h.68M206.73 247.63h.68M212.37 244.74h.68M201.81 258.31h.68M201.89 241.55h.68M195.67 237.4h.68M198.49 230.54h.68M211.74 223.41h.68M211.12 259.98h.68M193.66 256.54h.68M196.72 209.48h.68M208.29 234.54h.68M201.86 247.58h.68M208.8 228.63h.68M202.73 205.12h.68M201.47 230.07h.68M210.1 253.03h.68M208.87 227.43h.68M199.85 258.4h.68M213.35 210.26h.68M209.88 225.83h.68M199.63 240.02h.68M204.36 239.46h.68M198.19 261.06h.68M204.39 237.11h.68M209.47 237.66h.68M202.08 215.85h.68M199.95 216.21h.68M207.79 241.25h.68M212.08 245.83h.68M212.66 250.96h.68M200.24 232.77h.68M198.03 245.94h.68M198.5 238.57h.68M203.86 240.73h.68M196.87 268.4h.68M202.47 235.21h.68M208.99 241h.68M214.63 232.97h.68M199.6 241.59h.68M207.98 246.45h.68M207.47 232.02h.68M199.67 229.46h.68M198.64 235.55h.68M200.34 245.61h.68M201.76 267.2h.68M204.23 229.71h.68M198.34 273.37h.68M200.35 248.07h.68M208.74 235.3h.68M213.13 252.54h.68M203.68 263.63h.68M206.17 219.46h.68M211.87 226.62h.68M204.89 236.63h.68M212.78 226.91h.68M214.84 239.79h.68M213.63 260.45h.68M206.41 225h.68M209.89 224.96h.68M211.72 216.23h.68M207.39 236.91h.68M206.56 264.44h.68M212.32 246.96h.68M212.71 243.78h.68M197.91 243.35h.68M214.79 260.52h.68M206.72 267.87h.68M213.64 232.14h.68M198.08 250.47h.68M204.55 234.89h.68M212.27 240.51h.68M202.76 224.06h.68M216.49 252.38h.68M193.65 267.54h.68M205.01 240.47h.68M206.37 247.8h.68M193.92 259.28h.68M197.28 243.57h.68M208.06 224.07h.68M209 237.86h.68M204.1 252.1h.68M206.31 258.75h.68M207.86 237.48h.68M206.84 243.94h.68M203.18 250.84h.68M219.01 226.86h.68M208.51 240.89h.68M204.84 230.65h.68M197.98 229.33h.68M207.71 242.8h.68M200.68 252.08h.68M205.49 259.72h.68M202.56 254.6h.68M200.94 251.37h.68M205.99 246.47h.68M201.63 225.58h.68M199.7 232.52h.68M206.55 247.79h.68M207.87 230.47h.68M211.23 229.89h.68M195.5 242.47h.68M208.15 252.44h.68M198.7 235.26h.68M204.37 231.16h.68M210.3 236.91h.68M200.55 236.73h.68M198.62 224.18h.68M207.9 232.26h.68M205.5 229.78h.68M200.39 248.13h.68M206.77 233.81h.68M203.54 249.51h.68M206.9 233.31h.68M199.86 273.88h.68M208.44 234.99h.68M208.57 232.5h.68M196.58 210.78h.68M195.44 276.13h.68M208.1 267.42h.68M206.35 236.58h.68M202.76 252.07h.68M208.62 241.6h.68M196.42 241.33h.68M199.59 253.4h.68M196.52 244.13h.68M207.01 227.48h.68M203.79 259.99h.68M198.47 262.58h.68M204.64 243.69h.68M201.49 248.29h.68M205.13 257.25h.68M208.3 220.59h.68M200.26 264.5h.68M208.36 252.98h.68M202.77 213.29h.68M203.66 273.57h.68M202.98 256.36h.68M205.77 252.16h.68M215.1 232.38h.68M214.41 251h.68M203.56 251.06h.68M212.46 257.9h.68M199.59 257.33h.68M214.1 221.37h.68M203.1 262.22h.68M208.8 249.31h.68M207.09 235.04h.68M204.93 237.94h.68M206.9 257.52h.68M198.85 220.44h.68M202.89 242.77h.68M213.36 211.41h.68M201.68 259.39h.68M203.95 238.53h.68M203.47 235.51h.68M208.85 240.66h.68M205.51 243.44h.68M214.63 253.41h.68M204.61 254.96h.68M198.46 260.43h.68M215.09 235.65h.68M213.39 234.93h.68M205.19 233.59h.68M203.72 233.84h.68M198.72 239.06h.68M195.51 218.34h.68M212.11 245.49h.68M210.16 236.49h.68M205.71 248.04h.68M197.57 242.12h.68M206.45 235.79h.68M210.31 224.04h.68M206.91 206.81h.68M206.82 250.81h.68M202.5 248.27h.68M200.94 261.25h.68M207.37 243.68h.68M212.02 229.33h.68M200.28 266.23h.68M209.83 229.96h.68M203.38 274.36h.68M198.62 269.4h.68M205.63 225.96h.68M206.95 240.32h.68M202.39 241.76h.68M203.58 255.54h.68M194.33 217h.68M203.03 270.45h.68M204.42 272.82h.68M206.23 221.84h.68M201.89 266.06h.68M213.4 246.93h.68M208.39 245.52h.68M209.18 278.98h.68M201.77 235.36h.68M203.32 249.16h.68M203.41 217.83h.68M203.23 256.28h.68M200.05 251.5h.68M204.21 237.68h.68M208.34 246.77h.68M204.21 223.36h.68M206.53 260.43h.68M204.61 249.74h.68M214.29 220.73h.68M206.73 265.16h.68M204.22 245.02h.68M208.24 231.7h.68M207.1 226.62h.68M208.45 239.46h.68M205.84 217.88h.68M200.91 226.95h.68M211.04 235.87h.68M206.75 251.79h.68M201.9 257.55h.68M200.38 249.76h.68M196.37 242.55h.68M206.05 236.73h.68M207.48 247.91h.68M198.24 239.31h.68M198.06 242.87h.68M204.65 240.29h.68M206.61 235.83h.68M214.53 227.64h.68M208.27 250.71h.68M203.64 219.65h.68M197.13 224.03h.68M193.09 239.9h.68M203.38 234.54h.68M210.07 267.6h.68M206.5 218.65h.68M207.79 223.42h.68M206.94 232.54h.68M215.19 222.91h.68M206.53 244.87h.68M201.45 213.65h.68M200.67 225.19h.68M199.76 237.01h.68M195.81 273.73h.68M210.93 215.04h.68M201.63 252.87h.68M205.35 249.22h.68M209.9 232.4h.68M204.1 228.91h.68M212.2 233.65h.68M201.24 238.68h.68M207.97 244.32h.68M206.6 199.56h.68M210.79 262.2h.68M198.82 232.34h.68M207.64 235.04h.68M216.32 249.71h.68M197.44 254.42h.68M207.75 252.62h.68M206.98 233.45h.68M206.36 223.21h.68M208.81 251.68h.68M202.65 216.52h.68M204.75 229.96h.68M204.37 242.58h.68M199.69 251.21h.68M200.65 233.91h.68M200.89 249.36h.68M202.11 244.37h.68M204.27 274.15h.68M199.63 266.84h.68M203.5 241.23h.68M218.29 208.19h.68M203.76 220.54h.68M206.06 255.97h.68M204.87 244.18h.68M207.07 276.93h.68M206.04 233.75h.68M201.71 253.95h.68M200.21 239.22h.68M210.26 218.88h.68M195.44 256.32h.68M199.01 239.69h.68M210.94 226.65h.68M199.12 238.46h.68M205.54 247.02h.68M208.64 226.57h.68M216.17 230.29h.68M212.44 236.43h.68M206.54 254.73h.68M206.9 212.31h.68M206.52 234.52h.68M202.83 236.82h.68M206.1 229.62h.68M201.15 243.8h.68M199.28 274.71h.68M208.81 207.05h.68M204.57 232.46h.68M207.99 241.32h.68M200.79 255.75h.68M209.35 249.23h.68M203.01 228.24h.68M206.72 279.96h.68M207.48 255.1h.68M204.91 214.83h.68M201.62 274.91h.68M204.29 264.16h.68M198.85 244.86h.68M207.86 247.97h.68M197.62 238.63h.68M209.12 231.29h.68M211.1 235.43h.68M208.02 244.83h.68M210.13 229.41h.68M201.1 223.06h.68M196.71 259.52h.68M196.69 241.73h.68M201.73 231.37h.68M204.1 246.07h.68M203.73 276.99h.68M208.81 237.1h.68M206.81 248.11h.68M195.81 243.33h.68M198.41 251.84h.68M202.33 283.05h.68M203.11 232.61h.68M208.47 224.24h.68M201.68 236.88h.68M205.81 235.51h.68M204.69 265.98h.68M203.44 264.29h.68M205.22 240.01h.68M203.29 238.83h.68M206.43 249.45h.68M209.19 243.4h.68M204.88 243.12h.68M218.71 227.71h.68M204.87 243.74h.68M208.95 244.23h.68M198.25 237.58h.68M203.26 236.93h.68M204.36 243.84h.68M209.94 213.71h.68M204.86 235.44h.68M211.19 247.71h.68M208.42 255.08h.68M212.55 231.3h.68M208.55 247.28h.68M214.94 217.53h.68M207.65 232.64h.68M209.3 252.62h.68M196.74 260.26h.68M204.79 253.86h.68M209.22 240.69h.68M203.63 238.54h.68M197.57 251.08h.68M214.88 228.18h.68M203.59 226.14h.68M201.98 258.74h.68M211.04 214.95h.68M209.92 249.8h.68M210 219.9h.68M205.93 252.31h.68M209.2 242.19h.68M213.24 252.78h.68M214.51 244.71h.68M206.49 209.56h.68M214.83 200.9h.68M206 219.05h.68M207.38 252.14h.68M206.53 240.06h.68M203.94 243.89h.68M211.2 234.78h.68M208.41 252.21h.68M210.13 209.11h.68M205.48 248.25h.68M200.22 246.68h.68M199.91 237.23h.68M216.35 259.71h.68M201.2 218.11h.68M213.76 245.05h.68M205.11 243.67h.68M203.37 225.24h.68M215.68 250.26h.68M210.08 228.85h.68M207.25 266.49h.68M212.36 239.59h.68M203.89 243.61h.68M199.69 239.04h.68M210.02 252.67h.68M208.23 227.13h.68M202.84 257.02h.68M206.21 242.03h.68M201.94 247.31h.68M207.55 229.49h.68M203.54 239.48h.68M201.62 251.15h.68M211.16 230.71h.68M205.71 245.95h.68M206.19 227.33h.68M200.89 254.64h.68M207.04 240.18h.68M207.13 225.66h.68M206.48 241.33h.68M197.62 248.88h.68M207.79 254.98h.68M202.32 241.49h.68M213.58 240.54h.68M206.4 224.96h.68M202.23 223.66h.68M206.19 266.85h.68M204.82 242.72h.68M206.38 246.69h.68M200.64 247.86h.68M199.84 240.98h.68M206.23 259.98h.68M207.78 241.72h.68M203.94 240.42h.68M206.1 248.33h.68M209.98 224.24h.68M203.24 234.33h.68M213.94 225.31h.68M208.99 207.54h.68M195.25 274.3h.68M214.08 246.12h.68M207.29 266.35h.68M206.28 262.11h.68M210.33 239.29h.68M212.82 226.5h.68M193.88 256.45h.68M202.92 240.17h.68M208.41 243.55h.68M206.85 270.44h.68M208.59 248.55h.68M193.47 232.75h.68M200.44 219.94h.68M200.73 246h.68M199.36 233.89h.68M211.14 232.78h.68M207.13 247.18h.68M203.08 231.23h.68M212.18 241.02h.68M205.5 246.42h.68M199.43 235.85h.68M212.31 225.15h.68M203.96 237.96h.68M204.38 243.97h.68M209.54 242.64h.68M207.07 231.94h.68M202.58 228.7h.68M209.55 210.7h.68M199.89 238.13h.68M199.41 253.37h.68M197.51 260.97h.68M212.36 231.44h.68M198.71 233.1h.68M213.2 229.12h.68M210.25 226.55h.68M211.3 235.1h.68M203.5 236.07h.68M209.7 249.47h.68M215.59 226.37h.68M191.77 286.82h.68M199.76 273.76h.68M213.68 257.99h.68M208.73 229.53h.68M199.35 223.45h.68M205.57 221.6h.68M205.73 217.92h.68M206.01 250.75h.68M212.21 247.11h.68M209.47 225.63h.68M209.07 245.98h.68M204.28 221.7h.68M207.27 247.38h.68M193.42 253.93h.68M201.95 235.59h.68M210.21 253.12h.68M207.41 257.41h.68M199.41 255h.68M212.12 241.2h.68M207.78 248.12h.68M211.98 249.86h.68M199.68 244.55h.68M216.66 235.98h.68M202.54 230.2h.68M210.86 247.7h.68M195.48 217.04h.68M199.41 238.07h.68M216 218.26h.68M202.92 243.9h.68M218.09 214.75h.68M204.89 239.73h.68M211.19 210.91h.68M214.07 235.39h.68M207.41 234.38h.68M209.57 210.58h.68M204.99 256.38h.68M207.49 208.23h.68M204.09 236.05h.68M210.22 238.31h.68M197.96 233.54h.68M202.13 234.8h.68M202.38 234.42h.68M201.7 238.15h.68M197.81 246.88h.68M205.95 225.85h.68M204 222.02h.68M211.26 216.75h.68M207.42 235.4h.68M205.6 243.71h.68M206.18 234.08h.68M208.3 250.8h.68M201.5 244.81h.68M209.38 236.62h.68M197.93 221.38h.68M211.6 234.88h.68M199.65 261.59h.68M210.27 273h.68M211.55 245.36h.68M214.19 243.65h.68M205.49 259.02h.68M201.16 241.02h.68M199.15 233.92h.68M203.61 260.93h.68M194.44 253.51h.68M206.13 258.89h.68M204.65 252.78h.68M210.48 232.46h.68M214.54 245.92h.68M205.01 254.12h.68M208.16 238.21h.68M210.23 222.8h.68M210.05 243.2h.68M205.01 249.03h.68M207.31 237.35h.68M194.23 228.22h.68M203.02 264.88h.68M205.12 243.08h.68M207.17 247.84h.68M210.63 244.17h.68M199.82 243.47h.68M201.01 243.36h.68M210.09 268.48h.68M203.37 241.27h.68M209.9 236.74h.68M210.26 235.35h.68M204.11 229.12h.68M205.39 214.99h.68M204.08 232.39h.68M204.59 256.17h.68M209.23 258.21h.68M215.09 239.28h.68M202.31 242.23h.68M202.73 243.86h.68M203.04 225.12h.68M199.65 234.34h.68M191.1 223.23h.68M205.71 246.91h.68M195.76 244.02h.68M196.48 203.9h.68M199.99 278.51h.68M201.53 259.74h.68M204.17 228.56h.68M206.67 238.13h.68M206.96 213.64h.68M213.29 229.32h.68M205.92 238.72h.68M204.07 245.92h.68M207.81 258.93h.68M216.39 225.66h.68M199.67 258.75h.68M204.43 254.54h.68M202.49 253.71h.68M212.23 244.08h.68M211.53 234.4h.68M209.25 242.89h.68M204.43 255.11h.68M196.5 253.04h.68M212.38 221.47h.68M203.16 225.82h.68M198.72 247.78h.68M209.31 221.71h.68M201.66 240.08h.68M210.07 235h.68M214.05 252.72h.68M203.77 256.8h.68M199.06 246.67h.68M199.12 267.69h.68M209.41 234.02h.68M207.7 255.64h.68M200.43 251.35h.68M198.48 240.15h.68M208.42 224.76h.68M205.06 222.83h.68M196 227.13h.68M204.79 260.97h.68M211.84 239.06h.68M204.3 226.3h.68M200.28 227.08h.68M206.66 241.82h.68M198.6 234.27h.68M207.05 241.83h.68M203.49 255.05h.68M202.03 235.06h.68M203.14 232.74h.68M198.97 261.61h.68M206.69 241.77h.68M206.63 237.53h.68M204.35 244h.68M204.39 236h.68M206.25 234.81h.68M205.94 237.76h.68M202.28 262.41h.68M205.66 217.92h.68M202.38 245.64h.68M196.09 258h.68M205.78 226.19h.68M206.07 233.88h.68M205.82 236.6h.68M212.52 237.6h.68M203.26 221.73h.68M210.69 255.26h.68M204.21 251.56h.68M202.32 250.81h.68M209.51 246.62h.68M205.01 221.87h.68M200.42 259.37h.68M203.45 244.31h.68M206.41 230.86h.68M205.04 238.55h.68M198.77 233.03h.68M202.9 241.11h.68M209.61 240.47h.68M204.36 238.43h.68M207.66 215.52h.68M203.83 258.61h.68M198.37 216.65h.68M203.73 262.06h.68M207.29 247.29h.68M205.91 237.84h.68M199.58 253.39h.68M206.47 227.64h.68M205.16 229.23h.68M203.07 226.62h.68M210.89 248.76h.68M214.6 256.37h.68M206.57 248.41h.68M210.31 236.45h.68M201.28 254.95h.68M208.66 245.81h.68M209.86 231.1h.68M209.97 221.93h.68M210.83 239.26h.68M224.87 226.9h.68M212.5 252.87h.68M207.46 236.12h.68M198.77 261.42h.68M207.04 229.93h.68M201.9 245.88h.68M209.97 251.12h.68M208.21 244.16h.68M195.24 223.74h.68M208.05 227.85h.68M210.4 219.01h.68M203.82 241.53h.68M210.9 221.78h.68M205.07 230.3h.68M209.31 221.63h.68M201.41 222.34h.68M200.62 242.22h.68M207.71 221.26h.68M201.6 262.22h.68M205.62 242.2h.68M203.8 236.76h.68M210.04 250.58h.68M206.01 242.4h.68M203.88 248.57h.68M212.45 232.34h.68M202.96 256.3h.68M207.69 256.53h.68M203.89 226.99h.68M206.82 219.95h.68M208.47 247.16h.68M211.86 225.09h.68M210.39 245.49h.68M204.56 215.35h.68M206.52 233.07h.68M203.83 243.63h.68M198.15 246.86h.68M208.94 234.33h.68M213.15 220.28h.68M206.38 232.22h.68M213.68 247.24h.68M213.98 210.56h.68M206.39 256.86h.68M209.19 238.84h.68M200.05 277.23h.68M199.87 240.54h.68M202.84 264.33h.68M206.3 246.87h.68M203.35 256.71h.68M196 239.71h.68M209.88 267.51h.68M209.98 236.13h.68M203.87 257.35h.68M211.97 234.45h.68M202.61 232.33h.68M199.63 219.89h.68M198.36 234.45h.68M206.06 260.29h.68M211.61 218.92h.68M200.54 254.32h.68M206.02 243.46h.68M207.41 243.43h.68M210.29 251.17h.68M205.69 218.08h.68M206.9 250.19h.68M215.06 229.15h.68M203.91 227.5h.68M205.77 273.28h.68M206.13 228.87h.68M207.85 226.4h.68M199.14 270.09h.68M205.53 231.3h.68M208.25 229.21h.68M203.43 243.69h.68M201.08 239.97h.68M212.52 228.07h.68M193.95 270.12h.68M213.9 204.87h.68M204.86 247.9h.68M206.8 240.07h.68M198.09 238.54h.68M206.67 241.36h.68M201.84 240.52h.68M199.04 249h.68M197.87 256.22h.68M212.26 254.72h.68M207.63 242.3h.68M201.6 249.86h.68M210.12 218.38h.68M209.98 219.19h.68M200.93 259.26h.68M207.85 234.4h.68M203.74 253.78h.68M206 237.13h.68M201.43 267.17h.68M196.14 240.69h.68M246.7 242.7h.68M247.9 220.45h.68M254.83 246.58h.68M241.52 241.51h.68M244.37 271.66h.68M241.1 240.32h.68M242.85 237.58h.68M250.23 226.16h.68M248.73 233.12h.68M238.05 247.72h.68M250.62 243h.68M244.27 213.57h.68M249.17 232.19h.68M246.82 239.79h.68M241.7 248.12h.68M243.58 238.71h.68M249.02 239.08h.68M252.62 238.02h.68M244.12 242.85h.68M242.75 256.08h.68M252.82 238.51h.68M254.36 250.04h.68M254.3 240.75h.68M244.35 237.63h.68M236.94 255.78h.68M235.35 229.22h.68M245.16 247.72h.68M252.72 235.92h.68M248.66 236.91h.68M251.03 243.58h.68M245.13 232.54h.68M243.2 229.75h.68M245.93 233.49h.68M239.46 243.54h.68M233.36 245.67h.68M242.45 229.12h.68M248.7 248.22h.68M243.86 233.84h.68M238.32 249.41h.68M251.43 251.32h.68M249.08 224.32h.68M238.64 247.59h.68M245.9 240.92h.68M241.77 239.02h.68M247.66 231.42h.68M246.05 236.46h.68M246.41 244.86h.68M252.66 228.04h.68M239.7 242.5h.68M241.96 223.87h.68M245.04 252.72h.68M238.94 241.2h.68M242.4 238.15h.68M244.2 231.49h.68M253.57 247.1h.68M255.07 218.05h.68M249.67 247.85h.68M239.11 246.89h.68M232.98 242.83h.68M250.77 255.48h.68M241.61 248.85h.68M254.63 235.3h.68M246.25 233.23h.68M253.91 229.44h.68M244.32 235.51h.68M244.96 246.35h.68M252.62 228.97h.68M246.38 252.93h.68M253 228.04h.68M245.47 238.84h.68M240.65 220.01h.68M252.77 255.27h.68M251.42 233.71h.68M242.44 218.39h.68M249.55 224.99h.68M252.34 221.6h.68M240.09 218.52h.68M249.13 232.94h.68M252.9 228.61h.68M252.81 232.35h.68M249.56 230.11h.68M250.94 233.12h.68M244.08 231.75h.68M244.49 224.56h.68M239.14 243.69h.68M252.73 243.59h.68M243.42 243.98h.68M236.47 234.02h.68M254.29 252.19h.68M254.34 242.82h.68M243.9 239.71h.68M250.08 237.17h.68M255.97 212.83h.68M257.01 219.28h.68M245.19 214.1h.68M244.01 248.16h.68M246.47 224.19h.68M248.19 214.11h.68M245.56 229.73h.68M252.22 215.87h.68M252.83 216.75h.68M251.67 245.06h.68M252.38 248.74h.68M256.35 227.59h.68M233.79 258.66h.68M250.18 241.57h.68M247.33 245.69h.68M237.09 236.35h.68M248.34 233.65h.68M237.86 261.08h.68M246.31 223.15h.68M250.63 217.56h.68M250.42 245.36h.68M241.85 240.23h.68M244.02 228.65h.68M250.74 239.14h.68M246.76 235.63h.68M250.19 228.07h.68M248.05 239.39h.68M255.82 228.66h.68M267.48 238.61h.68M254.64 245.11h.68M255.56 225.21h.68M253.57 227.44h.68M240.21 263.13h.68M243.19 235.27h.68M250.46 237.4h.68M236.15 237.19h.68M253.77 222.87h.68M247.67 240.85h.68M248.44 232.52h.68M249.85 244.58h.68M243.91 247.58h.68M241.83 243h.68M250.72 225.85h.68M258.8 232.06h.68M242.76 231.12h.68M253.16 222.41h.68M240.19 228.69h.68M245.66 243.48h.68M248.78 252.99h.68M246.45 233.59h.68M248.09 232.16h.68M253.07 231.61h.68M246.18 239.14h.68M252.89 246.81h.68M250.2 235.45h.68M243.98 235.25h.68M252.65 219.82h.68M255.09 224.53h.68M257.55 227.9h.68M236.28 235.95h.68M242.92 217.4h.68M248.24 257.78h.68M244.24 227.63h.68M254.59 248.25h.68M245.14 228.45h.68M234.66 234.38h.68M232.8 225.93h.68M241.1 218.82h.68M246.95 222.72h.68M246.62 232.32h.68M243.37 256.93h.68M250.94 253.3h.68M240.89 238.2h.68M250.27 232.42h.68M249.31 249.3h.68M247.44 222.45h.68M239.37 231.2h.68M255.67 248.23h.68M258.33 242.49h.68M250.32 243.19h.68M248.62 230.55h.68M248.54 206.72h.68M233.94 231.1h.68M252 231.1h.68M240.02 236.9h.68M241.45 236.1h.68M246.22 246.9h.68M231.78 236.18h.68M251.02 239.66h.68M250.65 218.83h.68M247.94 251.53h.68M253.3 238.04h.68M245.27 229.24h.68M250.99 239.08h.68M245.11 250.9h.68M243.11 237.27h.68M245.27 256.86h.68M237.87 253.81h.68M251.97 245.18h.68M241.23 241.19h.68M253.88 235.4h.68M243.91 232.28h.68M241.34 227.34h.68M242.48 240.87h.68M246.91 236.77h.68M248.82 243.99h.68M261.48 245.81h.68M254.23 243.88h.68M241.13 227.36h.68M236.57 238.13h.68M244.8 236.64h.68M244.99 241.57h.68M251.6 251.01h.68M256.31 236.31h.68M244.85 233.46h.68M238.43 234.55h.68M246.2 234.57h.68M244.67 240.33h.68M257.46 226.3h.68M249.7 218.66h.68M237.09 226.17h.68M248.8 234.63h.68M244.05 218.8h.68M236.69 244.43h.68M234.85 236.2h.68M247.91 225.92h.68M244.36 222.48h.68M254.54 249.2h.68M250.87 229.13h.68M242.69 225.28h.68M250.11 229.63h.68M247.67 227.43h.68M252.43 234.96h.68M249.88 245.29h.68M251.59 252.51h.68M254.15 249.27h.68M247.47 231.09h.68M253.65 226.81h.68M243.74 233.47h.68M250.29 215.41h.68M246.59 233.49h.68M251.01 243.22h.68M260.29 241.98h.68M248.24 231.84h.68M254.25 215.96h.68M250.74 229.33h.68M243.31 234.56h.68M248.9 241.84h.68M241.91 231.13h.68M250.19 232.82h.68M254.67 230.62h.68M237.4 240.99h.68M255.9 227.89h.68M253.03 241.08h.68M238.46 239.87h.68M248.22 224.79h.68M242.52 231.11h.68M249.67 248.75h.68M245.31 245.72h.68M241.24 242.31h.68M243.14 230.22h.68M243.47 244.24h.68M245.83 256.32h.68M258.63 237.76h.68M235.81 249.92h.68M254.12 242.55h.68M243.26 210.28h.68M240.7 250.83h.68M245.5 216.64h.68M241 246.18h.68M236.93 223.57h.68M249.57 241.39h.68M254.62 257.51h.68M247.04 251.4h.68M250.45 239.18h.68M239.07 252.14h.68M241.1 239.16h.68M237.51 236.58h.68M245.18 228.49h.68M238.56 234.31h.68M245.47 240.09h.68M245.72 238.96h.68M238.12 245.09h.68M241.26 239.38h.68M248.43 225.2h.68M249.37 235.13h.68M242.34 248.02h.68M238.46 240.7h.68M257.94 242.4h.68M250.83 232.61h.68M239.73 243.72h.68M247.94 209.77h.68M241.87 243.4h.68M243.1 256.94h.68M248.09 254.48h.68M257.1 242.74h.68M246.68 266.43h.68M252.43 231.52h.68M238.72 237.29h.68M241.59 242.43h.68M242.58 240.62h.68M249 240.83h.68M255.11 251.14h.68M244.3 221.06h.68M246.66 245h.68M236.95 243.92h.68M251.91 240.85h.68M242.36 231.96h.68M236.86 234.1h.68M247.93 269.54h.68M249.1 226.61h.68M249.18 241.25h.68M247.25 243.76h.68M240.83 223.29h.68M245.27 239.64h.68M233.77 230.67h.68M245.03 225.87h.68M247.63 249.88h.68M240.11 223.07h.68M254 240.32h.68M245.84 224.03h.68M240.36 239.67h.68M236.35 229.63h.68M245.13 224.11h.68M245.03 220.23h.68M248.86 248.52h.68M246.23 227.52h.68M250.98 266.97h.68M250.12 243.5h.68M251.95 225.42h.68M242.94 252.52h.68M253.36 238.88h.68M236.6 233.7h.68M248.96 225.1h.68M240.01 230.78h.68M236.12 229.95h.68M241.39 218.74h.68M251.94 242.03h.68M256.42 241.73h.68M242.51 242.85h.68M245.45 244.69h.68M240.68 221.07h.68M245.46 225.88h.68M243.59 228.61h.68M247.92 238.31h.68M241.36 262.26h.68M240.61 254.76h.68M248.69 243.5h.68M243.92 241.37h.68M240.18 250.27h.68M251.74 220.09h.68M251.46 239.98h.68M252.92 240.58h.68M246.45 227.61h.68M251.31 251.38h.68M258.9 217.68h.68M243.18 217.99h.68M243.8 241.97h.68M240.27 251.48h.68M253.08 255.32h.68M249.05 239.53h.68M247.33 244.78h.68M248.53 235.7h.68M234.57 246.72h.68M249.43 251.83h.68M249.21 243.54h.68M257.64 203.29h.68M250.42 227.56h.68M245.64 236.25h.68M253.93 246.83h.68M243.78 252.7h.68M248.84 224.81h.68M248.96 253.79h.68M249.67 202.94h.68M240.95 229.28h.68M254.07 202.9h.68M249.73 240h.68M245.73 216.83h.68M234.92 218.1h.68M245.6 257.8h.68M253.65 263.95h.68M244.94 218.81h.68M250.71 242.97h.68M253.01 232.4h.68M246.26 227.8h.68M240.4 236.85h.68M240.2 251.98h.68M246.26 247.27h.68M244.54 249.11h.68M249.22 245.7h.68M251.33 226.85h.68M242.62 234.39h.68M238.58 244.52h.68M239.3 247.96h.68M242.37 252.81h.68M245.67 222.34h.68M247.59 231.28h.68M252.04 231.51h.68M246.93 237.91h.68M244.46 244.38h.68M247.08 232.28h.68M245.37 246.75h.68M255.95 229.28h.68M240.92 224.73h.68M242.77 241h.68M242.86 236.52h.68M245.29 269.05h.68M241.83 253.13h.68M248.73 262.95h.68M245.31 243.75h.68M249.22 252.71h.68M250.3 232.56h.68M248.38 225.16h.68M250.57 240.13h.68M247.66 232.38h.68M244.43 235.8h.68M248.86 261.12h.68M255.03 228.32h.68M250.39 244.14h.68M244.72 248h.68M244.37 239.88h.68M250.02 230.99h.68M247.97 228.02h.68M246.6 257.62h.68M243.6 219.76h.68M255.72 250.32h.68M248.73 232.1h.68M242.43 222.25h.68M256.57 246.21h.68M241.98 245.8h.68M237.85 239.57h.68M244.29 237.21h.68M248.14 239.14h.68M249.22 232.55h.68M242.13 237.43h.68M243.77 268.18h.68M249.16 257.07h.68M244.42 244.47h.68M251.93 240.41h.68M240.62 231.44h.68M248.25 240.55h.68M253.43 226.53h.68M246.33 243.58h.68M246.46 246.2h.68M242.13 240.16h.68M249.8 245.15h.68M243.39 230.53h.68M240.65 233.69h.68M248.37 224.98h.68M256.86 229.54h.68M243.3 229.34h.68M253.48 241.96h.68M243.76 228.33h.68M244.89 231.69h.68M249.96 241.94h.68M254.69 237.01h.68M250.77 260.62h.68M243.81 222.14h.68M241.14 243.67h.68M248.05 239.38h.68M246.21 237.81h.68M239.55 242.92h.68M253.42 244.08h.68M238.68 229.8h.68M248.63 231.79h.68M246.66 247.97h.68M254.55 238.64h.68M242.79 242.59h.68M250.96 235.36h.68M244.25 241.68h.68M254.75 235.48h.68M243.56 221.86h.68M253.26 243.09h.68M240.55 242.28h.68M246.58 231.13h.68M246.6 221.65h.68M249.59 252.35h.68M243.15 249.1h.68M241.36 237.51h.68M252.99 243.42h.68M247.37 247.76h.68M239.77 207.91h.68M244.3 229.82h.68M247.88 232.08h.68M247.33 232.11h.68M246.15 220.49h.68M246.88 230.88h.68M238.01 234.76h.68M245.49 243.87h.68M243.85 238.66h.68M239.68 237.28h.68M254.9 232.2h.68M245.31 243.65h.68M247.56 224.24h.68M244.14 240.76h.68M251.29 226.33h.68M240.62 234.55h.68M254.51 231.74h.68M242.72 222.02h.68M244.62 235.25h.68M246.53 227.62h.68M238.02 264.25h.68M242.79 233.22h.68M246.97 250.82h.68M248.25 239.27h.68M249.07 249.06h.68M242.51 216.92h.68M248.16 242.36h.68M243.38 231.45h.68M247.01 238.77h.68M241.9 233.72h.68M245.37 245.86h.68M245.59 254.8h.68M247.48 228.42h.68M239.75 232.04h.68M240.54 236.81h.68M259.09 247.03h.68M249.66 237.47h.68M245.12 230.86h.68M252.14 253.56h.68M238.64 246.61h.68M251.39 231.33h.68M246.02 249.11h.68M259.16 230.15h.68M248.94 228.08h.68M249.75 236.93h.68M244.66 242.17h.68M253.12 249.29h.68M251.29 249.8h.68M240.75 253.72h.68M242.3 219.83h.68M242.38 244.83h.68M252.64 262.82h.68M249.52 228.67h.68M238.49 231.08h.68M236.16 233.46h.68M247.01 263.14h.68M236.03 232.56h.68M253.95 238.39h.68M246.68 222.46h.68M255.17 242.55h.68M237.59 258.87h.68M250.09 226.61h.68M247.04 221.78h.68M245.64 257.59h.68M243.65 245.95h.68M241.06 230.28h.68M245.8 231.58h.68M243.79 232.06h.68M251.56 245.53h.68M247.32 236.51h.68M244.95 245.24h.68M251.49 257.86h.68M248.31 229.24h.68M244.23 239.19h.68M248.83 228.6h.68M239.61 233.13h.68M243.46 225.73h.68M254.32 232.42h.68M249.42 223.89h.68M240.58 230.74h.68M250.02 210.59h.68M249.62 248.68h.68M258.06 244.45h.68M254.55 241.1h.68M245.26 233.53h.68M242.42 236.31h.68M239.38 225.3h.68M239.68 226.91h.68M251.45 203.8h.68M251.08 217.83h.68M242.39 239.21h.68M261.28 227.42h.68M240.89 236.52h.68M245.41 231.81h.68M251.27 227.95h.68M236.34 259.24h.68M243.48 238.91h.68M241.13 238.22h.68M250.86 226.18h.68M239.35 240.03h.68M249.89 232.2h.68M235.77 256.02h.68M247.45 252h.68M240.7 238.53h.68M240.61 251.66h.68M250.6 241.51h.68M244.2 233.86h.68M250.74 223.38h.68M247.8 239.01h.68M249.21 214.64h.68M232.09 258.32h.68M245.47 227.69h.68M255.15 249.38h.68M242.28 240.19h.68M249.08 234.95h.68M234.28 239.43h.68M238.53 254.59h.68M242.42 228.47h.68M251.27 237.45h.68M247.93 241.52h.68M247.52 242.15h.68M245.8 246.22h.68M241.97 240.11h.68M248.46 247.09h.68M255.85 224.41h.68M245.66 251.87h.68M241.56 217.35h.68M251.7 213.95h.68M246.42 244.09h.68M248.1 249.1h.68M246.05 237.47h.68M247.43 233.76h.68M245.48 257.58h.68M255.86 226.59h.68M251.03 241.97h.68M243.61 245.63h.68M244.27 231.38h.68M244.91 232.43h.68M237.78 236.5h.68M235.5 236.75h.68M248.63 232.53h.68M247.2 227.38h.68M239.6 234.66h.68M250.39 234.06h.68M243.38 219.5h.68M243.48 250.03h.68M243.36 239.66h.68M244.74 224.57h.68M250.8 223.95h.68M240.64 223.58h.68M246.39 251.27h.68M239 248.1h.68M244.04 232.08h.68M238.47 237.11h.68M239.71 218.99h.68M242.37 235.69h.68M240.93 252.49h.68M246.95 247.22h.68M245.5 226.45h.68M243.41 242.28h.68M242.36 238.73h.68M250.6 231.87h.68M250.75 250.14h.68M248.77 245h.68M247.19 250.72h.68M244.08 238.86h.68M244.99 259.37h.68M249.05 224.7h.68M249.02 214.35h.68M247.44 231.32h.68M246.54 243.81h.68M248.69 249.87h.68M249.78 232.7h.68M233.94 238.74h.68M249.13 245.54h.68M248.31 225.62h.68M252.75 248.96h.68M253.08 259.86h.68M256.47 257.06h.68M236.37 241.4h.68M243.33 221.35h.68M238.65 248.07h.68M242.33 232.69h.68M242 248.12h.68M239.13 221.48h.68M246.66 231.63h.68M249.65 253.64h.68M239.88 230.09h.68M242.06 241.81h.68M253.07 237.7h.68M237.58 233.52h.68M251 236.82h.68M250.06 231.77h.68M240.68 228.53h.68M245.84 250.1h.68M246.75 228.68h.68M250.39 233.59h.68M245.53 242.7h.68M240.01 219.95h.68M247.02 235.66h.68M237.54 239.6h.68M251.74 235.14h.68M246.78 230.37h.68M234.28 236.04h.68M241.1 242.29h.68M253.27 235.03h.68M242.84 240.87h.68M238.07 237.26h.68M251.48 235.29h.68M244.38 231.69h.68M241.61 231.26h.68M243 234.18h.68M236.81 236.19h.68M248.88 234.3h.68M246.5 234.18h.68M243.34 232.44h.68M251.69 214.25h.68M246.56 221h.68M240.42 242.85h.68M246.16 231.94h.68M240.53 254.08h.68M251.11 251.29h.68M239.61 227.51h.68M252.28 239.1h.68M246.28 231.67h.68M254.08 217.55h.68M246.21 247.01h.68M245.13 216.15h.68M246.44 247.28h.68M253.29 250.35h.68M245.14 243.42h.68M248.25 248.25h.68M250.2 228.58h.68M244.17 259.19h.68M248.67 231.33h.68M258.59 231.93h.68M241.47 246.44h.68M251.28 244.09h.68M244.51 244.01h.68M248.3 236.48h.68M246.34 202.23h.68M248.18 218.14h.68M243.48 237.11h.68M250.99 247.04h.68M240.92 239.48h.68M253.89 231.98h.68M244.76 262.97h.68M241.88 243.66h.68M246.71 237.56h.68M245.29 234.32h.68M248.72 223.45h.68M253.29 238.69h.68M245.14 221.33h.68M244.71 226.37h.68M237.55 233.74h.68M242.54 240h.68M248.19 217.92h.68M237.83 223.18h.68M244.85 243.1h.68M247.59 240.55h.68M241.35 229.32h.68M247.35 242.36h.68M253.98 225.05h.68M250.69 234.87h.68M258.86 227.71h.68M249.21 231.44h.68M244.92 236.08h.68M241.55 240.11h.68M244.66 238.29h.68M246.34 247.55h.68M250.92 236.12h.68M250.89 259.28h.68M242.64 239.1h.68M251.37 225.05h.68M241.94 240.81h.68M246.23 229.75h.68M223.38 234.96h.68M196.54 243.52h.68M237.41 261.92h.68M248.97 234.72h.68M243.66 257.42h.68M236.33 253.34h.68M225.48 231.17h.68M232.92 254.6h.68M245.37 243.2h.68M237.1 224.41h.68M223.97 240.25h.68M225.5 226.67h.68M258.73 256.75h.68M235.98 255.6h.68M237.09 258.13h.68M225.29 263.47h.68M245.19 234.03h.68M228.79 242.01h.68M187.87 283.7h.68M241.11 222.29h.68M201.77 233.96h.68M209.91 237.48h.68M222.37 253.63h.68M210.03 238.26h.68M186.05 228.26h.68M219.45 247.53h.68M219.87 238.23h.68M199.7 247.32h.68M190.51 220.9h.68M196.08 260.31h.68M236.85 273.95h.68M229.69 237.89h.68M231.07 263.74h.68M269.59 266.79h.68M208.69 244.92h.68M263.86 256.18h.68M244.12 263h.68M215.55 237.1h.68M218.22 239.9h.68M234.8 253.16h.68M212.48 261.12h.68M218.56 243.77h.68M222.47 263.53h.68M222.8 231.85h.68M216 257.07h.68M227.21 255.62h.68M205.06 233.53h.68M199.35 280.47h.68M227.93 272.8h.68M235.4 248.62h.68M187.07 259.4h.68M211.18 236.62h.68M236.1 263.53h.68M229.2 239.32h.68M234.23 250.02h.68M248.07 240.4h.68M250.1 257.13h.68M216.88 267.9h.68M240.39 263.45h.68M260.59 251.98h.68M231.76 245.41h.68M227.98 248.08h.68M212.34 271.86h.68M188.7 268.82h.68M198.82 258.93h.68M228.89 262.3h.68M191.98 239.54h.68M223.39 234.61h.68M236.5 225.3h.68M191.82 224.18h.68M211.55 245.97h.68M224.99 253.14h.68M235.89 248.72h.68M223.09 280.91h.68M229.06 263.18h.68M235.6 270.56h.68M222.34 256.52h.68M220.34 237.41h.68M229.41 250.99h.68M194.94 216.37h.68M249.49 280.3h.68M216.72 244.41h.68M246.42 255.73h.68M247.63 247.93h.68M207.71 237.26h.68M244.81 251.89h.68M248.69 219.86h.68M216.77 263.2h.68M214.95 246.06h.68M208.92 258.92h.68M237.41 249.42h.68M244.36 256.45h.68M247.64 246.6h.68M231.61 239.29h.68M233.56 229.37h.68M209.46 248.57h.68M225.24 235.2h.68M222.54 231.81h.68M218.11 232.91h.68M239.86 280.11h.68M216.52 262.24h.68M240.19 260.34h.68M236.6 238.24h.68M237.24 252.96h.68M227.77 256.04h.68M253.56 272.25h.68M220.44 231.37h.68M208.89 267.29h.68M223.89 285.75h.68M242.27 220.66h.68M246.3 263.2h.68M218.82 256.56h.68M230.13 256.2h.68M242.47 226.89h.68M217 252.22h.68M215.34 226.79h.68M225.93 260.47h.68M236.29 255.05h.68M254.83 231.72h.68M237.22 286.48h.68M230.26 270.88h.68M239 236.2h.68M224.84 258.18h.68M243.04 268.16h.68M247.19 220.75h.68M205.63 252.12h.68M234.48 253.93h.68M256.54 244.92h.68M217.9 258h.68M225.2 272.43h.68M237.91 237.59h.68M217.06 250.29h.68M206.13 271.5h.68M249.09 235.01h.68M215.73 233.26h.68M224.9 235.26h.68M216.4 249.2h.68M259.07 231.12h.68M239.85 221.99h.68M239.27 218.42h.68M239.47 226.89h.68M211.02 275.7h.68M239.31 268.83h.68M212.1 208.61h.68M230.3 249.4h.68M238.13 236.86h.68M239.42 252.41h.68M202.15 269.34h.68M246.1 259.78h.68M234.99 253.93h.68M251.45 223.37h.68M230.86 249.83h.68M225.66 229.54h.68M226.29 243.08h.68M226.12 253.09h.68M212.68 241.66h.68M222.27 277.39h.68M241 255.06h.68M201.77 252.02h.68M233.46 251.05h.68M196.67 278.8h.68M262.26 250.71h.68M214.92 236.22h.68M231.86 255.29h.68M237.51 229.93h.68M223.13 234.33h.68M222.07 262.98h.68M238.72 271.36h.68M197.63 260.49h.68M230.49 265.01h.68M210.03 283.89h.68M239.2 271.65h.68M238.85 280.02h.68M205.45 263.63h.68M213.72 272.29h.68M235.03 262.2h.68M243 252.78h.68M228.7 277.3h.68M183.39 277.83h.68M210.14 271.75h.68M231.16 257.6h.68M239.33 266.67h.68M258.09 277.78h.68M232.47 268.04h.68M192.87 265.12h.68M226.58 267.02h.68M255.6 271.22h.68M196.02 264.05h.68M200.73 274.69h.68M233.9 272.91h.68M240.99 262.38h.68M211.56 269.57h.68M216.4 261.78h.68M234.36 278.84h.68M215.62 269h.68M212.89 260.08h.68M210.63 278.09h.68M236.12 269.24h.68M236.7 261h.68M205.78 258.57h.68M229.14 271h.68M208.52 262.97h.68M248.98 277.88h.68M225.25 271.24h.68M244.31 275.39h.68M227.16 277.34h.68M196.92 273.85h.68M258.88 278.89h.68M222.06 274.4h.68M199.77 273.75h.68M189.27 244.74h.68M194.97 257.08h.68M230.47 277.43h.68M252.32 257.9h.68M245.63 280.79h.68M224.74 277.45h.68M237.43 277.57h.68M208.62 272.24h.68M216.63 276.52h.68M243.14 280h.68M203.28 263.59h.68M201.15 278.66h.68M222.14 256.37h.68M222.51 272.41h.68M206.33 266.44h.68M233.18 261.5h.68M238.88 270.19h.68M225.34 264.72h.68M184.01 252.62h.68M244.88 280.74h.68M212.46 268.64h.68M244.76 280.74h.68M222.06 271.23h.68M244.26 267.49h.68M212.66 267.77h.68M205.14 267.8h.68M207.41 271.36h.68M211.98 272.07h.68M227.13 255.57h.68M220.44 269.26h.68M236.63 275.02h.68M270.15 269.11h.68M216.37 271.12h.68M224.91 264.34h.68M194.77 276.57h.68M231.27 281.73h.68M234.27 271.99h.68M238.65 285.44h.68M270.29 272.16h.68M243.04 273.4h.68M211.16 260.51h.68M226.94 264.53h.68M215.05 267.83h.68M236.26 273.78h.68M208.12 274.19h.68M212.45 275.86h.68M222.58 270.16h.68M201.4 248.97h.68M224.2 266.86h.68M207.8 278.16h.68M201.74 278.47h.68M203.36 272.12h.68M241.39 260.05h.68M185.33 283.37h.68M242.31 284.02h.68M236.07 258.19h.68M195.89 270.34h.68M210.06 273.87h.68" stroke="#111" stroke-width=".68" fill="none" opacity=".8"/>
<rect x="232.25" y="209.45" width="32" height="30.6" fill="none" stroke="#c5122f" stroke-width="2.9" />
<line x1="32" y1="275.8" x2="32" y2="211" stroke="#000" stroke-width="1.1" />
<path d="M32 204.8L27.9 212.6L32 211L36.1 212.6Z" fill="#000"/>
<text transform="translate(24.7 240.4) rotate(-90)" font-size="10.5" text-anchor="middle" textLength="70.8" lengthAdjust="spacingAndGlyphs">Hoechst 33342</text>
<line x1="71.6" y1="312" x2="255" y2="312" stroke="#000" stroke-width="1.1" />
<path d="M262.6 312L253.6 307.5L255.4 312L253.6 316.5Z" fill="#000"/>
<text x="158.4" y="323.4" font-size="10.5" text-anchor="middle" textLength="49.8" lengthAdjust="spacingAndGlyphs">Keratin 19</text>
<text x="301.8" y="193.1" font-size="18" font-weight="bold" fill="#0c0c0c">D</text>
<path d="M357.7 205.2V309.6H514.6" stroke="#000" stroke-width="1.2" fill="none" />
<line x1="354.5" y1="309.6" x2="357.7" y2="309.6" stroke="#000" stroke-width="1.1" />
<text x="349.4" y="316.2" font-size="11.2" text-anchor="end">0</text>
<line x1="354.5" y1="268" x2="357.7" y2="268" stroke="#000" stroke-width="1.1" />
<text x="349.4" y="272.1" font-size="11.2" text-anchor="end">1</text>
<line x1="354.5" y1="226.4" x2="357.7" y2="226.4" stroke="#000" stroke-width="1.1" />
<text x="349.4" y="230.5" font-size="11.2" text-anchor="end">2</text>
<rect x="358.9" y="284.7" width="10.9" height="25.2" fill="#000" />
<path d="M364.35 284.7V283.6M361.55 283.6h5.6" stroke="#000" stroke-width="1" fill="none" />
<text transform="translate(368.45 316.6) rotate(-46)" font-size="11.2" text-anchor="end" textLength="26.69" lengthAdjust="spacingAndGlyphs" font-style="italic" fill="#1c1a1b" stroke="#1c1a1b" stroke-width=".12">Vegfa</text>
<rect x="373.29" y="226.6" width="10.9" height="83.3" fill="#000" />
<path d="M378.74 226.6V220.3M375.94 220.3h5.6" stroke="#000" stroke-width="1" fill="none" />
<text transform="translate(382.84 316.6) rotate(-46)" font-size="11.2" text-anchor="end" textLength="31.67" lengthAdjust="spacingAndGlyphs" font-style="italic" fill="#1c1a1b" stroke="#1c1a1b" stroke-width=".12">Cxcl12</text>
<rect x="387.68" y="294.6" width="10.9" height="15.3" fill="#000" />
<path d="M393.13 294.6V291.8M390.33 291.8h5.6" stroke="#000" stroke-width="1" fill="none" />
<text transform="translate(397.23 316.6) rotate(-46)" font-size="11.2" text-anchor="end" textLength="31.68" lengthAdjust="spacingAndGlyphs" font-style="italic" fill="#1c1a1b" stroke="#1c1a1b" stroke-width=".12">Slc2a1</text>
<rect x="402.07" y="286.4" width="10.9" height="23.5" fill="#000" />
<path d="M407.52 286.4V284.4M404.72 284.4h5.6" stroke="#000" stroke-width="1" fill="none" />
<text transform="translate(411.62 316.6) rotate(-46)" font-size="11.2" text-anchor="end" textLength="23.61" lengthAdjust="spacingAndGlyphs" font-style="italic" fill="#1c1a1b" stroke="#1c1a1b" stroke-width=".12">Pdk1</text>
<rect x="416.46" y="291.6" width="10.9" height="18.3" fill="#000" />
<path d="M421.91 291.6V289.6M419.11 289.6h5.6" stroke="#000" stroke-width="1" fill="none" />
<text transform="translate(426.01 316.6) rotate(-46)" font-size="11.2" text-anchor="end" textLength="18.43" lengthAdjust="spacingAndGlyphs" font-style="italic" fill="#1c1a1b" stroke="#1c1a1b" stroke-width=".12">Pdh</text>
<rect x="430.85" y="296.7" width="10.9" height="13.2" fill="#000" />
<text transform="translate(440.4 316.6) rotate(-46)" font-size="11.2" text-anchor="end" textLength="17.85" lengthAdjust="spacingAndGlyphs" font-style="italic" fill="#1c1a1b" stroke="#1c1a1b" stroke-width=".12">Pgk</text>
<rect x="445.24" y="293.9" width="10.9" height="16" fill="#000" />
<path d="M447.89 293.3h5.6" stroke="#000" stroke-width=".8" fill="none" />
<text transform="translate(454.79 316.6) rotate(-46)" font-size="11.2" text-anchor="end" textLength="18.42" lengthAdjust="spacingAndGlyphs" font-style="italic" fill="#1c1a1b" stroke="#1c1a1b" stroke-width=".12">Hk2</text>
<rect x="459.63" y="292.2" width="10.9" height="17.7" fill="#000" />
<path d="M465.08 292.2V285.3M462.28 285.3h5.6" stroke="#000" stroke-width="1" fill="none" />
<text transform="translate(469.18 316.6) rotate(-46)" font-size="11.2" text-anchor="end" textLength="25.35" lengthAdjust="spacingAndGlyphs" font-style="italic" fill="#1c1a1b" stroke="#1c1a1b" stroke-width=".12">G6pd</text>
<rect x="474.02" y="303.5" width="10.9" height="6.4" fill="#000" />
<path d="M476.67 302.8h5.6" stroke="#000" stroke-width=".8" fill="none" />
<text transform="translate(483.57 316.6) rotate(-46)" font-size="11.2" text-anchor="end" textLength="22.46" lengthAdjust="spacingAndGlyphs" font-style="italic" fill="#1c1a1b" stroke="#1c1a1b" stroke-width=".12">Ca-9</text>
<rect x="488.41" y="299.6" width="10.9" height="10.3" fill="#000" />
<path d="M491.06 299h5.6" stroke="#000" stroke-width=".8" fill="none" />
<text transform="translate(497.96 316.6) rotate(-46)" font-size="11.2" text-anchor="end" textLength="24.19" lengthAdjust="spacingAndGlyphs" font-style="italic" fill="#1c1a1b" stroke="#1c1a1b" stroke-width=".12">Nos2</text>
<rect x="502.8" y="261.5" width="10.9" height="48.4" fill="#000" />
<path d="M505.45 260.8h5.6" stroke="#000" stroke-width=".8" fill="none" />
<text transform="translate(512.35 316.6) rotate(-46)" font-size="11.2" text-anchor="end" textLength="27.65" lengthAdjust="spacingAndGlyphs" font-style="italic" fill="#1c1a1b" stroke="#1c1a1b" stroke-width=".12">Parp1</text>
<text transform="translate(317.6 257) rotate(-90)" font-size="10.6" text-anchor="middle" textLength="109.6" lengthAdjust="spacingAndGlyphs">Fold changes in mRNA</text>
<text transform="translate(333.2 260.5) rotate(-90)" font-size="10.6" text-anchor="middle" textLength="46" lengthAdjust="spacingAndGlyphs">Clod/Veh</text>
<text x="-.1" y="349.8" font-size="18" font-weight="bold" fill="#0c0c0c">E</text>
<path d="M53.6 354.4V445.6H104.2" stroke="#000" stroke-width="1.3" fill="none" />
<line x1="50.6" y1="445.6" x2="53.6" y2="445.6" stroke="#000" stroke-width="1.1" />
<text x="51.2" y="450.3" font-size="11" text-anchor="end">0</text>
<line x1="50.6" y1="415.4" x2="53.6" y2="415.4" stroke="#000" stroke-width="1.1" />
<text x="51.2" y="420.1" font-size="11" text-anchor="end" textLength="17.4" lengthAdjust="spacingAndGlyphs">250</text>
<line x1="50.6" y1="385.2" x2="53.6" y2="385.2" stroke="#000" stroke-width="1.1" />
<text x="51.2" y="389.9" font-size="11" text-anchor="end" textLength="17.4" lengthAdjust="spacingAndGlyphs">500</text>
<line x1="50.6" y1="355" x2="53.6" y2="355" stroke="#000" stroke-width="1.1" />
<text x="51.2" y="359.7" font-size="11" text-anchor="end" textLength="17.4" lengthAdjust="spacingAndGlyphs">750</text>
<path d="M66.7 372V366.5M62.4 366.5h8.6" stroke="#000" stroke-width="1.1" fill="none" />
<rect x="57.9" y="372" width="17.7" height="73.6" fill="#fff" stroke="#000" stroke-width="1.1" />
<path d="M91.8 395V389.1M87.2 389.1h9.2" stroke="#000" stroke-width="1.1" fill="none" />
<rect x="82.4" y="395" width="19.2" height="51" fill="#000" />
<path d="M67.4 356.4V353.6H93V356.4" stroke="#222" stroke-width=".8" fill="none" />
<text x="81" y="357.15" font-size="17" text-anchor="middle">*</text>
<text x="67.3" y="458.4" font-size="10.8" text-anchor="middle" textLength="18.6" lengthAdjust="spacingAndGlyphs">Veh</text>
<text x="93" y="458.4" font-size="10.8" text-anchor="middle" textLength="22" lengthAdjust="spacingAndGlyphs">Clod</text>
<text transform="translate(23.9 440.4) rotate(-90)" font-size="11" textLength="72.4" lengthAdjust="spacingAndGlyphs"><tspan font-size="6" dy="-3.6">14</tspan><tspan dy="3.6">C counts/min</tspan></text>
<path d="M141.6 356V445.6H197" stroke="#000" stroke-width="1.3" fill="none" />
<line x1="138.6" y1="445.6" x2="141.6" y2="445.6" stroke="#000" stroke-width="1.1" />
<text x="138.8" y="450" font-size="11" text-anchor="end">0</text>
<line x1="138.6" y1="415.85" x2="141.6" y2="415.85" stroke="#000" stroke-width="1.1" />
<text x="138.8" y="420.85" font-size="11" text-anchor="end">5</text>
<line x1="138.6" y1="386.1" x2="141.6" y2="386.1" stroke="#000" stroke-width="1.1" />
<text x="138.8" y="391.1" font-size="11" text-anchor="end" textLength="11" lengthAdjust="spacingAndGlyphs">10</text>
<line x1="138.6" y1="356.35" x2="141.6" y2="356.35" stroke="#000" stroke-width="1.1" />
<text x="138.8" y="362.15" font-size="11" text-anchor="end" textLength="11" lengthAdjust="spacingAndGlyphs">15</text>
<path d="M155.2 364.2V361.7M150.4 361.7h9.6" stroke="#000" stroke-width="1.1" fill="none" />
<rect x="145.9" y="364.4" width="18.6" height="81.2" fill="#fff" stroke="#000" stroke-width="1.1" />
<path d="M178.4 415.3h9.6" stroke="#000" stroke-width=".9" fill="none" />
<rect x="173.4" y="416" width="19.6" height="30" fill="#000" />
<path d="M154 356.4V353.6H183.4V356.4" stroke="#222" stroke-width=".8" fill="none" />
<text x="171" y="358.15" font-size="17" text-anchor="middle" textLength="18.8" lengthAdjust="spacingAndGlyphs">***</text>
<text x="156.3" y="458" font-size="10.8" text-anchor="middle" textLength="17.6" lengthAdjust="spacingAndGlyphs">Veh</text>
<text x="184.8" y="458" font-size="10.8" text-anchor="middle" textLength="22.4" lengthAdjust="spacingAndGlyphs">Clod</text>
<text transform="translate(121.4 401.2) rotate(-90)" font-size="10.9" text-anchor="middle" textLength="69.4" lengthAdjust="spacingAndGlyphs">Lactate (nmol)</text>
<text x="-.1" y="494.6" font-size="18" font-weight="bold" fill="#0c0c0c">F</text>
<text x="102.3" y="485.8" font-size="10.6" text-anchor="middle" textLength="36.6" lengthAdjust="spacingAndGlyphs">Aerobic</text>
<text x="102.4" y="497.9" font-size="10.6" text-anchor="middle" textLength="53.9" lengthAdjust="spacingAndGlyphs">tumor cells</text>
<line x1="71.6" y1="502.1" x2="133" y2="502.1" stroke="#000" stroke-width=".9" />
<text x="82.2" y="515.2" font-size="10.6" text-anchor="middle" textLength="18" lengthAdjust="spacingAndGlyphs">Veh</text>
<text x="122.4" y="515.2" font-size="10.6" text-anchor="middle" textLength="21.2" lengthAdjust="spacingAndGlyphs">Clod</text>
<text x="54.2" y="533.8" font-size="10.2" text-anchor="end" textLength="28.4" lengthAdjust="spacingAndGlyphs">GLUT1</text>
<text x="55.2" y="556" font-size="10.2" text-anchor="end" textLength="32" lengthAdjust="spacingAndGlyphs">β-Actin</text>
<text x="145.7" y="533.8" font-size="10.6" textLength="32.7" lengthAdjust="spacingAndGlyphs">55 kDa</text>
<text x="145.7" y="556" font-size="10.6" textLength="32.7" lengthAdjust="spacingAndGlyphs">42 kDa</text>
<clipPath id="cb1"><rect x="59.2" y="521.7" width="81.8" height="17.8"/></clipPath>
<clipPath id="cb2"><rect x="59.2" y="544.8" width="81.8" height="15.6"/></clipPath>
<linearGradient id="gap" x1="0" y1="0" x2="0" y2="1"><stop offset="0" stop-color="#f0f0f0"/><stop offset=".5" stop-color="#d0d0d0"/><stop offset="1" stop-color="#6c6c6c"/></linearGradient>
<rect x="59.2" y="521.7" width="81.8" height="17.8" fill="#ececec" />
<g clip-path="url(#cb1)">
<rect x="100" y="520" width="8" height="22" fill="url(#gap)" />
<g filter="url(#b05)">
<rect x="59.9" y="522.2" width="42" height="18.4" fill="#0b0b0b" rx="6.5"/>
<rect x="105.2" y="522.6" width="36" height="18" fill="#0e0e0e" rx="5"/>
<path d="M100.2 521L107.2 521L104.6 529L102.8 529Z" fill="#f4f4f4"/>
</g><g filter="url(#b1)">
<ellipse cx="81" cy="528.3" rx="15" ry="1.7" fill="#343434" />
<rect x="108.5" y="523.8" width="30.5" height="6" fill="#707070" rx="2.5"/>
<rect x="62" y="538.2" width="76" height="1.6" fill="#3c3c3c" />
</g></g>
<rect x="58.8" y="521.2" width="82.5" height="18.6" fill="none" stroke="#000" stroke-width="1.2" />
<rect x="59.2" y="544.8" width="81.8" height="15.6" fill="#f2f2f2" />
<g clip-path="url(#cb2)">
<rect x="59.2" y="557.6" width="81.8" height="3" fill="#c4c4c4" filter="url(#b05)"/>
<g filter="url(#b05)">
<path d="M63 547.4C70 547 74 548.6 81 549C88 548.8 94 547 99 547.4C102 548 102 556 99.5 557.2C92 558.4 72 558.4 63.5 557.4C60 556 60 548.4 63 547.4Z" fill="#0a0a0a"/>
<path d="M107 547.6C114 547 124 548.2 134 547.6C138 548 138.4 555 135 556.2C126 557.2 114 557.2 107.4 556.4C104.6 555.4 104.4 548.6 107 547.6Z" fill="#0a0a0a"/>
<rect x="99" y="552" width="8" height="4.6" fill="#262626" />
</g></g>
<rect x="58.8" y="544.3" width="82.5" height="16.5" fill="none" stroke="#000" stroke-width="1.2" />
<text x=".05" y="589.3" font-size="18" font-weight="bold" fill="#0c0c0c">G</text>
<path d="M62 586V671H189.8" stroke="#000" stroke-width="1.3" fill="none" />
<line x1="59" y1="587.4" x2="62" y2="587.4" stroke="#000" stroke-width="1.1" />
<text x="57.6" y="591.4" font-size="11" text-anchor="end" textLength="14.2" lengthAdjust="spacingAndGlyphs">1.0</text>
<line x1="59" y1="625.2" x2="62" y2="625.2" stroke="#000" stroke-width="1.1" />
<text x="57.6" y="629.2" font-size="11" text-anchor="end" textLength="14.2" lengthAdjust="spacingAndGlyphs">0.9</text>
<line x1="59" y1="663" x2="62" y2="663" stroke="#000" stroke-width="1.1" />
<text x="57.6" y="667" font-size="11" text-anchor="end" textLength="14.2" lengthAdjust="spacingAndGlyphs">0.8</text>
<text x="61.2" y="685" font-size="11" text-anchor="middle">0</text>
<line x1="88" y1="671" x2="88" y2="674" stroke="#000" stroke-width="1.1" />
<text x="86.1" y="685" font-size="11" text-anchor="middle" textLength="18" lengthAdjust="spacingAndGlyphs">100</text>
<line x1="114" y1="671" x2="114" y2="674" stroke="#000" stroke-width="1.1" />
<text x="113.2" y="685" font-size="11" text-anchor="middle" textLength="18" lengthAdjust="spacingAndGlyphs">200</text>
<line x1="140" y1="671" x2="140" y2="674" stroke="#000" stroke-width="1.1" />
<text x="140.2" y="685" font-size="11" text-anchor="middle" textLength="18" lengthAdjust="spacingAndGlyphs">300</text>
<line x1="166" y1="671" x2="166" y2="674" stroke="#000" stroke-width="1.1" />
<text x="166.5" y="685" font-size="11" text-anchor="middle" textLength="18" lengthAdjust="spacingAndGlyphs">400</text>
<text x="122" y="697.3" font-size="10.7" text-anchor="middle" textLength="50" lengthAdjust="spacingAndGlyphs">Time (sec)</text>
<text transform="translate(33 628.5) rotate(-90)" font-size="10.7" text-anchor="middle" textLength="65" lengthAdjust="spacingAndGlyphs">Arbitrary unit</text>
<polyline points="62.5,590.94 63.01,591.44 63.52,592.15 64.03,593.08 64.53,593.52 65.04,591.78 65.55,598.05 66.06,598.44 66.57,598.33 67.08,600.28 67.59,603.49 68.09,603.08 68.6,604.49 69.11,604.05 69.62,609.69 70.13,608.91 70.64,606.94 71.14,607 71.65,615.19 72.16,612 72.67,616.78 73.18,617.57 73.69,618.08 74.2,617.69 74.7,615.51 75.21,616.12 75.72,617.84 76.23,618.55 76.74,618.19 77.25,618.56 77.76,617.93 78.26,620.81 78.77,619.75 79.28,620.75 79.79,621.54 80.3,621.59 80.81,622.17 81.32,622.33 81.82,624.07 82.33,621.22 82.84,625.52 83.35,625.92 83.86,625.8 84.37,625.87 84.87,626.45 85.38,624.62 85.89,625.42 86.4,627.55 86.91,629.69 87.42,629.34 87.93,626.92 88.43,629.29 88.94,632.68 89.45,631.42 89.96,631.5 90.47,628.44 90.98,631.27 91.49,626.72 91.99,629.75 92.5,630.96 93.01,631.9 93.52,629.28 94.03,632.65 94.54,633.35 95.04,630.47 95.55,632.13 96.06,629.84 96.57,632.7 97.08,638.97 97.59,632.08 98.1,637.81 98.6,631.72 99.11,631.11 99.62,635.35 100.13,637.59 100.64,638.87 101.15,635.05 101.66,637.09 102.16,638.68 102.67,637.87 103.18,632.07 103.69,637.74 104.2,637.36 104.71,638.29 105.22,638.16 105.72,638.35 106.23,641.75 106.74,640.81 107.25,642.17 107.76,642.15 108.27,638.94 108.77,642.64 109.28,641.47 109.79,642.92 110.3,642.56 110.81,640.41 111.32,643.16 111.83,643.32 112.33,641.38 112.84,641.47 113.35,641.67 113.86,639.48 114.37,646.47 114.88,642.36 115.39,642.74 115.89,641.72 116.4,645.44 116.91,638.67 117.42,646.24 117.93,642.39 118.44,644.22 118.95,644.84 119.45,642.63 119.96,648.09 120.47,649.7 120.98,647.88 121.49,645.18 122,642.4 122.5,650.19 123.01,647.77 123.52,645.23 124.03,642.51 124.54,649.19 125.05,651.41 125.56,651.49 126.06,649.75 126.57,648.79 127.08,652.12 127.59,650.99 128.1,647.42 128.61,649.81 129.12,649.97 129.62,650.2 130.13,650.29 130.64,646.83 131.15,646.23 131.66,645.37 132.17,648.47 132.67,648.79 133.18,647.09 133.69,645.77 134.2,646.05 134.71,646.64 135.22,650.08 135.73,652.07 136.23,647.48 136.74,652.59 137.25,649.35 137.76,650.48 138.27,651.65 138.78,646.55 139.29,649.07 139.79,652.13 140.3,649.07 140.81,649.59 141.32,649.37 141.83,646.23 142.34,650.84 142.85,652.88 143.35,650.48 143.86,651.88 144.37,649.79 144.88,650.33 145.39,650.25 145.9,652.48 146.4,650.42 146.91,652.19 147.42,649.96 147.93,651.7 148.44,653.46 148.95,650.57 149.46,653.19 149.96,648.7 150.47,650.85 150.98,650.8 151.49,651.8 152,652.4 152.51,657.08 153.02,650.64 153.52,654.78 154.03,651.6 154.54,654.96 155.05,657.09 155.56,654.82 156.07,656.53 156.58,655.13 157.08,653.48 157.59,654.87 158.1,656.63 158.61,654.8 159.12,653.77 159.63,651.89 160.13,652.27 160.64,653.21 161.15,656.04 161.66,651.74 162.17,653.67 162.68,654.5 163.19,652.55 163.69,653.16 164.2,653.68 164.71,656.75 165.22,655.49 165.73,658.13 166.24,655.22 166.75,655.36 167.25,653.36 167.76,654.72 168.27,655.73 168.78,650.92 169.29,657.15 169.8,658.08 170.3,656.72 170.81,655.09 171.32,656.87 171.83,656.51 172.34,659.04 172.85,653.32 173.36,657.45 173.86,659.08 174.37,657.59 174.88,658.71 175.39,657.46 175.9,653.98 176.41,657.18 176.92,656.64 177.42,655.48 177.93,657.98 178.44,655.95 178.95,656.63 179.46,658.03 179.97,659.23 180.48,657.75 180.98,656.01 181.49,657.92 182,658.56 182.51,661.57 183.02,656 183.53,660.34 184.03,659.83 184.54,658.17 185.05,657.67 185.56,657.58 186.07,659.25 186.58,658.64 187.09,659.26 187.59,664.33 188.1,658.44 188.61,657.01 189.12,657.17" fill="none" stroke="#ed1c24" stroke-width="1.25" stroke-linejoin="round"/>
<polyline points="62.5,587.52 63.01,587.63 63.52,587.77 64.03,585.25 64.53,586.29 65.04,587.23 65.55,587.34 66.06,589.91 66.57,587.65 67.08,588.4 67.59,591.23 68.09,587.48 68.6,590.83 69.11,593.53 69.62,592.68 70.13,592.29 70.64,593.02 71.14,595.02 71.65,594.23 72.16,597.61 72.67,596.29 73.18,594.98 73.69,597.41 74.2,595.39 74.7,595.47 75.21,598.89 75.72,602.52 76.23,596.25 76.74,595.81 77.25,601.48 77.76,598.59 78.26,598.88 78.77,603.38 79.28,601.57 79.79,599 80.3,601.18 80.81,601.69 81.32,600.39 81.82,604.56 82.33,607.79 82.84,602.16 83.35,606.58 83.86,604.81 84.37,602.85 84.87,604.85 85.38,604.85 85.89,607.1 86.4,605.23 86.91,602.14 87.42,607.45 87.93,608.21 88.43,605.59 88.94,610.43 89.45,607.2 89.96,607.3 90.47,606.87 90.98,608.03 91.49,607.76 91.99,605.73 92.5,610.46 93.01,609.29 93.52,609.42 94.03,613.2 94.54,613.12 95.04,612.15 95.55,613.15 96.06,610.14 96.57,611.66 97.08,606.8 97.59,614.16 98.1,614.46 98.6,609.58 99.11,615.13 99.62,609.77 100.13,620.07 100.64,615.83 101.15,612.21 101.66,612.35 102.16,615.29 102.67,618.05 103.18,617.38 103.69,615.77 104.2,617.02 104.71,616.38 105.22,619.66 105.72,617.08 106.23,616.64 106.74,613.23 107.25,617.98 107.76,618.35 108.27,621.75 108.77,623.47 109.28,625.7 109.79,620.26 110.3,612.63 110.81,622.04 111.32,627.27 111.83,622.03 112.33,623.05 112.84,623.55 113.35,620.05 113.86,620.71 114.37,620.08 114.88,624.36 115.39,622.9 115.89,621.28 116.4,621.49 116.91,625.6 117.42,621.14 117.93,623.32 118.44,623.71 118.95,626.79 119.45,622.82 119.96,628.01 120.47,626.04 120.98,626.64 121.49,621.12 122,625.37 122.5,627.21 123.01,624.8 123.52,621.2 124.03,626.53 124.54,628.41 125.05,628.75 125.56,626.84 126.06,623.43 126.57,626.85 127.08,627.75 127.59,629.23 128.1,629.57 128.61,625.9 129.12,627.74 129.62,627.85 130.13,631.69 130.64,628.31 131.15,629.02 131.66,626.65 132.17,628.29 132.67,630.74 133.18,629.82 133.69,630.62 134.2,631.51 134.71,633.46 135.22,630.2 135.73,627.98 136.23,632.58 136.74,629.62 137.25,634.12 137.76,634.07 138.27,633.7 138.78,634.79 139.29,631.8 139.79,631.34 140.3,638.55 140.81,632.22 141.32,633.15 141.83,632.15 142.34,635.96 142.85,634.11 143.35,632.11 143.86,632.59 144.37,631.13 144.88,636.01 145.39,632.14 145.9,633.29 146.4,637.29 146.91,633.48 147.42,632.93 147.93,634.73 148.44,637.89 148.95,637.07 149.46,636.75 149.96,635.05 150.47,635.66 150.98,637.81 151.49,640.25 152,640.57 152.51,639.61 153.02,637.82 153.52,638.94 154.03,640.29 154.54,637.83 155.05,639.32 155.56,638.72 156.07,639.58 156.58,638.27 157.08,641.49 157.59,641.59 158.1,641.96 158.61,639.35 159.12,638.19 159.63,637.42 160.13,640 160.64,640.47 161.15,638.69 161.66,639.74 162.17,642.03 162.68,638.89 163.19,640.77 163.69,642.89 164.2,640.65 164.71,641.65 165.22,640.31 165.73,641.67 166.24,640.9 166.75,641.61 167.25,641.21 167.76,639.65 168.27,640.42 168.78,641.19 169.29,639.19 169.8,643.52 170.3,641.26 170.81,639.26 171.32,640.46 171.83,638.91 172.34,643.28 172.85,639.1 173.36,642.53 173.86,639.36 174.37,641.23 174.88,640.15 175.39,643.88 175.9,642.28 176.41,645.21 176.92,641.03 177.42,640.49 177.93,640.93 178.44,638.12 178.95,640.8 179.46,641.2 179.97,640.55 180.48,642.7 180.98,639.57 181.49,641.56 182,641.83 182.51,643.13 183.02,644.24 183.53,644.98 184.03,643.87 184.54,641.8 185.05,646.93 185.56,643.2 186.07,638.54 186.58,643.61 187.09,643.72 187.59,642.62 188.1,641.07 188.61,642.23 189.12,642.56" fill="none" stroke="#0a0a0a" stroke-width="1.25" stroke-linejoin="round"/>
<line x1="124.2" y1="595.8" x2="138.8" y2="595.8" stroke="#000" stroke-width="1" />
<line x1="124.2" y1="605.9" x2="138.8" y2="605.9" stroke="#ed1c24" stroke-width="1" />
<text x="142.6" y="598.6" font-size="10.6" textLength="17.2" lengthAdjust="spacingAndGlyphs">Veh</text>
<text x="142.6" y="609" font-size="10.6" textLength="22.4" lengthAdjust="spacingAndGlyphs">Clod</text>
<text x="225.6" y="455.9" font-size="18" font-weight="bold" fill="#0c0c0c">H</text>
<circle cx="270" cy="460.8" r="3" fill="#fff" stroke="#000" stroke-width="1.35" />
<line x1="262" y1="460.8" x2="278" y2="460.8" stroke="#000" stroke-width="1.3" />
<text x="281.2" y="464.5" font-size="10.5" textLength="51.8" lengthAdjust="spacingAndGlyphs">Veh (<tspan font-style="italic">n</tspan> = 7)</text>
<line x1="262" y1="473.3" x2="278" y2="473.3" stroke="#000" stroke-width="1.5" />
<circle cx="270" cy="473.3" r="3.35" fill="#000" />
<text x="281.2" y="477" font-size="10.5" textLength="55.8" lengthAdjust="spacingAndGlyphs">Clod (<tspan font-style="italic">n</tspan> = 7)</text>
<line x1="262" y1="485.8" x2="278" y2="485.8" stroke="#1414e6" stroke-width="1.5" />
<circle cx="270" cy="485.8" r="3.35" fill="#1414e6" />
<text x="281.2" y="489.5" font-size="10.5" textLength="82.6" lengthAdjust="spacingAndGlyphs">Veh + Met (<tspan font-style="italic">n</tspan> = 8)</text>
<line x1="262" y1="498.9" x2="278" y2="498.9" stroke="#ed1c24" stroke-width="1.5" />
<circle cx="270" cy="498.9" r="3.35" fill="#ed1c24" />
<text x="281.2" y="502.6" font-size="10.5" textLength="87" lengthAdjust="spacingAndGlyphs">Clod + Met (<tspan font-style="italic">n</tspan> = 6)</text>
<path d="M265.5 513.4V664.2H361" stroke="#000" stroke-width="1.4" fill="none" />
<line x1="262.3" y1="664.2" x2="265.5" y2="664.2" stroke="#000" stroke-width="1.1" />
<text x="261.3" y="668.3" font-size="10.3" text-anchor="end">0</text>
<line x1="262.3" y1="645.42" x2="265.5" y2="645.42" stroke="#000" stroke-width="1.1" />
<text x="261.3" y="649.52" font-size="10.3" text-anchor="end" textLength="15.6" lengthAdjust="spacingAndGlyphs">100</text>
<line x1="262.3" y1="626.64" x2="265.5" y2="626.64" stroke="#000" stroke-width="1.1" />
<text x="261.3" y="630.74" font-size="10.3" text-anchor="end" textLength="15.6" lengthAdjust="spacingAndGlyphs">200</text>
<line x1="262.3" y1="607.86" x2="265.5" y2="607.86" stroke="#000" stroke-width="1.1" />
<text x="261.3" y="611.96" font-size="10.3" text-anchor="end" textLength="15.6" lengthAdjust="spacingAndGlyphs">300</text>
<line x1="262.3" y1="589.08" x2="265.5" y2="589.08" stroke="#000" stroke-width="1.1" />
<text x="261.3" y="593.18" font-size="10.3" text-anchor="end" textLength="15.6" lengthAdjust="spacingAndGlyphs">400</text>
<line x1="262.3" y1="570.3" x2="265.5" y2="570.3" stroke="#000" stroke-width="1.1" />
<text x="261.3" y="574.4" font-size="10.3" text-anchor="end" textLength="15.6" lengthAdjust="spacingAndGlyphs">500</text>
<line x1="262.3" y1="551.52" x2="265.5" y2="551.52" stroke="#000" stroke-width="1.1" />
<text x="261.3" y="555.62" font-size="10.3" text-anchor="end" textLength="15.6" lengthAdjust="spacingAndGlyphs">600</text>
<line x1="262.3" y1="532.74" x2="265.5" y2="532.74" stroke="#000" stroke-width="1.1" />
<text x="261.3" y="536.84" font-size="10.3" text-anchor="end" textLength="15.6" lengthAdjust="spacingAndGlyphs">700</text>
<line x1="262.3" y1="513.96" x2="265.5" y2="513.96" stroke="#000" stroke-width="1.1" />
<text x="261.3" y="518.06" font-size="10.3" text-anchor="end" textLength="15.6" lengthAdjust="spacingAndGlyphs">800</text>
<line x1="265.5" y1="664.2" x2="265.5" y2="667.4" stroke="#000" stroke-width="1.1" />
<text x="265.5" y="678.2" font-size="10.3" text-anchor="middle">0</text>
<line x1="283.66" y1="664.2" x2="283.66" y2="667.4" stroke="#000" stroke-width="1.1" />
<text x="283.66" y="678.2" font-size="10.3" text-anchor="middle">2</text>
<line x1="301.82" y1="664.2" x2="301.82" y2="667.4" stroke="#000" stroke-width="1.1" />
<text x="301.82" y="678.2" font-size="10.3" text-anchor="middle">4</text>
<line x1="319.98" y1="664.2" x2="319.98" y2="667.4" stroke="#000" stroke-width="1.1" />
<text x="319.98" y="678.2" font-size="10.3" text-anchor="middle">6</text>
<line x1="338.14" y1="664.2" x2="338.14" y2="667.4" stroke="#000" stroke-width="1.1" />
<text x="338.14" y="678.2" font-size="10.3" text-anchor="middle">8</text>
<line x1="356.3" y1="664.2" x2="356.3" y2="667.4" stroke="#000" stroke-width="1.1" />
<text x="356.3" y="678.2" font-size="10.3" text-anchor="middle" textLength="10.6" lengthAdjust="spacingAndGlyphs">10</text>
<text x="312.3" y="692" font-size="10.5" text-anchor="middle" textLength="52" lengthAdjust="spacingAndGlyphs">Time (days)</text>
<text transform="translate(233.7 644.4) rotate(-90)" font-size="11.2" textLength="117.6" lengthAdjust="spacingAndGlyphs">Tumor volume (mm<tspan font-size="6.4" dy="-3.6">3</tspan><tspan dy="3.6">)</tspan></text>
<polyline points="265.5,646.55 283.66,633.21 301.82,611.62 319.98,594.71 338.14,562.6 356.3,530.86" fill="none" stroke="#000" stroke-width="1.5"/>
<path d="M283.66 630.02V636.41M280.06 630.02h7.2M280.06 636.41h7.2" stroke="#000" stroke-width="1.15" fill="none" />
<path d="M301.82 607.48V615.75M298.22 607.48h7.2M298.22 615.75h7.2" stroke="#000" stroke-width="1.15" fill="none" />
<path d="M319.98 589.46V600.35M316.38 589.46h7.2M316.38 600.35h7.2" stroke="#000" stroke-width="1.15" fill="none" />
<path d="M338.14 554.15V571.24M334.54 554.15h7.2M334.54 571.24h7.2" stroke="#000" stroke-width="1.15" fill="none" />
<path d="M356.3 522.41V540.06M352.7 522.41h7.2M352.7 540.06h7.2" stroke="#000" stroke-width="1.15" fill="none" />
<circle cx="265.5" cy="646.55" r="3.1" fill="#fff" stroke="#000" stroke-width="1.45" />
<circle cx="283.66" cy="633.21" r="3.1" fill="#fff" stroke="#000" stroke-width="1.45" />
<circle cx="301.82" cy="611.62" r="3.1" fill="#fff" stroke="#000" stroke-width="1.45" />
<circle cx="319.98" cy="594.71" r="3.1" fill="#fff" stroke="#000" stroke-width="1.45" />
<circle cx="338.14" cy="562.6" r="3.1" fill="#fff" stroke="#000" stroke-width="1.45" />
<circle cx="356.3" cy="530.86" r="3.1" fill="#fff" stroke="#000" stroke-width="1.45" />
<polyline points="265.5,646.55 283.66,636.03 301.82,619.13 319.98,600.35 338.14,578.19 356.3,562.22" fill="none" stroke="#000" stroke-width="1.5"/>
<path d="M301.82 615.75V622.51M298.22 615.75h7.2M298.22 622.51h7.2" stroke="#000" stroke-width="1.15" fill="none" />
<path d="M319.98 595.84V604.86M316.38 595.84h7.2M316.38 604.86h7.2" stroke="#000" stroke-width="1.15" fill="none" />
<path d="M338.14 573.3V583.45M334.54 573.3h7.2M334.54 583.45h7.2" stroke="#000" stroke-width="1.15" fill="none" />
<path d="M356.3 555.28V569.36M352.7 555.28h7.2M352.7 569.36h7.2" stroke="#000" stroke-width="1.15" fill="none" />
<circle cx="265.5" cy="646.55" r="3.55" fill="#000" />
<circle cx="283.66" cy="636.03" r="3.55" fill="#000" />
<circle cx="301.82" cy="619.13" r="3.55" fill="#000" />
<circle cx="319.98" cy="600.35" r="3.55" fill="#000" />
<circle cx="338.14" cy="578.19" r="3.55" fill="#000" />
<circle cx="356.3" cy="562.22" r="3.55" fill="#000" />
<polyline points="265.5,646.55 283.66,636.59 301.82,619.5 319.98,603.17 338.14,586.08 356.3,560.72" fill="none" stroke="#1414e6" stroke-width="1.5"/>
<path d="M301.82 615.75V623.26M298.22 615.75h7.2M298.22 623.26h7.2" stroke="#1414e6" stroke-width="1.15" fill="none" />
<path d="M319.98 598.47V607.86M316.38 598.47h7.2M316.38 607.86h7.2" stroke="#1414e6" stroke-width="1.15" fill="none" />
<path d="M338.14 579.31V592.84M334.54 579.31h7.2M334.54 592.84h7.2" stroke="#1414e6" stroke-width="1.15" fill="none" />
<path d="M356.3 552.65V569.17M352.7 552.65h7.2M352.7 569.17h7.2" stroke="#1414e6" stroke-width="1.15" fill="none" />
<circle cx="265.5" cy="646.55" r="3.55" fill="#1414e6" />
<circle cx="283.66" cy="636.59" r="3.55" fill="#1414e6" />
<circle cx="301.82" cy="619.5" r="3.55" fill="#1414e6" />
<circle cx="319.98" cy="603.17" r="3.55" fill="#1414e6" />
<circle cx="338.14" cy="586.08" r="3.55" fill="#1414e6" />
<circle cx="356.3" cy="560.72" r="3.55" fill="#1414e6" />
<polyline points="265.5,646.73 283.66,637.34 301.82,622.88 319.98,608.24 338.14,599.78 356.3,589.64" fill="none" stroke="#ed1c24" stroke-width="1.5"/>
<path d="M283.66 633.96V640.73M280.06 633.96h7.2M280.06 640.73h7.2" stroke="#ed1c24" stroke-width="1.15" fill="none" />
<path d="M301.82 617.25V628.52M298.22 617.25h7.2M298.22 628.52h7.2" stroke="#ed1c24" stroke-width="1.15" fill="none" />
<path d="M319.98 600.16V616.31M316.38 600.16h7.2M316.38 616.31h7.2" stroke="#ed1c24" stroke-width="1.15" fill="none" />
<path d="M338.14 590.39V610.11M334.54 590.39h7.2M334.54 610.11h7.2" stroke="#ed1c24" stroke-width="1.15" fill="none" />
<path d="M356.3 575.75V604.1M352.7 575.75h7.2M352.7 604.1h7.2" stroke="#ed1c24" stroke-width="1.15" fill="none" />
<circle cx="265.5" cy="646.73" r="3.55" fill="#ed1c24" />
<circle cx="283.66" cy="637.34" r="3.55" fill="#ed1c24" />
<circle cx="301.82" cy="622.88" r="3.55" fill="#ed1c24" />
<circle cx="319.98" cy="608.24" r="3.55" fill="#ed1c24" />
<circle cx="338.14" cy="599.78" r="3.55" fill="#ed1c24" />
<circle cx="356.3" cy="589.64" r="3.55" fill="#ed1c24" />
<path d="M362.6 531.8H365.4V561.4H362.6M362.6 563.6H365.4V590.4H362.6M370.2 531.8H372.8V588.6H370.2" stroke="#222" stroke-width=".8" fill="none" />
<text transform="translate(360.19 545.8) rotate(90)" font-size="14" text-anchor="middle" textLength="10.46" lengthAdjust="spacingAndGlyphs">**</text>
<text transform="translate(360.19 575.4) rotate(90)" font-size="14" text-anchor="middle">*</text>
<text transform="translate(370.29 558.3) rotate(90)" font-size="14" text-anchor="middle" textLength="15.68" lengthAdjust="spacingAndGlyphs">***</text>
<text x="384.3" y="455.9" font-size="18" font-weight="bold" fill="#0c0c0c">I</text>
<circle cx="409.7" cy="460.8" r="3" fill="#fff" stroke="#000" stroke-width="1.35" />
<line x1="402.6" y1="460.8" x2="416.8" y2="460.8" stroke="#000" stroke-width="1.3" />
<text x="419" y="464.5" font-size="10.5" textLength="53.4" lengthAdjust="spacingAndGlyphs">Veh (<tspan font-style="italic">n</tspan> = 5)</text>
<line x1="402.6" y1="472.7" x2="416.8" y2="472.7" stroke="#000" stroke-width="1.5" />
<circle cx="409.7" cy="472.7" r="3.35" fill="#000" />
<text x="419" y="476.4" font-size="10.5" textLength="57.5" lengthAdjust="spacingAndGlyphs">Clod (<tspan font-style="italic">n</tspan> = 6)</text>
<line x1="402.6" y1="484.8" x2="416.8" y2="484.8" stroke="#1414e6" stroke-width="1.5" />
<circle cx="409.7" cy="484.8" r="3.35" fill="#1414e6" />
<text x="419" y="488.5" font-size="10.5" textLength="90" lengthAdjust="spacingAndGlyphs">Veh + 2-DG (<tspan font-style="italic">n</tspan> = 7)</text>
<line x1="402.6" y1="496.9" x2="416.8" y2="496.9" stroke="#ed1c24" stroke-width="1.5" />
<circle cx="409.7" cy="496.9" r="3.35" fill="#ed1c24" />
<text x="419" y="500.6" font-size="10.5" textLength="94" lengthAdjust="spacingAndGlyphs">Clod + 2-DG (<tspan font-style="italic">n</tspan> = 7)</text>
<path d="M421.4 526.8V662.6H506.8" stroke="#000" stroke-width="1.4" fill="none" />
<line x1="418.2" y1="662.6" x2="421.4" y2="662.6" stroke="#000" stroke-width="1.1" />
<text x="415.2" y="666.7" font-size="10.3" text-anchor="end">0</text>
<line x1="418.2" y1="640.04" x2="421.4" y2="640.04" stroke="#000" stroke-width="1.1" />
<text x="415.2" y="644.14" font-size="10.3" text-anchor="end" textLength="15.4" lengthAdjust="spacingAndGlyphs">100</text>
<line x1="418.2" y1="617.48" x2="421.4" y2="617.48" stroke="#000" stroke-width="1.1" />
<text x="415.2" y="621.58" font-size="10.3" text-anchor="end" textLength="15.4" lengthAdjust="spacingAndGlyphs">200</text>
<line x1="418.2" y1="594.92" x2="421.4" y2="594.92" stroke="#000" stroke-width="1.1" />
<text x="415.2" y="599.02" font-size="10.3" text-anchor="end" textLength="15.4" lengthAdjust="spacingAndGlyphs">300</text>
<line x1="418.2" y1="572.36" x2="421.4" y2="572.36" stroke="#000" stroke-width="1.1" />
<text x="415.2" y="576.46" font-size="10.3" text-anchor="end" textLength="15.4" lengthAdjust="spacingAndGlyphs">400</text>
<line x1="418.2" y1="549.8" x2="421.4" y2="549.8" stroke="#000" stroke-width="1.1" />
<text x="415.2" y="553.9" font-size="10.3" text-anchor="end" textLength="15.4" lengthAdjust="spacingAndGlyphs">500</text>
<line x1="418.2" y1="527.24" x2="421.4" y2="527.24" stroke="#000" stroke-width="1.1" />
<text x="415.2" y="531.34" font-size="10.3" text-anchor="end" textLength="15.4" lengthAdjust="spacingAndGlyphs">600</text>
<line x1="421.4" y1="662.6" x2="421.4" y2="665.8" stroke="#000" stroke-width="1.1" />
<text x="421.4" y="677.6" font-size="10.3" text-anchor="middle">0</text>
<line x1="441.52" y1="662.6" x2="441.52" y2="665.8" stroke="#000" stroke-width="1.1" />
<text x="441.52" y="677.6" font-size="10.3" text-anchor="middle">2</text>
<line x1="461.64" y1="662.6" x2="461.64" y2="665.8" stroke="#000" stroke-width="1.1" />
<text x="461.64" y="677.6" font-size="10.3" text-anchor="middle">4</text>
<line x1="481.76" y1="662.6" x2="481.76" y2="665.8" stroke="#000" stroke-width="1.1" />
<text x="481.76" y="677.6" font-size="10.3" text-anchor="middle">6</text>
<line x1="501.88" y1="662.6" x2="501.88" y2="665.8" stroke="#000" stroke-width="1.1" />
<text x="501.88" y="677.6" font-size="10.3" text-anchor="middle">8</text>
<text x="467.2" y="691.4" font-size="10.5" text-anchor="middle" textLength="52" lengthAdjust="spacingAndGlyphs">Time (days)</text>
<polyline points="421.4,636.43 441.52,617.93 461.64,595.37 481.76,567.17 501.88,542.58" fill="none" stroke="#000" stroke-width="1.5"/>
<path d="M441.52 612.52V622.89M438.12 612.52h6.8M438.12 622.89h6.8" stroke="#000" stroke-width="1.15" fill="none" />
<path d="M461.64 583.19V603.49M458.24 583.19h6.8M458.24 603.49h6.8" stroke="#000" stroke-width="1.15" fill="none" />
<path d="M481.76 557.7V575.74M478.36 557.7h6.8M478.36 575.74h6.8" stroke="#000" stroke-width="1.15" fill="none" />
<path d="M501.88 534.46V549.8M498.48 534.46h6.8M498.48 549.8h6.8" stroke="#000" stroke-width="1.15" fill="none" />
<circle cx="421.4" cy="636.43" r="3.1" fill="#fff" stroke="#000" stroke-width="1.45" />
<circle cx="441.52" cy="617.93" r="3.1" fill="#fff" stroke="#000" stroke-width="1.45" />
<circle cx="461.64" cy="595.37" r="3.1" fill="#fff" stroke="#000" stroke-width="1.45" />
<circle cx="481.76" cy="567.17" r="3.1" fill="#fff" stroke="#000" stroke-width="1.45" />
<circle cx="501.88" cy="542.58" r="3.1" fill="#fff" stroke="#000" stroke-width="1.45" />
<polyline points="421.4,636.43 441.52,626.5 461.64,610.26 481.76,586.8 501.88,561.76" fill="none" stroke="#000" stroke-width="1.5"/>
<path d="M461.64 605.3V615.22M458.24 605.3h6.8M458.24 615.22h6.8" stroke="#000" stroke-width="1.15" fill="none" />
<path d="M481.76 580.93V592.66M478.36 580.93h6.8M478.36 592.66h6.8" stroke="#000" stroke-width="1.15" fill="none" />
<path d="M501.88 555.67V567.85M498.48 555.67h6.8M498.48 567.85h6.8" stroke="#000" stroke-width="1.15" fill="none" />
<circle cx="421.4" cy="636.43" r="3.55" fill="#000" />
<circle cx="441.52" cy="626.5" r="3.55" fill="#000" />
<circle cx="461.64" cy="610.26" r="3.55" fill="#000" />
<circle cx="481.76" cy="586.8" r="3.55" fill="#000" />
<circle cx="501.88" cy="561.76" r="3.55" fill="#000" />
<polyline points="421.4,635.98 441.52,625.38 461.64,602.59 481.76,580.03 501.88,550.93" fill="none" stroke="#1414e6" stroke-width="1.5"/>
<path d="M461.64 596.72V608.46M458.24 596.72h6.8M458.24 608.46h6.8" stroke="#1414e6" stroke-width="1.15" fill="none" />
<path d="M481.76 573.26V586.8M478.36 573.26h6.8M478.36 586.8h6.8" stroke="#1414e6" stroke-width="1.15" fill="none" />
<path d="M501.88 545.29V556.57M498.48 545.29h6.8M498.48 556.57h6.8" stroke="#1414e6" stroke-width="1.15" fill="none" />
<circle cx="421.4" cy="635.98" r="3.55" fill="#1414e6" />
<circle cx="441.52" cy="625.38" r="3.55" fill="#1414e6" />
<circle cx="461.64" cy="602.59" r="3.55" fill="#1414e6" />
<circle cx="481.76" cy="580.03" r="3.55" fill="#1414e6" />
<circle cx="501.88" cy="550.93" r="3.55" fill="#1414e6" />
<polyline points="421.4,635.53 441.52,629.89 461.64,613.64 481.76,598.53 501.88,566.49" fill="none" stroke="#ed1c24" stroke-width="1.5"/>
<path d="M441.52 624.47V635.3M438.12 624.47h6.8M438.12 635.3h6.8" stroke="#ed1c24" stroke-width="1.15" fill="none" />
<path d="M461.64 605.52V621.77M458.24 605.52h6.8M458.24 621.77h6.8" stroke="#ed1c24" stroke-width="1.15" fill="none" />
<path d="M481.76 589.51V607.55M478.36 589.51h6.8M478.36 607.55h6.8" stroke="#ed1c24" stroke-width="1.15" fill="none" />
<path d="M501.88 553.41V579.13M498.48 553.41h6.8M498.48 579.13h6.8" stroke="#ed1c24" stroke-width="1.15" fill="none" />
<circle cx="421.4" cy="635.53" r="3.55" fill="#ed1c24" />
<circle cx="441.52" cy="629.89" r="3.55" fill="#ed1c24" />
<circle cx="461.64" cy="613.64" r="3.55" fill="#ed1c24" />
<circle cx="481.76" cy="598.53" r="3.55" fill="#ed1c24" />
<circle cx="501.88" cy="566.49" r="3.55" fill="#ed1c24" />
</g>
</svg>
</body></html>
